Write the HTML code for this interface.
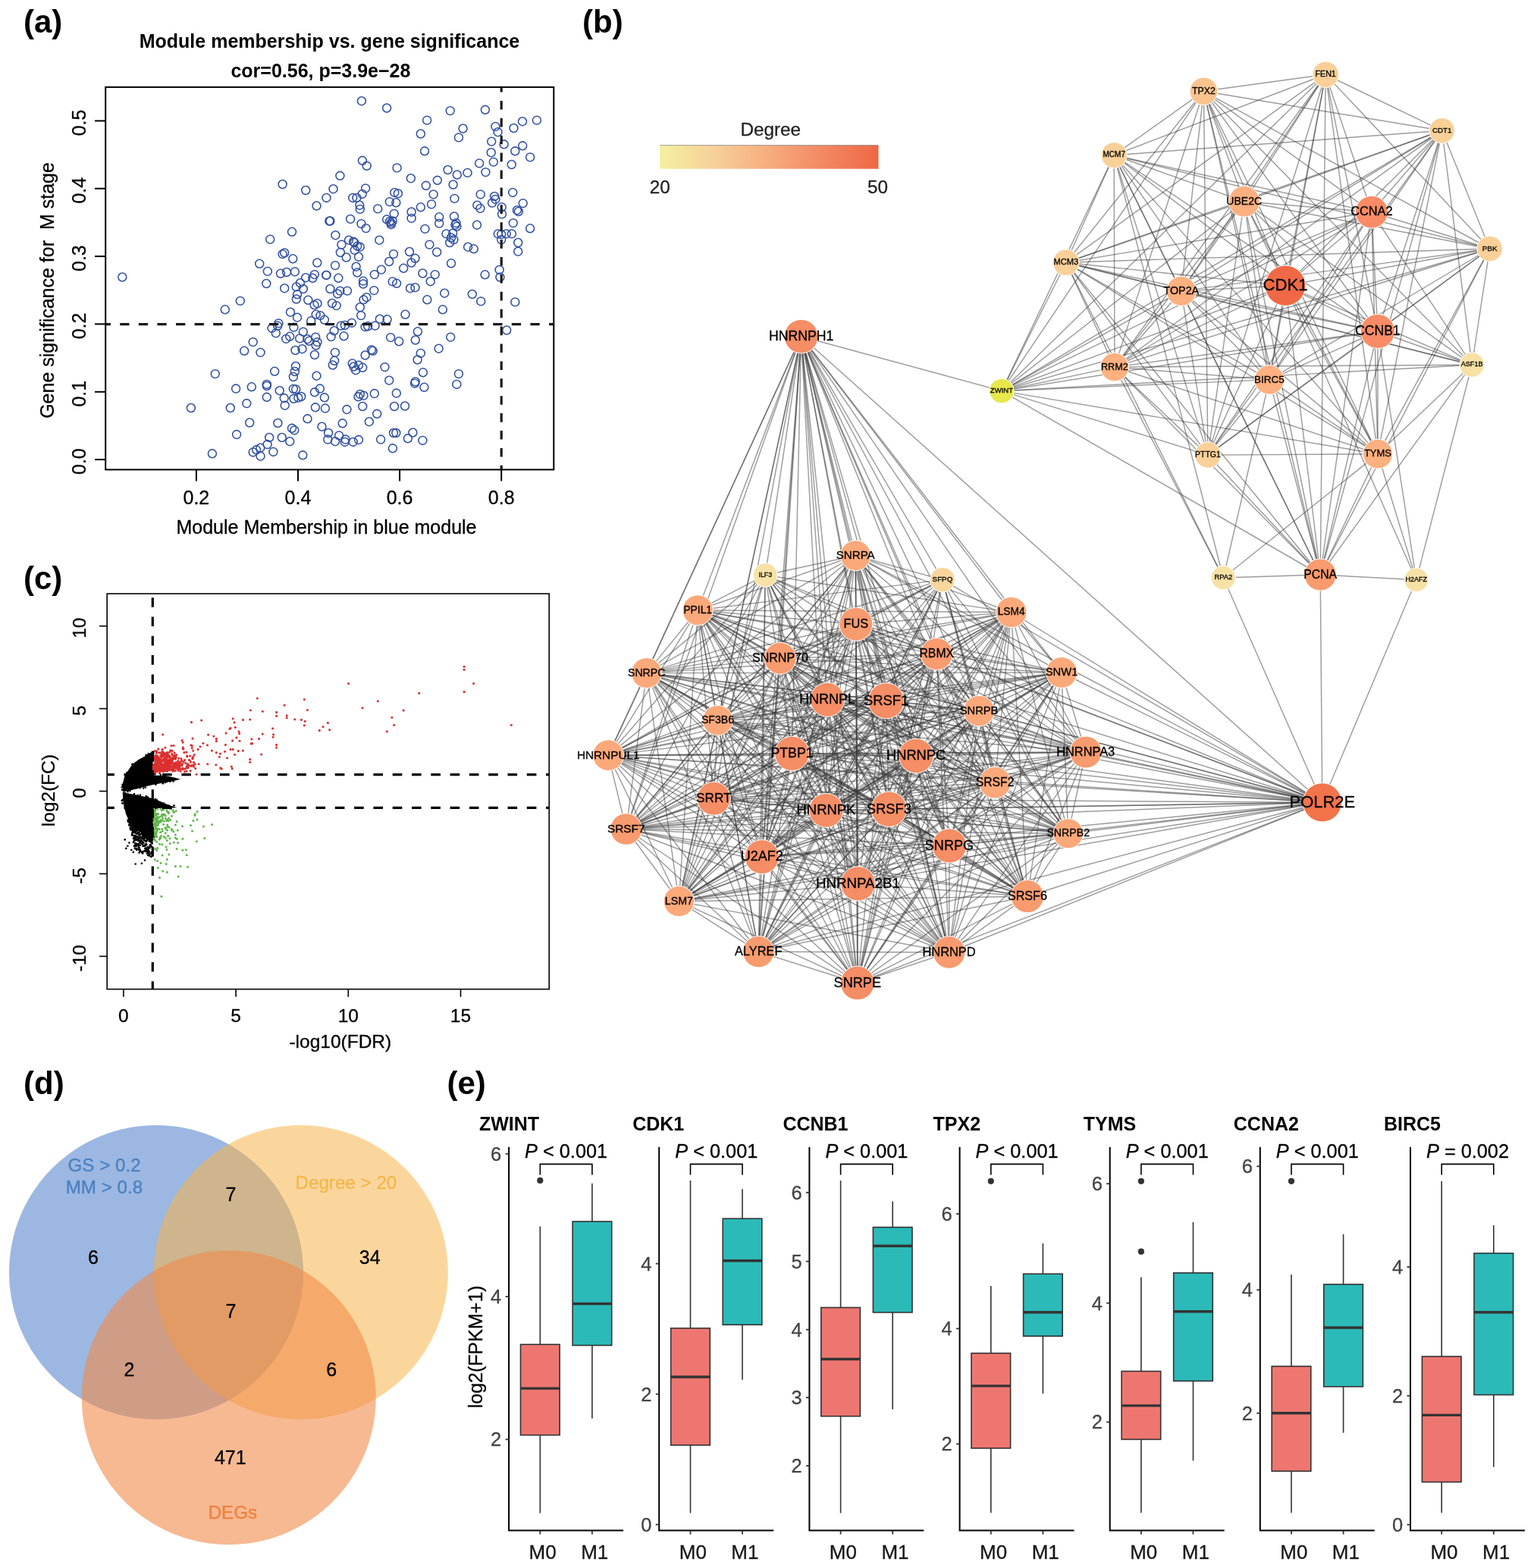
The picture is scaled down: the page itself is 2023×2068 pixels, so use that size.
<!DOCTYPE html>
<html><head><meta charset="utf-8"><title>Figure</title>
<style>html,body{margin:0;padding:0;background:#fff;} svg{display:block;} text{font-family:"Liberation Sans", Arial, Helvetica, sans-serif;}</style>
</head><body>
<svg xmlns="http://www.w3.org/2000/svg" width="2023" height="2068" viewBox="0 0 2023 2068">
<defs><clipPath id="clipa"><rect x="139.2" y="114.9" width="591.1" height="504.5"/></clipPath>
<clipPath id="clipc"><rect x="141.2" y="783" width="583" height="521.6"/></clipPath></defs>
<rect width="2023" height="2068" fill="#fff"/>
<text x="31.0" y="43.0" font-size="42" font-weight="bold">(a)</text>
<text x="768.0" y="43.0" font-size="42" font-weight="bold">(b)</text>
<text x="31.0" y="777.0" font-size="42" font-weight="bold">(c)</text>
<text x="31.0" y="1443.0" font-size="42" font-weight="bold">(d)</text>
<text x="589.5" y="1443.0" font-size="42" font-weight="bold">(e)</text>
<text x="434.5" y="62.6" font-size="25" font-weight="bold" text-anchor="middle">Module membership vs. gene significance</text>
<text x="422.9" y="101.9" font-size="25" font-weight="bold" text-anchor="middle">cor=0.56, p=3.9e−28</text>
<g fill="none" stroke="#3150a0" stroke-width="1.55">
<circle cx="372.6" cy="243.0" r="5.45"/>
<circle cx="403.2" cy="251.0" r="5.45"/>
<circle cx="430.5" cy="260.9" r="5.45"/>
<circle cx="417.5" cy="271.5" r="5.45"/>
<circle cx="434.4" cy="291.5" r="5.45"/>
<circle cx="385.0" cy="305.8" r="5.45"/>
<circle cx="356.2" cy="315.6" r="5.45"/>
<circle cx="372.6" cy="335.1" r="5.45"/>
<circle cx="375.2" cy="333.5" r="5.45"/>
<circle cx="386.3" cy="341.3" r="5.45"/>
<circle cx="342.2" cy="347.8" r="5.45"/>
<circle cx="418.3" cy="346.5" r="5.45"/>
<circle cx="352.9" cy="357.9" r="5.45"/>
<circle cx="370.0" cy="360.8" r="5.45"/>
<circle cx="378.0" cy="359.0" r="5.45"/>
<circle cx="388.9" cy="358.4" r="5.45"/>
<circle cx="414.9" cy="362.1" r="5.45"/>
<circle cx="430.5" cy="362.9" r="5.45"/>
<circle cx="412.3" cy="366.8" r="5.45"/>
<circle cx="403.2" cy="366.2" r="5.45"/>
<circle cx="161.3" cy="365.5" r="5.45"/>
<circle cx="351.3" cy="374.0" r="5.45"/>
<circle cx="395.9" cy="373.2" r="5.45"/>
<circle cx="375.2" cy="380.2" r="5.45"/>
<circle cx="390.8" cy="378.4" r="5.45"/>
<circle cx="399.8" cy="381.0" r="5.45"/>
<circle cx="392.0" cy="388.3" r="5.45"/>
<circle cx="390.8" cy="394.5" r="5.45"/>
<circle cx="406.3" cy="395.8" r="5.45"/>
<circle cx="414.6" cy="402.3" r="5.45"/>
<circle cx="418.5" cy="400.2" r="5.45"/>
<circle cx="316.8" cy="396.9" r="5.45"/>
<circle cx="296.8" cy="408.3" r="5.45"/>
<circle cx="383.0" cy="411.7" r="5.45"/>
<circle cx="392.0" cy="418.7" r="5.45"/>
<circle cx="416.7" cy="414.8" r="5.45"/>
<circle cx="422.4" cy="416.1" r="5.45"/>
<circle cx="427.9" cy="421.8" r="5.45"/>
<circle cx="410.2" cy="423.3" r="5.45"/>
<circle cx="367.4" cy="426.4" r="5.45"/>
<circle cx="366.1" cy="429.8" r="5.45"/>
<circle cx="358.6" cy="432.9" r="5.45"/>
<circle cx="387.4" cy="431.6" r="5.45"/>
<circle cx="363.8" cy="439.4" r="5.45"/>
<circle cx="399.8" cy="437.6" r="5.45"/>
<circle cx="382.2" cy="443.8" r="5.45"/>
<circle cx="377.3" cy="446.9" r="5.45"/>
<circle cx="395.2" cy="446.4" r="5.45"/>
<circle cx="405.5" cy="447.2" r="5.45"/>
<circle cx="407.6" cy="449.8" r="5.45"/>
<circle cx="416.2" cy="444.6" r="5.45"/>
<circle cx="418.5" cy="451.1" r="5.45"/>
<circle cx="416.7" cy="455.5" r="5.45"/>
<circle cx="333.7" cy="451.1" r="5.45"/>
<circle cx="322.2" cy="462.8" r="5.45"/>
<circle cx="343.5" cy="464.9" r="5.45"/>
<circle cx="389.5" cy="462.0" r="5.45"/>
<circle cx="398.5" cy="460.2" r="5.45"/>
<circle cx="414.9" cy="468.0" r="5.45"/>
<circle cx="283.8" cy="493.1" r="5.45"/>
<circle cx="362.2" cy="489.8" r="5.45"/>
<circle cx="390.0" cy="483.0" r="5.45"/>
<circle cx="388.9" cy="490.0" r="5.45"/>
<circle cx="386.9" cy="497.0" r="5.45"/>
<circle cx="417.5" cy="495.7" r="5.45"/>
<circle cx="351.8" cy="506.9" r="5.45"/>
<circle cx="351.8" cy="509.0" r="5.45"/>
<circle cx="311.1" cy="512.6" r="5.45"/>
<circle cx="331.8" cy="510.3" r="5.45"/>
<circle cx="368.7" cy="515.2" r="5.45"/>
<circle cx="386.9" cy="512.9" r="5.45"/>
<circle cx="390.2" cy="513.4" r="5.45"/>
<circle cx="414.9" cy="517.3" r="5.45"/>
<circle cx="421.9" cy="512.6" r="5.45"/>
<circle cx="351.8" cy="523.8" r="5.45"/>
<circle cx="374.7" cy="525.1" r="5.45"/>
<circle cx="387.4" cy="525.8" r="5.45"/>
<circle cx="393.3" cy="524.6" r="5.45"/>
<circle cx="397.2" cy="523.0" r="5.45"/>
<circle cx="427.9" cy="524.3" r="5.45"/>
<circle cx="251.9" cy="538.0" r="5.45"/>
<circle cx="303.8" cy="538.0" r="5.45"/>
<circle cx="325.3" cy="532.1" r="5.45"/>
<circle cx="375.7" cy="534.7" r="5.45"/>
<circle cx="415.9" cy="537.3" r="5.45"/>
<circle cx="428.9" cy="538.6" r="5.45"/>
<circle cx="405.5" cy="552.3" r="5.45"/>
<circle cx="329.2" cy="557.5" r="5.45"/>
<circle cx="366.4" cy="558.0" r="5.45"/>
<circle cx="385.0" cy="564.8" r="5.45"/>
<circle cx="388.2" cy="567.4" r="5.45"/>
<circle cx="424.5" cy="562.7" r="5.45"/>
<circle cx="312.1" cy="573.1" r="5.45"/>
<circle cx="355.2" cy="577.0" r="5.45"/>
<circle cx="371.8" cy="577.0" r="5.45"/>
<circle cx="382.2" cy="582.2" r="5.45"/>
<circle cx="433.1" cy="571.0" r="5.45"/>
<circle cx="432.3" cy="579.6" r="5.45"/>
<circle cx="352.6" cy="586.1" r="5.45"/>
<circle cx="343.3" cy="590.7" r="5.45"/>
<circle cx="338.1" cy="593.3" r="5.45"/>
<circle cx="333.7" cy="596.4" r="5.45"/>
<circle cx="360.4" cy="595.9" r="5.45"/>
<circle cx="343.5" cy="601.6" r="5.45"/>
<circle cx="279.9" cy="598.3" r="5.45"/>
<circle cx="399.3" cy="600.3" r="5.45"/>
<circle cx="476.9" cy="133.2" r="5.45"/>
<circle cx="510.1" cy="142.5" r="5.45"/>
<circle cx="593.7" cy="146.1" r="5.45"/>
<circle cx="639.9" cy="144.8" r="5.45"/>
<circle cx="563.1" cy="158.6" r="5.45"/>
<circle cx="689.0" cy="160.2" r="5.45"/>
<circle cx="707.9" cy="158.6" r="5.45"/>
<circle cx="610.6" cy="169.5" r="5.45"/>
<circle cx="653.4" cy="166.9" r="5.45"/>
<circle cx="656.5" cy="174.2" r="5.45"/>
<circle cx="677.5" cy="169.0" r="5.45"/>
<circle cx="554.8" cy="176.5" r="5.45"/>
<circle cx="604.9" cy="181.4" r="5.45"/>
<circle cx="648.2" cy="186.6" r="5.45"/>
<circle cx="664.6" cy="190.3" r="5.45"/>
<circle cx="689.2" cy="192.3" r="5.45"/>
<circle cx="679.3" cy="199.3" r="5.45"/>
<circle cx="560.0" cy="199.3" r="5.45"/>
<circle cx="647.7" cy="201.2" r="5.45"/>
<circle cx="699.1" cy="207.4" r="5.45"/>
<circle cx="650.8" cy="213.6" r="5.45"/>
<circle cx="674.7" cy="217.0" r="5.45"/>
<circle cx="632.1" cy="215.4" r="5.45"/>
<circle cx="477.9" cy="211.8" r="5.45"/>
<circle cx="483.7" cy="218.8" r="5.45"/>
<circle cx="523.6" cy="221.4" r="5.45"/>
<circle cx="590.6" cy="224.0" r="5.45"/>
<circle cx="602.8" cy="230.5" r="5.45"/>
<circle cx="616.5" cy="227.9" r="5.45"/>
<circle cx="640.4" cy="227.1" r="5.45"/>
<circle cx="448.4" cy="231.8" r="5.45"/>
<circle cx="541.8" cy="235.2" r="5.45"/>
<circle cx="576.8" cy="237.8" r="5.45"/>
<circle cx="561.8" cy="244.8" r="5.45"/>
<circle cx="597.6" cy="243.5" r="5.45"/>
<circle cx="439.5" cy="249.2" r="5.45"/>
<circle cx="482.1" cy="248.4" r="5.45"/>
<circle cx="477.7" cy="255.9" r="5.45"/>
<circle cx="571.6" cy="256.4" r="5.45"/>
<circle cx="520.3" cy="253.9" r="5.45"/>
<circle cx="524.9" cy="255.2" r="5.45"/>
<circle cx="633.7" cy="256.4" r="5.45"/>
<circle cx="676.2" cy="253.9" r="5.45"/>
<circle cx="652.1" cy="259.0" r="5.45"/>
<circle cx="653.4" cy="262.9" r="5.45"/>
<circle cx="649.0" cy="267.6" r="5.45"/>
<circle cx="465.2" cy="260.9" r="5.45"/>
<circle cx="470.4" cy="260.9" r="5.45"/>
<circle cx="513.8" cy="266.1" r="5.45"/>
<circle cx="522.3" cy="267.3" r="5.45"/>
<circle cx="569.0" cy="269.4" r="5.45"/>
<circle cx="599.4" cy="261.9" r="5.45"/>
<circle cx="474.3" cy="270.7" r="5.45"/>
<circle cx="474.8" cy="275.9" r="5.45"/>
<circle cx="498.2" cy="275.4" r="5.45"/>
<circle cx="554.8" cy="273.3" r="5.45"/>
<circle cx="629.3" cy="270.7" r="5.45"/>
<circle cx="633.4" cy="274.9" r="5.45"/>
<circle cx="661.7" cy="273.3" r="5.45"/>
<circle cx="689.7" cy="268.1" r="5.45"/>
<circle cx="681.9" cy="277.2" r="5.45"/>
<circle cx="683.8" cy="279.0" r="5.45"/>
<circle cx="662.0" cy="282.4" r="5.45"/>
<circle cx="519.7" cy="281.9" r="5.45"/>
<circle cx="542.6" cy="279.5" r="5.45"/>
<circle cx="542.6" cy="287.9" r="5.45"/>
<circle cx="579.2" cy="286.3" r="5.45"/>
<circle cx="579.2" cy="294.6" r="5.45"/>
<circle cx="598.9" cy="285.5" r="5.45"/>
<circle cx="601.5" cy="294.1" r="5.45"/>
<circle cx="600.4" cy="296.7" r="5.45"/>
<circle cx="602.3" cy="298.8" r="5.45"/>
<circle cx="510.1" cy="289.4" r="5.45"/>
<circle cx="514.0" cy="292.0" r="5.45"/>
<circle cx="515.8" cy="294.1" r="5.45"/>
<circle cx="517.7" cy="291.5" r="5.45"/>
<circle cx="515.8" cy="296.2" r="5.45"/>
<circle cx="435.4" cy="291.5" r="5.45"/>
<circle cx="462.1" cy="288.9" r="5.45"/>
<circle cx="476.4" cy="295.1" r="5.45"/>
<circle cx="482.6" cy="301.1" r="5.45"/>
<circle cx="560.5" cy="301.9" r="5.45"/>
<circle cx="629.0" cy="296.7" r="5.45"/>
<circle cx="676.8" cy="294.1" r="5.45"/>
<circle cx="699.1" cy="301.3" r="5.45"/>
<circle cx="588.5" cy="308.4" r="5.45"/>
<circle cx="597.1" cy="307.6" r="5.45"/>
<circle cx="595.0" cy="313.5" r="5.45"/>
<circle cx="598.4" cy="316.1" r="5.45"/>
<circle cx="593.2" cy="320.0" r="5.45"/>
<circle cx="656.8" cy="308.4" r="5.45"/>
<circle cx="661.2" cy="309.1" r="5.45"/>
<circle cx="667.7" cy="308.4" r="5.45"/>
<circle cx="674.9" cy="308.4" r="5.45"/>
<circle cx="661.2" cy="316.1" r="5.45"/>
<circle cx="442.4" cy="310.2" r="5.45"/>
<circle cx="460.0" cy="316.7" r="5.45"/>
<circle cx="466.0" cy="318.7" r="5.45"/>
<circle cx="467.3" cy="320.0" r="5.45"/>
<circle cx="500.3" cy="316.7" r="5.45"/>
<circle cx="450.4" cy="322.6" r="5.45"/>
<circle cx="471.2" cy="324.7" r="5.45"/>
<circle cx="474.8" cy="325.7" r="5.45"/>
<circle cx="467.8" cy="329.9" r="5.45"/>
<circle cx="448.9" cy="333.0" r="5.45"/>
<circle cx="566.4" cy="322.6" r="5.45"/>
<circle cx="576.1" cy="332.5" r="5.45"/>
<circle cx="617.1" cy="325.7" r="5.45"/>
<circle cx="624.8" cy="328.3" r="5.45"/>
<circle cx="683.2" cy="320.0" r="5.45"/>
<circle cx="683.2" cy="331.7" r="5.45"/>
<circle cx="456.7" cy="339.5" r="5.45"/>
<circle cx="473.0" cy="338.7" r="5.45"/>
<circle cx="519.0" cy="335.1" r="5.45"/>
<circle cx="540.0" cy="332.0" r="5.45"/>
<circle cx="547.5" cy="340.8" r="5.45"/>
<circle cx="542.6" cy="346.5" r="5.45"/>
<circle cx="513.2" cy="345.0" r="5.45"/>
<circle cx="595.0" cy="347.3" r="5.45"/>
<circle cx="442.1" cy="350.1" r="5.45"/>
<circle cx="469.6" cy="351.7" r="5.45"/>
<circle cx="471.2" cy="359.5" r="5.45"/>
<circle cx="502.9" cy="355.6" r="5.45"/>
<circle cx="532.2" cy="353.8" r="5.45"/>
<circle cx="430.2" cy="362.9" r="5.45"/>
<circle cx="493.8" cy="362.1" r="5.45"/>
<circle cx="557.4" cy="360.5" r="5.45"/>
<circle cx="573.7" cy="362.1" r="5.45"/>
<circle cx="639.6" cy="362.3" r="5.45"/>
<circle cx="658.6" cy="355.9" r="5.45"/>
<circle cx="659.4" cy="365.5" r="5.45"/>
<circle cx="446.3" cy="366.8" r="5.45"/>
<circle cx="479.0" cy="370.6" r="5.45"/>
<circle cx="479.0" cy="374.5" r="5.45"/>
<circle cx="517.7" cy="371.4" r="5.45"/>
<circle cx="523.1" cy="373.8" r="5.45"/>
<circle cx="567.7" cy="371.2" r="5.45"/>
<circle cx="435.4" cy="381.0" r="5.45"/>
<circle cx="448.4" cy="383.6" r="5.45"/>
<circle cx="445.2" cy="387.5" r="5.45"/>
<circle cx="458.0" cy="383.6" r="5.45"/>
<circle cx="493.3" cy="383.1" r="5.45"/>
<circle cx="541.0" cy="380.2" r="5.45"/>
<circle cx="547.5" cy="379.2" r="5.45"/>
<circle cx="586.2" cy="386.7" r="5.45"/>
<circle cx="622.8" cy="388.0" r="5.45"/>
<circle cx="634.2" cy="397.4" r="5.45"/>
<circle cx="563.3" cy="395.3" r="5.45"/>
<circle cx="679.3" cy="398.4" r="5.45"/>
<circle cx="438.0" cy="400.0" r="5.45"/>
<circle cx="443.7" cy="403.1" r="5.45"/>
<circle cx="483.4" cy="392.2" r="5.45"/>
<circle cx="479.5" cy="395.3" r="5.45"/>
<circle cx="474.8" cy="405.2" r="5.45"/>
<circle cx="476.1" cy="416.1" r="5.45"/>
<circle cx="583.8" cy="408.3" r="5.45"/>
<circle cx="534.5" cy="414.8" r="5.45"/>
<circle cx="500.8" cy="420.7" r="5.45"/>
<circle cx="510.6" cy="421.3" r="5.45"/>
<circle cx="463.9" cy="425.9" r="5.45"/>
<circle cx="449.7" cy="429.6" r="5.45"/>
<circle cx="454.8" cy="429.0" r="5.45"/>
<circle cx="481.6" cy="431.1" r="5.45"/>
<circle cx="485.2" cy="430.3" r="5.45"/>
<circle cx="494.6" cy="429.6" r="5.45"/>
<circle cx="668.2" cy="435.5" r="5.45"/>
<circle cx="440.6" cy="436.3" r="5.45"/>
<circle cx="436.7" cy="444.1" r="5.45"/>
<circle cx="453.5" cy="443.3" r="5.45"/>
<circle cx="550.9" cy="437.3" r="5.45"/>
<circle cx="547.8" cy="448.5" r="5.45"/>
<circle cx="515.1" cy="445.1" r="5.45"/>
<circle cx="526.2" cy="450.3" r="5.45"/>
<circle cx="594.2" cy="444.6" r="5.45"/>
<circle cx="578.6" cy="459.7" r="5.45"/>
<circle cx="441.9" cy="464.9" r="5.45"/>
<circle cx="489.9" cy="461.5" r="5.45"/>
<circle cx="491.7" cy="462.8" r="5.45"/>
<circle cx="481.6" cy="468.5" r="5.45"/>
<circle cx="554.8" cy="465.9" r="5.45"/>
<circle cx="550.6" cy="474.5" r="5.45"/>
<circle cx="441.1" cy="475.8" r="5.45"/>
<circle cx="438.8" cy="481.5" r="5.45"/>
<circle cx="464.7" cy="479.4" r="5.45"/>
<circle cx="473.0" cy="481.7" r="5.45"/>
<circle cx="466.5" cy="483.5" r="5.45"/>
<circle cx="469.1" cy="488.2" r="5.45"/>
<circle cx="478.2" cy="484.8" r="5.45"/>
<circle cx="507.5" cy="484.1" r="5.45"/>
<circle cx="557.9" cy="491.3" r="5.45"/>
<circle cx="604.9" cy="493.1" r="5.45"/>
<circle cx="513.2" cy="501.7" r="5.45"/>
<circle cx="547.8" cy="503.5" r="5.45"/>
<circle cx="547.0" cy="505.6" r="5.45"/>
<circle cx="559.4" cy="510.8" r="5.45"/>
<circle cx="602.3" cy="506.9" r="5.45"/>
<circle cx="493.8" cy="519.1" r="5.45"/>
<circle cx="474.8" cy="519.9" r="5.45"/>
<circle cx="472.5" cy="523.3" r="5.45"/>
<circle cx="479.5" cy="521.7" r="5.45"/>
<circle cx="522.8" cy="518.6" r="5.45"/>
<circle cx="478.2" cy="536.0" r="5.45"/>
<circle cx="520.0" cy="536.0" r="5.45"/>
<circle cx="534.0" cy="535.5" r="5.45"/>
<circle cx="457.4" cy="540.1" r="5.45"/>
<circle cx="497.2" cy="545.8" r="5.45"/>
<circle cx="451.7" cy="558.3" r="5.45"/>
<circle cx="486.8" cy="556.2" r="5.45"/>
<circle cx="519.0" cy="571.0" r="5.45"/>
<circle cx="522.3" cy="571.0" r="5.45"/>
<circle cx="544.4" cy="570.5" r="5.45"/>
<circle cx="537.9" cy="578.3" r="5.45"/>
<circle cx="557.4" cy="580.9" r="5.45"/>
<circle cx="447.1" cy="574.4" r="5.45"/>
<circle cx="442.1" cy="582.2" r="5.45"/>
<circle cx="455.6" cy="579.6" r="5.45"/>
<circle cx="454.8" cy="582.9" r="5.45"/>
<circle cx="465.7" cy="582.9" r="5.45"/>
<circle cx="473.0" cy="580.1" r="5.45"/>
<circle cx="502.1" cy="579.6" r="5.45"/>
<circle cx="517.9" cy="591.3" r="5.45"/>
</g>
<g clip-path="url(#clipa)">
<line x1="139.2" y1="427.6" x2="730.3" y2="427.6" stroke="#1a1a1a" stroke-width="3.2" stroke-dasharray="12.3 12.3" stroke-dashoffset="5.6"/>
<line x1="661.2" y1="114.9" x2="661.2" y2="619.4" stroke="#1a1a1a" stroke-width="3.2" stroke-dasharray="11.6 11.3" stroke-dashoffset="4.9"/>
</g>
<rect x="139.2" y="114.9" width="591.1" height="504.5" fill="none" stroke="#000" stroke-width="2"/>
<line x1="125.0" y1="606.1" x2="139.2" y2="606.1" stroke="#000" stroke-width="2"/>
<text x="113.2" y="608.6" font-size="25" text-anchor="middle" stroke="#000" stroke-width="0.3" transform="rotate(-90 113.2 608.6)">0.0</text>
<line x1="125.0" y1="516.8" x2="139.2" y2="516.8" stroke="#000" stroke-width="2"/>
<text x="113.2" y="519.2" font-size="25" text-anchor="middle" stroke="#000" stroke-width="0.3" transform="rotate(-90 113.2 519.2)">0.1</text>
<line x1="125.0" y1="427.4" x2="139.2" y2="427.4" stroke="#000" stroke-width="2"/>
<text x="113.2" y="429.9" font-size="25" text-anchor="middle" stroke="#000" stroke-width="0.3" transform="rotate(-90 113.2 429.9)">0.2</text>
<line x1="125.0" y1="338.1" x2="139.2" y2="338.1" stroke="#000" stroke-width="2"/>
<text x="113.2" y="340.6" font-size="25" text-anchor="middle" stroke="#000" stroke-width="0.3" transform="rotate(-90 113.2 340.6)">0.3</text>
<line x1="125.0" y1="248.7" x2="139.2" y2="248.7" stroke="#000" stroke-width="2"/>
<text x="113.2" y="251.2" font-size="25" text-anchor="middle" stroke="#000" stroke-width="0.3" transform="rotate(-90 113.2 251.2)">0.4</text>
<line x1="125.0" y1="159.4" x2="139.2" y2="159.4" stroke="#000" stroke-width="2"/>
<text x="113.2" y="161.9" font-size="25" text-anchor="middle" stroke="#000" stroke-width="0.3" transform="rotate(-90 113.2 161.9)">0.5</text>
<line x1="258.9" y1="619.4" x2="258.9" y2="634.5" stroke="#000" stroke-width="2"/>
<text x="258.9" y="664.6" font-size="25" text-anchor="middle" stroke="#000" stroke-width="0.3">0.2</text>
<line x1="393.0" y1="619.4" x2="393.0" y2="634.5" stroke="#000" stroke-width="2"/>
<text x="393.0" y="664.6" font-size="25" text-anchor="middle" stroke="#000" stroke-width="0.3">0.4</text>
<line x1="527.1" y1="619.4" x2="527.1" y2="634.5" stroke="#000" stroke-width="2"/>
<text x="527.1" y="664.6" font-size="25" text-anchor="middle" stroke="#000" stroke-width="0.3">0.6</text>
<line x1="661.2" y1="619.4" x2="661.2" y2="634.5" stroke="#000" stroke-width="2"/>
<text x="661.2" y="664.6" font-size="25" text-anchor="middle" stroke="#000" stroke-width="0.3">0.8</text>
<text x="430.5" y="703.5" font-size="25" text-anchor="middle" stroke="#000" stroke-width="0.3">Module Membership in blue module</text>
<text x="71.3" y="383.0" font-size="25" text-anchor="middle" stroke="#000" stroke-width="0.3" transform="rotate(-90 71.3 383.0)">Gene significance for  M stage</text>
<g stroke="#3a3a3a" stroke-opacity="0.5" stroke-width="1.45" stroke-linecap="butt">
<line x1="1000.3" y1="1255.2" x2="1128.8" y2="823.2"/>
<line x1="1000.3" y1="1255.2" x2="1131.5" y2="1165.4"/>
<line x1="1000.3" y1="1255.2" x2="1431.8" y2="992.0"/>
<line x1="1000.3" y1="1255.2" x2="1208.2" y2="996.9"/>
<line x1="1000.3" y1="1255.2" x2="1251.6" y2="1256.0"/>
<line x1="1000.3" y1="1255.2" x2="1056.6" y2="443.7"/>
<line x1="1000.3" y1="1255.2" x2="1089.5" y2="1068.8"/>
<line x1="1000.3" y1="1255.2" x2="1091.1" y2="922.8"/>
<line x1="1000.3" y1="1255.2" x2="802.2" y2="996.1"/>
<line x1="1000.3" y1="1255.2" x2="1009.2" y2="758.5"/>
<line x1="1000.3" y1="1255.2" x2="1333.7" y2="807.5"/>
<line x1="1000.3" y1="1255.2" x2="895.4" y2="1188.7"/>
<line x1="1000.3" y1="1255.2" x2="1743.8" y2="1058.3"/>
<line x1="1000.3" y1="1255.2" x2="920.2" y2="804.8"/>
<line x1="1000.3" y1="1255.2" x2="1044.5" y2="993.8"/>
<line x1="1000.3" y1="1255.2" x2="1235.3" y2="862.6"/>
<line x1="1000.3" y1="1255.2" x2="946.5" y2="950.1"/>
<line x1="1000.3" y1="1255.2" x2="1242.9" y2="764.6"/>
<line x1="1000.3" y1="1255.2" x2="1028.9" y2="868.2"/>
<line x1="1000.3" y1="1255.2" x2="1128.3" y2="732.7"/>
<line x1="1000.3" y1="1255.2" x2="1291.1" y2="937.6"/>
<line x1="1000.3" y1="1255.2" x2="1408.7" y2="1099.3"/>
<line x1="1000.3" y1="1255.2" x2="852.7" y2="887.6"/>
<line x1="1000.3" y1="1255.2" x2="1130.8" y2="1296.5"/>
<line x1="1000.3" y1="1255.2" x2="1252.0" y2="1115.5"/>
<line x1="1000.3" y1="1255.2" x2="1400.0" y2="887.0"/>
<line x1="1000.3" y1="1255.2" x2="941.4" y2="1053.2"/>
<line x1="1000.3" y1="1255.2" x2="1168.6" y2="924.3"/>
<line x1="1000.3" y1="1255.2" x2="1312.1" y2="1032.2"/>
<line x1="1000.3" y1="1255.2" x2="1172.4" y2="1067.2"/>
<line x1="1000.3" y1="1255.2" x2="1354.9" y2="1182.2"/>
<line x1="1000.3" y1="1255.2" x2="825.8" y2="1093.5"/>
<line x1="1000.3" y1="1255.2" x2="1004.8" y2="1130.1"/>
<line x1="1941.2" y1="481.2" x2="1808.9" y2="279.7"/>
<line x1="1941.2" y1="481.2" x2="1816.9" y2="437.0"/>
<line x1="1941.2" y1="481.2" x2="1695.1" y2="376.7"/>
<line x1="1941.2" y1="481.2" x2="1901.7" y2="172.3"/>
<line x1="1941.2" y1="481.2" x2="1867.8" y2="764.7"/>
<line x1="1941.2" y1="481.2" x2="1405.9" y2="346.2"/>
<line x1="1941.2" y1="481.2" x2="1964.6" y2="328.0"/>
<line x1="1941.2" y1="481.2" x2="1741.2" y2="758.0"/>
<line x1="1941.2" y1="481.2" x2="1469.9" y2="484.1"/>
<line x1="1941.2" y1="481.2" x2="1557.8" y2="383.9"/>
<line x1="1941.2" y1="481.2" x2="1587.4" y2="120.3"/>
<line x1="1941.2" y1="481.2" x2="1817.0" y2="598.7"/>
<line x1="1941.2" y1="481.2" x2="1640.8" y2="265.7"/>
<line x1="1941.2" y1="481.2" x2="1321.0" y2="515.6"/>
<line x1="1674.0" y1="500.9" x2="1808.9" y2="279.7"/>
<line x1="1674.0" y1="500.9" x2="1816.9" y2="437.0"/>
<line x1="1674.0" y1="500.9" x2="1695.1" y2="376.7"/>
<line x1="1674.0" y1="500.9" x2="1901.7" y2="172.3"/>
<line x1="1674.0" y1="500.9" x2="1748.2" y2="98.3"/>
<line x1="1674.0" y1="500.9" x2="1405.9" y2="346.2"/>
<line x1="1674.0" y1="500.9" x2="1469.2" y2="204.7"/>
<line x1="1674.0" y1="500.9" x2="1964.6" y2="328.0"/>
<line x1="1674.0" y1="500.9" x2="1741.2" y2="758.0"/>
<line x1="1674.0" y1="500.9" x2="1592.9" y2="600.1"/>
<line x1="1674.0" y1="500.9" x2="1613.3" y2="762.0"/>
<line x1="1674.0" y1="500.9" x2="1469.9" y2="484.1"/>
<line x1="1674.0" y1="500.9" x2="1557.8" y2="383.9"/>
<line x1="1674.0" y1="500.9" x2="1587.4" y2="120.3"/>
<line x1="1674.0" y1="500.9" x2="1817.0" y2="598.7"/>
<line x1="1674.0" y1="500.9" x2="1640.8" y2="265.7"/>
<line x1="1674.0" y1="500.9" x2="1321.0" y2="515.6"/>
<line x1="1808.9" y1="279.7" x2="1816.9" y2="437.0"/>
<line x1="1808.9" y1="279.7" x2="1695.1" y2="376.7"/>
<line x1="1808.9" y1="279.7" x2="1901.7" y2="172.3"/>
<line x1="1808.9" y1="279.7" x2="1748.2" y2="98.3"/>
<line x1="1808.9" y1="279.7" x2="1405.9" y2="346.2"/>
<line x1="1808.9" y1="279.7" x2="1469.2" y2="204.7"/>
<line x1="1808.9" y1="279.7" x2="1964.6" y2="328.0"/>
<line x1="1808.9" y1="279.7" x2="1741.2" y2="758.0"/>
<line x1="1808.9" y1="279.7" x2="1592.9" y2="600.1"/>
<line x1="1808.9" y1="279.7" x2="1469.9" y2="484.1"/>
<line x1="1808.9" y1="279.7" x2="1557.8" y2="383.9"/>
<line x1="1808.9" y1="279.7" x2="1587.4" y2="120.3"/>
<line x1="1808.9" y1="279.7" x2="1817.0" y2="598.7"/>
<line x1="1808.9" y1="279.7" x2="1640.8" y2="265.7"/>
<line x1="1808.9" y1="279.7" x2="1321.0" y2="515.6"/>
<line x1="1816.9" y1="437.0" x2="1695.1" y2="376.7"/>
<line x1="1816.9" y1="437.0" x2="1901.7" y2="172.3"/>
<line x1="1816.9" y1="437.0" x2="1748.2" y2="98.3"/>
<line x1="1816.9" y1="437.0" x2="1867.8" y2="764.7"/>
<line x1="1816.9" y1="437.0" x2="1405.9" y2="346.2"/>
<line x1="1816.9" y1="437.0" x2="1469.2" y2="204.7"/>
<line x1="1816.9" y1="437.0" x2="1964.6" y2="328.0"/>
<line x1="1816.9" y1="437.0" x2="1741.2" y2="758.0"/>
<line x1="1816.9" y1="437.0" x2="1592.9" y2="600.1"/>
<line x1="1816.9" y1="437.0" x2="1469.9" y2="484.1"/>
<line x1="1816.9" y1="437.0" x2="1557.8" y2="383.9"/>
<line x1="1816.9" y1="437.0" x2="1587.4" y2="120.3"/>
<line x1="1816.9" y1="437.0" x2="1817.0" y2="598.7"/>
<line x1="1816.9" y1="437.0" x2="1640.8" y2="265.7"/>
<line x1="1816.9" y1="437.0" x2="1321.0" y2="515.6"/>
<line x1="1695.1" y1="376.7" x2="1901.7" y2="172.3"/>
<line x1="1695.1" y1="376.7" x2="1748.2" y2="98.3"/>
<line x1="1695.1" y1="376.7" x2="1867.8" y2="764.7"/>
<line x1="1695.1" y1="376.7" x2="1405.9" y2="346.2"/>
<line x1="1695.1" y1="376.7" x2="1469.2" y2="204.7"/>
<line x1="1695.1" y1="376.7" x2="1964.6" y2="328.0"/>
<line x1="1695.1" y1="376.7" x2="1741.2" y2="758.0"/>
<line x1="1695.1" y1="376.7" x2="1592.9" y2="600.1"/>
<line x1="1695.1" y1="376.7" x2="1469.9" y2="484.1"/>
<line x1="1695.1" y1="376.7" x2="1557.8" y2="383.9"/>
<line x1="1695.1" y1="376.7" x2="1587.4" y2="120.3"/>
<line x1="1695.1" y1="376.7" x2="1817.0" y2="598.7"/>
<line x1="1695.1" y1="376.7" x2="1640.8" y2="265.7"/>
<line x1="1695.1" y1="376.7" x2="1321.0" y2="515.6"/>
<line x1="1901.7" y1="172.3" x2="1748.2" y2="98.3"/>
<line x1="1901.7" y1="172.3" x2="1405.9" y2="346.2"/>
<line x1="1901.7" y1="172.3" x2="1469.2" y2="204.7"/>
<line x1="1901.7" y1="172.3" x2="1964.6" y2="328.0"/>
<line x1="1901.7" y1="172.3" x2="1741.2" y2="758.0"/>
<line x1="1901.7" y1="172.3" x2="1592.9" y2="600.1"/>
<line x1="1901.7" y1="172.3" x2="1469.9" y2="484.1"/>
<line x1="1901.7" y1="172.3" x2="1557.8" y2="383.9"/>
<line x1="1901.7" y1="172.3" x2="1587.4" y2="120.3"/>
<line x1="1901.7" y1="172.3" x2="1817.0" y2="598.7"/>
<line x1="1901.7" y1="172.3" x2="1640.8" y2="265.7"/>
<line x1="1901.7" y1="172.3" x2="1321.0" y2="515.6"/>
<line x1="1748.2" y1="98.3" x2="1405.9" y2="346.2"/>
<line x1="1748.2" y1="98.3" x2="1469.2" y2="204.7"/>
<line x1="1748.2" y1="98.3" x2="1964.6" y2="328.0"/>
<line x1="1748.2" y1="98.3" x2="1741.2" y2="758.0"/>
<line x1="1748.2" y1="98.3" x2="1592.9" y2="600.1"/>
<line x1="1748.2" y1="98.3" x2="1469.9" y2="484.1"/>
<line x1="1748.2" y1="98.3" x2="1557.8" y2="383.9"/>
<line x1="1748.2" y1="98.3" x2="1587.4" y2="120.3"/>
<line x1="1748.2" y1="98.3" x2="1817.0" y2="598.7"/>
<line x1="1748.2" y1="98.3" x2="1640.8" y2="265.7"/>
<line x1="1748.2" y1="98.3" x2="1321.0" y2="515.6"/>
<line x1="1128.8" y1="823.2" x2="1131.5" y2="1165.4"/>
<line x1="1128.8" y1="823.2" x2="1431.8" y2="992.0"/>
<line x1="1128.8" y1="823.2" x2="1208.2" y2="996.9"/>
<line x1="1128.8" y1="823.2" x2="1251.6" y2="1256.0"/>
<line x1="1128.8" y1="823.2" x2="1056.6" y2="443.7"/>
<line x1="1128.8" y1="823.2" x2="1089.5" y2="1068.8"/>
<line x1="1128.8" y1="823.2" x2="1091.1" y2="922.8"/>
<line x1="1128.8" y1="823.2" x2="802.2" y2="996.1"/>
<line x1="1128.8" y1="823.2" x2="1333.7" y2="807.5"/>
<line x1="1128.8" y1="823.2" x2="895.4" y2="1188.7"/>
<line x1="1128.8" y1="823.2" x2="1743.8" y2="1058.3"/>
<line x1="1128.8" y1="823.2" x2="920.2" y2="804.8"/>
<line x1="1128.8" y1="823.2" x2="1044.5" y2="993.8"/>
<line x1="1128.8" y1="823.2" x2="1235.3" y2="862.6"/>
<line x1="1128.8" y1="823.2" x2="946.5" y2="950.1"/>
<line x1="1128.8" y1="823.2" x2="1242.9" y2="764.6"/>
<line x1="1128.8" y1="823.2" x2="1028.9" y2="868.2"/>
<line x1="1128.8" y1="823.2" x2="1128.3" y2="732.7"/>
<line x1="1128.8" y1="823.2" x2="1291.1" y2="937.6"/>
<line x1="1128.8" y1="823.2" x2="1408.7" y2="1099.3"/>
<line x1="1128.8" y1="823.2" x2="852.7" y2="887.6"/>
<line x1="1128.8" y1="823.2" x2="1130.8" y2="1296.5"/>
<line x1="1128.8" y1="823.2" x2="1252.0" y2="1115.5"/>
<line x1="1128.8" y1="823.2" x2="1400.0" y2="887.0"/>
<line x1="1128.8" y1="823.2" x2="941.4" y2="1053.2"/>
<line x1="1128.8" y1="823.2" x2="1168.6" y2="924.3"/>
<line x1="1128.8" y1="823.2" x2="1312.1" y2="1032.2"/>
<line x1="1128.8" y1="823.2" x2="1172.4" y2="1067.2"/>
<line x1="1128.8" y1="823.2" x2="1354.9" y2="1182.2"/>
<line x1="1128.8" y1="823.2" x2="825.8" y2="1093.5"/>
<line x1="1128.8" y1="823.2" x2="1004.8" y2="1130.1"/>
<line x1="1867.8" y1="764.7" x2="1741.2" y2="758.0"/>
<line x1="1867.8" y1="764.7" x2="1743.8" y2="1058.3"/>
<line x1="1867.8" y1="764.7" x2="1817.0" y2="598.7"/>
<line x1="1131.5" y1="1165.4" x2="1431.8" y2="992.0"/>
<line x1="1131.5" y1="1165.4" x2="1208.2" y2="996.9"/>
<line x1="1131.5" y1="1165.4" x2="1251.6" y2="1256.0"/>
<line x1="1131.5" y1="1165.4" x2="1056.6" y2="443.7"/>
<line x1="1131.5" y1="1165.4" x2="1089.5" y2="1068.8"/>
<line x1="1131.5" y1="1165.4" x2="1091.1" y2="922.8"/>
<line x1="1131.5" y1="1165.4" x2="802.2" y2="996.1"/>
<line x1="1131.5" y1="1165.4" x2="1009.2" y2="758.5"/>
<line x1="1131.5" y1="1165.4" x2="1333.7" y2="807.5"/>
<line x1="1131.5" y1="1165.4" x2="895.4" y2="1188.7"/>
<line x1="1131.5" y1="1165.4" x2="1743.8" y2="1058.3"/>
<line x1="1131.5" y1="1165.4" x2="920.2" y2="804.8"/>
<line x1="1131.5" y1="1165.4" x2="1044.5" y2="993.8"/>
<line x1="1131.5" y1="1165.4" x2="1235.3" y2="862.6"/>
<line x1="1131.5" y1="1165.4" x2="946.5" y2="950.1"/>
<line x1="1131.5" y1="1165.4" x2="1028.9" y2="868.2"/>
<line x1="1131.5" y1="1165.4" x2="1128.3" y2="732.7"/>
<line x1="1131.5" y1="1165.4" x2="1291.1" y2="937.6"/>
<line x1="1131.5" y1="1165.4" x2="1408.7" y2="1099.3"/>
<line x1="1131.5" y1="1165.4" x2="852.7" y2="887.6"/>
<line x1="1131.5" y1="1165.4" x2="1130.8" y2="1296.5"/>
<line x1="1131.5" y1="1165.4" x2="1252.0" y2="1115.5"/>
<line x1="1131.5" y1="1165.4" x2="1400.0" y2="887.0"/>
<line x1="1131.5" y1="1165.4" x2="941.4" y2="1053.2"/>
<line x1="1131.5" y1="1165.4" x2="1168.6" y2="924.3"/>
<line x1="1131.5" y1="1165.4" x2="1312.1" y2="1032.2"/>
<line x1="1131.5" y1="1165.4" x2="1172.4" y2="1067.2"/>
<line x1="1131.5" y1="1165.4" x2="1354.9" y2="1182.2"/>
<line x1="1131.5" y1="1165.4" x2="825.8" y2="1093.5"/>
<line x1="1131.5" y1="1165.4" x2="1004.8" y2="1130.1"/>
<line x1="1431.8" y1="992.0" x2="1208.2" y2="996.9"/>
<line x1="1431.8" y1="992.0" x2="1251.6" y2="1256.0"/>
<line x1="1431.8" y1="992.0" x2="1056.6" y2="443.7"/>
<line x1="1431.8" y1="992.0" x2="1089.5" y2="1068.8"/>
<line x1="1431.8" y1="992.0" x2="1091.1" y2="922.8"/>
<line x1="1431.8" y1="992.0" x2="802.2" y2="996.1"/>
<line x1="1431.8" y1="992.0" x2="1333.7" y2="807.5"/>
<line x1="1431.8" y1="992.0" x2="895.4" y2="1188.7"/>
<line x1="1431.8" y1="992.0" x2="1743.8" y2="1058.3"/>
<line x1="1431.8" y1="992.0" x2="920.2" y2="804.8"/>
<line x1="1431.8" y1="992.0" x2="1044.5" y2="993.8"/>
<line x1="1431.8" y1="992.0" x2="1235.3" y2="862.6"/>
<line x1="1431.8" y1="992.0" x2="946.5" y2="950.1"/>
<line x1="1431.8" y1="992.0" x2="1242.9" y2="764.6"/>
<line x1="1431.8" y1="992.0" x2="1028.9" y2="868.2"/>
<line x1="1431.8" y1="992.0" x2="1128.3" y2="732.7"/>
<line x1="1431.8" y1="992.0" x2="1291.1" y2="937.6"/>
<line x1="1431.8" y1="992.0" x2="1408.7" y2="1099.3"/>
<line x1="1431.8" y1="992.0" x2="852.7" y2="887.6"/>
<line x1="1431.8" y1="992.0" x2="1130.8" y2="1296.5"/>
<line x1="1431.8" y1="992.0" x2="1252.0" y2="1115.5"/>
<line x1="1431.8" y1="992.0" x2="1400.0" y2="887.0"/>
<line x1="1431.8" y1="992.0" x2="941.4" y2="1053.2"/>
<line x1="1431.8" y1="992.0" x2="1168.6" y2="924.3"/>
<line x1="1431.8" y1="992.0" x2="1312.1" y2="1032.2"/>
<line x1="1431.8" y1="992.0" x2="1172.4" y2="1067.2"/>
<line x1="1431.8" y1="992.0" x2="1354.9" y2="1182.2"/>
<line x1="1431.8" y1="992.0" x2="825.8" y2="1093.5"/>
<line x1="1431.8" y1="992.0" x2="1004.8" y2="1130.1"/>
<line x1="1208.2" y1="996.9" x2="1251.6" y2="1256.0"/>
<line x1="1208.2" y1="996.9" x2="1056.6" y2="443.7"/>
<line x1="1208.2" y1="996.9" x2="1089.5" y2="1068.8"/>
<line x1="1208.2" y1="996.9" x2="1091.1" y2="922.8"/>
<line x1="1208.2" y1="996.9" x2="802.2" y2="996.1"/>
<line x1="1208.2" y1="996.9" x2="1009.2" y2="758.5"/>
<line x1="1208.2" y1="996.9" x2="1333.7" y2="807.5"/>
<line x1="1208.2" y1="996.9" x2="895.4" y2="1188.7"/>
<line x1="1208.2" y1="996.9" x2="1743.8" y2="1058.3"/>
<line x1="1208.2" y1="996.9" x2="920.2" y2="804.8"/>
<line x1="1208.2" y1="996.9" x2="1044.5" y2="993.8"/>
<line x1="1208.2" y1="996.9" x2="1235.3" y2="862.6"/>
<line x1="1208.2" y1="996.9" x2="946.5" y2="950.1"/>
<line x1="1208.2" y1="996.9" x2="1242.9" y2="764.6"/>
<line x1="1208.2" y1="996.9" x2="1028.9" y2="868.2"/>
<line x1="1208.2" y1="996.9" x2="1128.3" y2="732.7"/>
<line x1="1208.2" y1="996.9" x2="1291.1" y2="937.6"/>
<line x1="1208.2" y1="996.9" x2="1408.7" y2="1099.3"/>
<line x1="1208.2" y1="996.9" x2="852.7" y2="887.6"/>
<line x1="1208.2" y1="996.9" x2="1130.8" y2="1296.5"/>
<line x1="1208.2" y1="996.9" x2="1252.0" y2="1115.5"/>
<line x1="1208.2" y1="996.9" x2="1400.0" y2="887.0"/>
<line x1="1208.2" y1="996.9" x2="941.4" y2="1053.2"/>
<line x1="1208.2" y1="996.9" x2="1168.6" y2="924.3"/>
<line x1="1208.2" y1="996.9" x2="1312.1" y2="1032.2"/>
<line x1="1208.2" y1="996.9" x2="1172.4" y2="1067.2"/>
<line x1="1208.2" y1="996.9" x2="1354.9" y2="1182.2"/>
<line x1="1208.2" y1="996.9" x2="825.8" y2="1093.5"/>
<line x1="1208.2" y1="996.9" x2="1004.8" y2="1130.1"/>
<line x1="1251.6" y1="1256.0" x2="1056.6" y2="443.7"/>
<line x1="1251.6" y1="1256.0" x2="1089.5" y2="1068.8"/>
<line x1="1251.6" y1="1256.0" x2="1091.1" y2="922.8"/>
<line x1="1251.6" y1="1256.0" x2="802.2" y2="996.1"/>
<line x1="1251.6" y1="1256.0" x2="1009.2" y2="758.5"/>
<line x1="1251.6" y1="1256.0" x2="1333.7" y2="807.5"/>
<line x1="1251.6" y1="1256.0" x2="895.4" y2="1188.7"/>
<line x1="1251.6" y1="1256.0" x2="1743.8" y2="1058.3"/>
<line x1="1251.6" y1="1256.0" x2="920.2" y2="804.8"/>
<line x1="1251.6" y1="1256.0" x2="1044.5" y2="993.8"/>
<line x1="1251.6" y1="1256.0" x2="1235.3" y2="862.6"/>
<line x1="1251.6" y1="1256.0" x2="946.5" y2="950.1"/>
<line x1="1251.6" y1="1256.0" x2="1028.9" y2="868.2"/>
<line x1="1251.6" y1="1256.0" x2="1128.3" y2="732.7"/>
<line x1="1251.6" y1="1256.0" x2="1291.1" y2="937.6"/>
<line x1="1251.6" y1="1256.0" x2="1408.7" y2="1099.3"/>
<line x1="1251.6" y1="1256.0" x2="852.7" y2="887.6"/>
<line x1="1251.6" y1="1256.0" x2="1130.8" y2="1296.5"/>
<line x1="1251.6" y1="1256.0" x2="1252.0" y2="1115.5"/>
<line x1="1251.6" y1="1256.0" x2="1400.0" y2="887.0"/>
<line x1="1251.6" y1="1256.0" x2="941.4" y2="1053.2"/>
<line x1="1251.6" y1="1256.0" x2="1168.6" y2="924.3"/>
<line x1="1251.6" y1="1256.0" x2="1312.1" y2="1032.2"/>
<line x1="1251.6" y1="1256.0" x2="1172.4" y2="1067.2"/>
<line x1="1251.6" y1="1256.0" x2="1354.9" y2="1182.2"/>
<line x1="1251.6" y1="1256.0" x2="825.8" y2="1093.5"/>
<line x1="1251.6" y1="1256.0" x2="1004.8" y2="1130.1"/>
<line x1="1056.6" y1="443.7" x2="1089.5" y2="1068.8"/>
<line x1="1056.6" y1="443.7" x2="1091.1" y2="922.8"/>
<line x1="1056.6" y1="443.7" x2="802.2" y2="996.1"/>
<line x1="1056.6" y1="443.7" x2="1009.2" y2="758.5"/>
<line x1="1056.6" y1="443.7" x2="1333.7" y2="807.5"/>
<line x1="1056.6" y1="443.7" x2="895.4" y2="1188.7"/>
<line x1="1056.6" y1="443.7" x2="1743.8" y2="1058.3"/>
<line x1="1056.6" y1="443.7" x2="920.2" y2="804.8"/>
<line x1="1056.6" y1="443.7" x2="1044.5" y2="993.8"/>
<line x1="1056.6" y1="443.7" x2="1235.3" y2="862.6"/>
<line x1="1056.6" y1="443.7" x2="946.5" y2="950.1"/>
<line x1="1056.6" y1="443.7" x2="1242.9" y2="764.6"/>
<line x1="1056.6" y1="443.7" x2="1028.9" y2="868.2"/>
<line x1="1056.6" y1="443.7" x2="1128.3" y2="732.7"/>
<line x1="1056.6" y1="443.7" x2="1291.1" y2="937.6"/>
<line x1="1056.6" y1="443.7" x2="1408.7" y2="1099.3"/>
<line x1="1056.6" y1="443.7" x2="852.7" y2="887.6"/>
<line x1="1056.6" y1="443.7" x2="1130.8" y2="1296.5"/>
<line x1="1056.6" y1="443.7" x2="1252.0" y2="1115.5"/>
<line x1="1056.6" y1="443.7" x2="1400.0" y2="887.0"/>
<line x1="1056.6" y1="443.7" x2="941.4" y2="1053.2"/>
<line x1="1056.6" y1="443.7" x2="1168.6" y2="924.3"/>
<line x1="1056.6" y1="443.7" x2="1312.1" y2="1032.2"/>
<line x1="1056.6" y1="443.7" x2="1172.4" y2="1067.2"/>
<line x1="1056.6" y1="443.7" x2="1354.9" y2="1182.2"/>
<line x1="1056.6" y1="443.7" x2="825.8" y2="1093.5"/>
<line x1="1056.6" y1="443.7" x2="1004.8" y2="1130.1"/>
<line x1="1056.6" y1="443.7" x2="1321.0" y2="515.6"/>
<line x1="1089.5" y1="1068.8" x2="1091.1" y2="922.8"/>
<line x1="1089.5" y1="1068.8" x2="802.2" y2="996.1"/>
<line x1="1089.5" y1="1068.8" x2="1009.2" y2="758.5"/>
<line x1="1089.5" y1="1068.8" x2="1333.7" y2="807.5"/>
<line x1="1089.5" y1="1068.8" x2="895.4" y2="1188.7"/>
<line x1="1089.5" y1="1068.8" x2="1743.8" y2="1058.3"/>
<line x1="1089.5" y1="1068.8" x2="920.2" y2="804.8"/>
<line x1="1089.5" y1="1068.8" x2="1044.5" y2="993.8"/>
<line x1="1089.5" y1="1068.8" x2="1235.3" y2="862.6"/>
<line x1="1089.5" y1="1068.8" x2="946.5" y2="950.1"/>
<line x1="1089.5" y1="1068.8" x2="1242.9" y2="764.6"/>
<line x1="1089.5" y1="1068.8" x2="1028.9" y2="868.2"/>
<line x1="1089.5" y1="1068.8" x2="1128.3" y2="732.7"/>
<line x1="1089.5" y1="1068.8" x2="1291.1" y2="937.6"/>
<line x1="1089.5" y1="1068.8" x2="1408.7" y2="1099.3"/>
<line x1="1089.5" y1="1068.8" x2="852.7" y2="887.6"/>
<line x1="1089.5" y1="1068.8" x2="1130.8" y2="1296.5"/>
<line x1="1089.5" y1="1068.8" x2="1252.0" y2="1115.5"/>
<line x1="1089.5" y1="1068.8" x2="1400.0" y2="887.0"/>
<line x1="1089.5" y1="1068.8" x2="941.4" y2="1053.2"/>
<line x1="1089.5" y1="1068.8" x2="1168.6" y2="924.3"/>
<line x1="1089.5" y1="1068.8" x2="1312.1" y2="1032.2"/>
<line x1="1089.5" y1="1068.8" x2="1172.4" y2="1067.2"/>
<line x1="1089.5" y1="1068.8" x2="1354.9" y2="1182.2"/>
<line x1="1089.5" y1="1068.8" x2="825.8" y2="1093.5"/>
<line x1="1089.5" y1="1068.8" x2="1004.8" y2="1130.1"/>
<line x1="1091.1" y1="922.8" x2="802.2" y2="996.1"/>
<line x1="1091.1" y1="922.8" x2="1009.2" y2="758.5"/>
<line x1="1091.1" y1="922.8" x2="1333.7" y2="807.5"/>
<line x1="1091.1" y1="922.8" x2="895.4" y2="1188.7"/>
<line x1="1091.1" y1="922.8" x2="1743.8" y2="1058.3"/>
<line x1="1091.1" y1="922.8" x2="920.2" y2="804.8"/>
<line x1="1091.1" y1="922.8" x2="1044.5" y2="993.8"/>
<line x1="1091.1" y1="922.8" x2="1235.3" y2="862.6"/>
<line x1="1091.1" y1="922.8" x2="946.5" y2="950.1"/>
<line x1="1091.1" y1="922.8" x2="1028.9" y2="868.2"/>
<line x1="1091.1" y1="922.8" x2="1128.3" y2="732.7"/>
<line x1="1091.1" y1="922.8" x2="1291.1" y2="937.6"/>
<line x1="1091.1" y1="922.8" x2="1408.7" y2="1099.3"/>
<line x1="1091.1" y1="922.8" x2="852.7" y2="887.6"/>
<line x1="1091.1" y1="922.8" x2="1130.8" y2="1296.5"/>
<line x1="1091.1" y1="922.8" x2="1252.0" y2="1115.5"/>
<line x1="1091.1" y1="922.8" x2="1400.0" y2="887.0"/>
<line x1="1091.1" y1="922.8" x2="941.4" y2="1053.2"/>
<line x1="1091.1" y1="922.8" x2="1168.6" y2="924.3"/>
<line x1="1091.1" y1="922.8" x2="1312.1" y2="1032.2"/>
<line x1="1091.1" y1="922.8" x2="1172.4" y2="1067.2"/>
<line x1="1091.1" y1="922.8" x2="1354.9" y2="1182.2"/>
<line x1="1091.1" y1="922.8" x2="825.8" y2="1093.5"/>
<line x1="1091.1" y1="922.8" x2="1004.8" y2="1130.1"/>
<line x1="802.2" y1="996.1" x2="1009.2" y2="758.5"/>
<line x1="802.2" y1="996.1" x2="1333.7" y2="807.5"/>
<line x1="802.2" y1="996.1" x2="895.4" y2="1188.7"/>
<line x1="802.2" y1="996.1" x2="1743.8" y2="1058.3"/>
<line x1="802.2" y1="996.1" x2="920.2" y2="804.8"/>
<line x1="802.2" y1="996.1" x2="1044.5" y2="993.8"/>
<line x1="802.2" y1="996.1" x2="1235.3" y2="862.6"/>
<line x1="802.2" y1="996.1" x2="946.5" y2="950.1"/>
<line x1="802.2" y1="996.1" x2="1242.9" y2="764.6"/>
<line x1="802.2" y1="996.1" x2="1028.9" y2="868.2"/>
<line x1="802.2" y1="996.1" x2="1128.3" y2="732.7"/>
<line x1="802.2" y1="996.1" x2="1291.1" y2="937.6"/>
<line x1="802.2" y1="996.1" x2="1408.7" y2="1099.3"/>
<line x1="802.2" y1="996.1" x2="852.7" y2="887.6"/>
<line x1="802.2" y1="996.1" x2="1130.8" y2="1296.5"/>
<line x1="802.2" y1="996.1" x2="1252.0" y2="1115.5"/>
<line x1="802.2" y1="996.1" x2="1400.0" y2="887.0"/>
<line x1="802.2" y1="996.1" x2="941.4" y2="1053.2"/>
<line x1="802.2" y1="996.1" x2="1168.6" y2="924.3"/>
<line x1="802.2" y1="996.1" x2="1312.1" y2="1032.2"/>
<line x1="802.2" y1="996.1" x2="1172.4" y2="1067.2"/>
<line x1="802.2" y1="996.1" x2="1354.9" y2="1182.2"/>
<line x1="802.2" y1="996.1" x2="825.8" y2="1093.5"/>
<line x1="802.2" y1="996.1" x2="1004.8" y2="1130.1"/>
<line x1="1009.2" y1="758.5" x2="1333.7" y2="807.5"/>
<line x1="1009.2" y1="758.5" x2="895.4" y2="1188.7"/>
<line x1="1009.2" y1="758.5" x2="1743.8" y2="1058.3"/>
<line x1="1009.2" y1="758.5" x2="920.2" y2="804.8"/>
<line x1="1009.2" y1="758.5" x2="1044.5" y2="993.8"/>
<line x1="1009.2" y1="758.5" x2="1235.3" y2="862.6"/>
<line x1="1009.2" y1="758.5" x2="946.5" y2="950.1"/>
<line x1="1009.2" y1="758.5" x2="1128.3" y2="732.7"/>
<line x1="1009.2" y1="758.5" x2="1291.1" y2="937.6"/>
<line x1="1009.2" y1="758.5" x2="852.7" y2="887.6"/>
<line x1="1009.2" y1="758.5" x2="1312.1" y2="1032.2"/>
<line x1="1009.2" y1="758.5" x2="1172.4" y2="1067.2"/>
<line x1="1009.2" y1="758.5" x2="1354.9" y2="1182.2"/>
<line x1="1009.2" y1="758.5" x2="825.8" y2="1093.5"/>
<line x1="1009.2" y1="758.5" x2="1004.8" y2="1130.1"/>
<line x1="1333.7" y1="807.5" x2="895.4" y2="1188.7"/>
<line x1="1333.7" y1="807.5" x2="1743.8" y2="1058.3"/>
<line x1="1333.7" y1="807.5" x2="920.2" y2="804.8"/>
<line x1="1333.7" y1="807.5" x2="1044.5" y2="993.8"/>
<line x1="1333.7" y1="807.5" x2="1235.3" y2="862.6"/>
<line x1="1333.7" y1="807.5" x2="946.5" y2="950.1"/>
<line x1="1333.7" y1="807.5" x2="1028.9" y2="868.2"/>
<line x1="1333.7" y1="807.5" x2="1128.3" y2="732.7"/>
<line x1="1333.7" y1="807.5" x2="1291.1" y2="937.6"/>
<line x1="1333.7" y1="807.5" x2="1408.7" y2="1099.3"/>
<line x1="1333.7" y1="807.5" x2="852.7" y2="887.6"/>
<line x1="1333.7" y1="807.5" x2="1130.8" y2="1296.5"/>
<line x1="1333.7" y1="807.5" x2="1252.0" y2="1115.5"/>
<line x1="1333.7" y1="807.5" x2="1400.0" y2="887.0"/>
<line x1="1333.7" y1="807.5" x2="941.4" y2="1053.2"/>
<line x1="1333.7" y1="807.5" x2="1168.6" y2="924.3"/>
<line x1="1333.7" y1="807.5" x2="1312.1" y2="1032.2"/>
<line x1="1333.7" y1="807.5" x2="1172.4" y2="1067.2"/>
<line x1="1333.7" y1="807.5" x2="1354.9" y2="1182.2"/>
<line x1="1333.7" y1="807.5" x2="825.8" y2="1093.5"/>
<line x1="1333.7" y1="807.5" x2="1004.8" y2="1130.1"/>
<line x1="895.4" y1="1188.7" x2="1743.8" y2="1058.3"/>
<line x1="895.4" y1="1188.7" x2="920.2" y2="804.8"/>
<line x1="895.4" y1="1188.7" x2="1044.5" y2="993.8"/>
<line x1="895.4" y1="1188.7" x2="1235.3" y2="862.6"/>
<line x1="895.4" y1="1188.7" x2="946.5" y2="950.1"/>
<line x1="895.4" y1="1188.7" x2="1242.9" y2="764.6"/>
<line x1="895.4" y1="1188.7" x2="1028.9" y2="868.2"/>
<line x1="895.4" y1="1188.7" x2="1128.3" y2="732.7"/>
<line x1="895.4" y1="1188.7" x2="1291.1" y2="937.6"/>
<line x1="895.4" y1="1188.7" x2="1408.7" y2="1099.3"/>
<line x1="895.4" y1="1188.7" x2="852.7" y2="887.6"/>
<line x1="895.4" y1="1188.7" x2="1130.8" y2="1296.5"/>
<line x1="895.4" y1="1188.7" x2="1252.0" y2="1115.5"/>
<line x1="895.4" y1="1188.7" x2="1400.0" y2="887.0"/>
<line x1="895.4" y1="1188.7" x2="941.4" y2="1053.2"/>
<line x1="895.4" y1="1188.7" x2="1168.6" y2="924.3"/>
<line x1="895.4" y1="1188.7" x2="1312.1" y2="1032.2"/>
<line x1="895.4" y1="1188.7" x2="1172.4" y2="1067.2"/>
<line x1="895.4" y1="1188.7" x2="1354.9" y2="1182.2"/>
<line x1="895.4" y1="1188.7" x2="825.8" y2="1093.5"/>
<line x1="895.4" y1="1188.7" x2="1004.8" y2="1130.1"/>
<line x1="1405.9" y1="346.2" x2="1469.2" y2="204.7"/>
<line x1="1405.9" y1="346.2" x2="1964.6" y2="328.0"/>
<line x1="1405.9" y1="346.2" x2="1741.2" y2="758.0"/>
<line x1="1405.9" y1="346.2" x2="1592.9" y2="600.1"/>
<line x1="1405.9" y1="346.2" x2="1613.3" y2="762.0"/>
<line x1="1405.9" y1="346.2" x2="1469.9" y2="484.1"/>
<line x1="1405.9" y1="346.2" x2="1557.8" y2="383.9"/>
<line x1="1405.9" y1="346.2" x2="1587.4" y2="120.3"/>
<line x1="1405.9" y1="346.2" x2="1817.0" y2="598.7"/>
<line x1="1405.9" y1="346.2" x2="1640.8" y2="265.7"/>
<line x1="1405.9" y1="346.2" x2="1321.0" y2="515.6"/>
<line x1="1469.2" y1="204.7" x2="1964.6" y2="328.0"/>
<line x1="1469.2" y1="204.7" x2="1741.2" y2="758.0"/>
<line x1="1469.2" y1="204.7" x2="1592.9" y2="600.1"/>
<line x1="1469.2" y1="204.7" x2="1613.3" y2="762.0"/>
<line x1="1469.2" y1="204.7" x2="1469.9" y2="484.1"/>
<line x1="1469.2" y1="204.7" x2="1557.8" y2="383.9"/>
<line x1="1469.2" y1="204.7" x2="1587.4" y2="120.3"/>
<line x1="1469.2" y1="204.7" x2="1817.0" y2="598.7"/>
<line x1="1469.2" y1="204.7" x2="1640.8" y2="265.7"/>
<line x1="1469.2" y1="204.7" x2="1321.0" y2="515.6"/>
<line x1="1964.6" y1="328.0" x2="1741.2" y2="758.0"/>
<line x1="1964.6" y1="328.0" x2="1592.9" y2="600.1"/>
<line x1="1964.6" y1="328.0" x2="1469.9" y2="484.1"/>
<line x1="1964.6" y1="328.0" x2="1557.8" y2="383.9"/>
<line x1="1964.6" y1="328.0" x2="1587.4" y2="120.3"/>
<line x1="1964.6" y1="328.0" x2="1817.0" y2="598.7"/>
<line x1="1964.6" y1="328.0" x2="1640.8" y2="265.7"/>
<line x1="1964.6" y1="328.0" x2="1321.0" y2="515.6"/>
<line x1="1741.2" y1="758.0" x2="1743.8" y2="1058.3"/>
<line x1="1741.2" y1="758.0" x2="1592.9" y2="600.1"/>
<line x1="1741.2" y1="758.0" x2="1613.3" y2="762.0"/>
<line x1="1741.2" y1="758.0" x2="1469.9" y2="484.1"/>
<line x1="1741.2" y1="758.0" x2="1557.8" y2="383.9"/>
<line x1="1741.2" y1="758.0" x2="1587.4" y2="120.3"/>
<line x1="1741.2" y1="758.0" x2="1817.0" y2="598.7"/>
<line x1="1741.2" y1="758.0" x2="1640.8" y2="265.7"/>
<line x1="1741.2" y1="758.0" x2="1321.0" y2="515.6"/>
<line x1="1743.8" y1="1058.3" x2="920.2" y2="804.8"/>
<line x1="1743.8" y1="1058.3" x2="1044.5" y2="993.8"/>
<line x1="1743.8" y1="1058.3" x2="1235.3" y2="862.6"/>
<line x1="1743.8" y1="1058.3" x2="1613.3" y2="762.0"/>
<line x1="1743.8" y1="1058.3" x2="946.5" y2="950.1"/>
<line x1="1743.8" y1="1058.3" x2="1242.9" y2="764.6"/>
<line x1="1743.8" y1="1058.3" x2="1028.9" y2="868.2"/>
<line x1="1743.8" y1="1058.3" x2="1128.3" y2="732.7"/>
<line x1="1743.8" y1="1058.3" x2="1291.1" y2="937.6"/>
<line x1="1743.8" y1="1058.3" x2="1408.7" y2="1099.3"/>
<line x1="1743.8" y1="1058.3" x2="852.7" y2="887.6"/>
<line x1="1743.8" y1="1058.3" x2="1130.8" y2="1296.5"/>
<line x1="1743.8" y1="1058.3" x2="1252.0" y2="1115.5"/>
<line x1="1743.8" y1="1058.3" x2="1400.0" y2="887.0"/>
<line x1="1743.8" y1="1058.3" x2="941.4" y2="1053.2"/>
<line x1="1743.8" y1="1058.3" x2="1168.6" y2="924.3"/>
<line x1="1743.8" y1="1058.3" x2="1312.1" y2="1032.2"/>
<line x1="1743.8" y1="1058.3" x2="1172.4" y2="1067.2"/>
<line x1="1743.8" y1="1058.3" x2="1354.9" y2="1182.2"/>
<line x1="1743.8" y1="1058.3" x2="825.8" y2="1093.5"/>
<line x1="1743.8" y1="1058.3" x2="1004.8" y2="1130.1"/>
<line x1="920.2" y1="804.8" x2="1044.5" y2="993.8"/>
<line x1="920.2" y1="804.8" x2="1235.3" y2="862.6"/>
<line x1="920.2" y1="804.8" x2="946.5" y2="950.1"/>
<line x1="920.2" y1="804.8" x2="1242.9" y2="764.6"/>
<line x1="920.2" y1="804.8" x2="1028.9" y2="868.2"/>
<line x1="920.2" y1="804.8" x2="1128.3" y2="732.7"/>
<line x1="920.2" y1="804.8" x2="1291.1" y2="937.6"/>
<line x1="920.2" y1="804.8" x2="1408.7" y2="1099.3"/>
<line x1="920.2" y1="804.8" x2="852.7" y2="887.6"/>
<line x1="920.2" y1="804.8" x2="1130.8" y2="1296.5"/>
<line x1="920.2" y1="804.8" x2="1252.0" y2="1115.5"/>
<line x1="920.2" y1="804.8" x2="1400.0" y2="887.0"/>
<line x1="920.2" y1="804.8" x2="941.4" y2="1053.2"/>
<line x1="920.2" y1="804.8" x2="1168.6" y2="924.3"/>
<line x1="920.2" y1="804.8" x2="1312.1" y2="1032.2"/>
<line x1="920.2" y1="804.8" x2="1172.4" y2="1067.2"/>
<line x1="920.2" y1="804.8" x2="1354.9" y2="1182.2"/>
<line x1="920.2" y1="804.8" x2="825.8" y2="1093.5"/>
<line x1="920.2" y1="804.8" x2="1004.8" y2="1130.1"/>
<line x1="1044.5" y1="993.8" x2="1235.3" y2="862.6"/>
<line x1="1044.5" y1="993.8" x2="946.5" y2="950.1"/>
<line x1="1044.5" y1="993.8" x2="1028.9" y2="868.2"/>
<line x1="1044.5" y1="993.8" x2="1128.3" y2="732.7"/>
<line x1="1044.5" y1="993.8" x2="1291.1" y2="937.6"/>
<line x1="1044.5" y1="993.8" x2="1408.7" y2="1099.3"/>
<line x1="1044.5" y1="993.8" x2="852.7" y2="887.6"/>
<line x1="1044.5" y1="993.8" x2="1130.8" y2="1296.5"/>
<line x1="1044.5" y1="993.8" x2="1252.0" y2="1115.5"/>
<line x1="1044.5" y1="993.8" x2="1400.0" y2="887.0"/>
<line x1="1044.5" y1="993.8" x2="941.4" y2="1053.2"/>
<line x1="1044.5" y1="993.8" x2="1168.6" y2="924.3"/>
<line x1="1044.5" y1="993.8" x2="1312.1" y2="1032.2"/>
<line x1="1044.5" y1="993.8" x2="1172.4" y2="1067.2"/>
<line x1="1044.5" y1="993.8" x2="1354.9" y2="1182.2"/>
<line x1="1044.5" y1="993.8" x2="825.8" y2="1093.5"/>
<line x1="1044.5" y1="993.8" x2="1004.8" y2="1130.1"/>
<line x1="1592.9" y1="600.1" x2="1469.9" y2="484.1"/>
<line x1="1592.9" y1="600.1" x2="1557.8" y2="383.9"/>
<line x1="1592.9" y1="600.1" x2="1587.4" y2="120.3"/>
<line x1="1592.9" y1="600.1" x2="1817.0" y2="598.7"/>
<line x1="1592.9" y1="600.1" x2="1640.8" y2="265.7"/>
<line x1="1592.9" y1="600.1" x2="1321.0" y2="515.6"/>
<line x1="1235.3" y1="862.6" x2="946.5" y2="950.1"/>
<line x1="1235.3" y1="862.6" x2="1028.9" y2="868.2"/>
<line x1="1235.3" y1="862.6" x2="1128.3" y2="732.7"/>
<line x1="1235.3" y1="862.6" x2="1291.1" y2="937.6"/>
<line x1="1235.3" y1="862.6" x2="1408.7" y2="1099.3"/>
<line x1="1235.3" y1="862.6" x2="852.7" y2="887.6"/>
<line x1="1235.3" y1="862.6" x2="1130.8" y2="1296.5"/>
<line x1="1235.3" y1="862.6" x2="1252.0" y2="1115.5"/>
<line x1="1235.3" y1="862.6" x2="1400.0" y2="887.0"/>
<line x1="1235.3" y1="862.6" x2="941.4" y2="1053.2"/>
<line x1="1235.3" y1="862.6" x2="1168.6" y2="924.3"/>
<line x1="1235.3" y1="862.6" x2="1312.1" y2="1032.2"/>
<line x1="1235.3" y1="862.6" x2="1172.4" y2="1067.2"/>
<line x1="1235.3" y1="862.6" x2="1354.9" y2="1182.2"/>
<line x1="1235.3" y1="862.6" x2="825.8" y2="1093.5"/>
<line x1="1235.3" y1="862.6" x2="1004.8" y2="1130.1"/>
<line x1="1613.3" y1="762.0" x2="1469.9" y2="484.1"/>
<line x1="1613.3" y1="762.0" x2="1817.0" y2="598.7"/>
<line x1="1469.9" y1="484.1" x2="1557.8" y2="383.9"/>
<line x1="1469.9" y1="484.1" x2="1587.4" y2="120.3"/>
<line x1="1469.9" y1="484.1" x2="1817.0" y2="598.7"/>
<line x1="1469.9" y1="484.1" x2="1640.8" y2="265.7"/>
<line x1="1469.9" y1="484.1" x2="1321.0" y2="515.6"/>
<line x1="946.5" y1="950.1" x2="1028.9" y2="868.2"/>
<line x1="946.5" y1="950.1" x2="1128.3" y2="732.7"/>
<line x1="946.5" y1="950.1" x2="1291.1" y2="937.6"/>
<line x1="946.5" y1="950.1" x2="1408.7" y2="1099.3"/>
<line x1="946.5" y1="950.1" x2="852.7" y2="887.6"/>
<line x1="946.5" y1="950.1" x2="1130.8" y2="1296.5"/>
<line x1="946.5" y1="950.1" x2="1252.0" y2="1115.5"/>
<line x1="946.5" y1="950.1" x2="1400.0" y2="887.0"/>
<line x1="946.5" y1="950.1" x2="941.4" y2="1053.2"/>
<line x1="946.5" y1="950.1" x2="1168.6" y2="924.3"/>
<line x1="946.5" y1="950.1" x2="1312.1" y2="1032.2"/>
<line x1="946.5" y1="950.1" x2="1172.4" y2="1067.2"/>
<line x1="946.5" y1="950.1" x2="1354.9" y2="1182.2"/>
<line x1="946.5" y1="950.1" x2="825.8" y2="1093.5"/>
<line x1="946.5" y1="950.1" x2="1004.8" y2="1130.1"/>
<line x1="1242.9" y1="764.6" x2="1028.9" y2="868.2"/>
<line x1="1242.9" y1="764.6" x2="1128.3" y2="732.7"/>
<line x1="1242.9" y1="764.6" x2="1291.1" y2="937.6"/>
<line x1="1242.9" y1="764.6" x2="1408.7" y2="1099.3"/>
<line x1="1242.9" y1="764.6" x2="852.7" y2="887.6"/>
<line x1="1242.9" y1="764.6" x2="1130.8" y2="1296.5"/>
<line x1="1242.9" y1="764.6" x2="1168.6" y2="924.3"/>
<line x1="1242.9" y1="764.6" x2="1312.1" y2="1032.2"/>
<line x1="1242.9" y1="764.6" x2="1354.9" y2="1182.2"/>
<line x1="1242.9" y1="764.6" x2="825.8" y2="1093.5"/>
<line x1="1242.9" y1="764.6" x2="1004.8" y2="1130.1"/>
<line x1="1028.9" y1="868.2" x2="1128.3" y2="732.7"/>
<line x1="1028.9" y1="868.2" x2="1291.1" y2="937.6"/>
<line x1="1028.9" y1="868.2" x2="1408.7" y2="1099.3"/>
<line x1="1028.9" y1="868.2" x2="852.7" y2="887.6"/>
<line x1="1028.9" y1="868.2" x2="1130.8" y2="1296.5"/>
<line x1="1028.9" y1="868.2" x2="1252.0" y2="1115.5"/>
<line x1="1028.9" y1="868.2" x2="1400.0" y2="887.0"/>
<line x1="1028.9" y1="868.2" x2="941.4" y2="1053.2"/>
<line x1="1028.9" y1="868.2" x2="1168.6" y2="924.3"/>
<line x1="1028.9" y1="868.2" x2="1312.1" y2="1032.2"/>
<line x1="1028.9" y1="868.2" x2="1172.4" y2="1067.2"/>
<line x1="1028.9" y1="868.2" x2="1354.9" y2="1182.2"/>
<line x1="1028.9" y1="868.2" x2="825.8" y2="1093.5"/>
<line x1="1028.9" y1="868.2" x2="1004.8" y2="1130.1"/>
<line x1="1128.3" y1="732.7" x2="1291.1" y2="937.6"/>
<line x1="1128.3" y1="732.7" x2="1408.7" y2="1099.3"/>
<line x1="1128.3" y1="732.7" x2="852.7" y2="887.6"/>
<line x1="1128.3" y1="732.7" x2="1130.8" y2="1296.5"/>
<line x1="1128.3" y1="732.7" x2="1252.0" y2="1115.5"/>
<line x1="1128.3" y1="732.7" x2="1400.0" y2="887.0"/>
<line x1="1128.3" y1="732.7" x2="941.4" y2="1053.2"/>
<line x1="1128.3" y1="732.7" x2="1168.6" y2="924.3"/>
<line x1="1128.3" y1="732.7" x2="1312.1" y2="1032.2"/>
<line x1="1128.3" y1="732.7" x2="1172.4" y2="1067.2"/>
<line x1="1128.3" y1="732.7" x2="1354.9" y2="1182.2"/>
<line x1="1128.3" y1="732.7" x2="825.8" y2="1093.5"/>
<line x1="1128.3" y1="732.7" x2="1004.8" y2="1130.1"/>
<line x1="1291.1" y1="937.6" x2="1408.7" y2="1099.3"/>
<line x1="1291.1" y1="937.6" x2="852.7" y2="887.6"/>
<line x1="1291.1" y1="937.6" x2="1130.8" y2="1296.5"/>
<line x1="1291.1" y1="937.6" x2="1252.0" y2="1115.5"/>
<line x1="1291.1" y1="937.6" x2="1400.0" y2="887.0"/>
<line x1="1291.1" y1="937.6" x2="941.4" y2="1053.2"/>
<line x1="1291.1" y1="937.6" x2="1168.6" y2="924.3"/>
<line x1="1291.1" y1="937.6" x2="1312.1" y2="1032.2"/>
<line x1="1291.1" y1="937.6" x2="1172.4" y2="1067.2"/>
<line x1="1291.1" y1="937.6" x2="1354.9" y2="1182.2"/>
<line x1="1291.1" y1="937.6" x2="825.8" y2="1093.5"/>
<line x1="1291.1" y1="937.6" x2="1004.8" y2="1130.1"/>
<line x1="1408.7" y1="1099.3" x2="852.7" y2="887.6"/>
<line x1="1408.7" y1="1099.3" x2="1130.8" y2="1296.5"/>
<line x1="1408.7" y1="1099.3" x2="1252.0" y2="1115.5"/>
<line x1="1408.7" y1="1099.3" x2="1400.0" y2="887.0"/>
<line x1="1408.7" y1="1099.3" x2="941.4" y2="1053.2"/>
<line x1="1408.7" y1="1099.3" x2="1168.6" y2="924.3"/>
<line x1="1408.7" y1="1099.3" x2="1312.1" y2="1032.2"/>
<line x1="1408.7" y1="1099.3" x2="1172.4" y2="1067.2"/>
<line x1="1408.7" y1="1099.3" x2="1354.9" y2="1182.2"/>
<line x1="1408.7" y1="1099.3" x2="825.8" y2="1093.5"/>
<line x1="1408.7" y1="1099.3" x2="1004.8" y2="1130.1"/>
<line x1="852.7" y1="887.6" x2="1130.8" y2="1296.5"/>
<line x1="852.7" y1="887.6" x2="1252.0" y2="1115.5"/>
<line x1="852.7" y1="887.6" x2="1400.0" y2="887.0"/>
<line x1="852.7" y1="887.6" x2="941.4" y2="1053.2"/>
<line x1="852.7" y1="887.6" x2="1168.6" y2="924.3"/>
<line x1="852.7" y1="887.6" x2="1312.1" y2="1032.2"/>
<line x1="852.7" y1="887.6" x2="1172.4" y2="1067.2"/>
<line x1="852.7" y1="887.6" x2="1354.9" y2="1182.2"/>
<line x1="852.7" y1="887.6" x2="825.8" y2="1093.5"/>
<line x1="852.7" y1="887.6" x2="1004.8" y2="1130.1"/>
<line x1="1130.8" y1="1296.5" x2="1252.0" y2="1115.5"/>
<line x1="1130.8" y1="1296.5" x2="1400.0" y2="887.0"/>
<line x1="1130.8" y1="1296.5" x2="941.4" y2="1053.2"/>
<line x1="1130.8" y1="1296.5" x2="1168.6" y2="924.3"/>
<line x1="1130.8" y1="1296.5" x2="1312.1" y2="1032.2"/>
<line x1="1130.8" y1="1296.5" x2="1172.4" y2="1067.2"/>
<line x1="1130.8" y1="1296.5" x2="1354.9" y2="1182.2"/>
<line x1="1130.8" y1="1296.5" x2="825.8" y2="1093.5"/>
<line x1="1130.8" y1="1296.5" x2="1004.8" y2="1130.1"/>
<line x1="1252.0" y1="1115.5" x2="1400.0" y2="887.0"/>
<line x1="1252.0" y1="1115.5" x2="941.4" y2="1053.2"/>
<line x1="1252.0" y1="1115.5" x2="1168.6" y2="924.3"/>
<line x1="1252.0" y1="1115.5" x2="1312.1" y2="1032.2"/>
<line x1="1252.0" y1="1115.5" x2="1172.4" y2="1067.2"/>
<line x1="1252.0" y1="1115.5" x2="1354.9" y2="1182.2"/>
<line x1="1252.0" y1="1115.5" x2="825.8" y2="1093.5"/>
<line x1="1252.0" y1="1115.5" x2="1004.8" y2="1130.1"/>
<line x1="1400.0" y1="887.0" x2="941.4" y2="1053.2"/>
<line x1="1400.0" y1="887.0" x2="1168.6" y2="924.3"/>
<line x1="1400.0" y1="887.0" x2="1312.1" y2="1032.2"/>
<line x1="1400.0" y1="887.0" x2="1172.4" y2="1067.2"/>
<line x1="1400.0" y1="887.0" x2="1354.9" y2="1182.2"/>
<line x1="1400.0" y1="887.0" x2="825.8" y2="1093.5"/>
<line x1="1400.0" y1="887.0" x2="1004.8" y2="1130.1"/>
<line x1="941.4" y1="1053.2" x2="1168.6" y2="924.3"/>
<line x1="941.4" y1="1053.2" x2="1312.1" y2="1032.2"/>
<line x1="941.4" y1="1053.2" x2="1172.4" y2="1067.2"/>
<line x1="941.4" y1="1053.2" x2="1354.9" y2="1182.2"/>
<line x1="941.4" y1="1053.2" x2="825.8" y2="1093.5"/>
<line x1="941.4" y1="1053.2" x2="1004.8" y2="1130.1"/>
<line x1="1168.6" y1="924.3" x2="1312.1" y2="1032.2"/>
<line x1="1168.6" y1="924.3" x2="1172.4" y2="1067.2"/>
<line x1="1168.6" y1="924.3" x2="1354.9" y2="1182.2"/>
<line x1="1168.6" y1="924.3" x2="825.8" y2="1093.5"/>
<line x1="1168.6" y1="924.3" x2="1004.8" y2="1130.1"/>
<line x1="1312.1" y1="1032.2" x2="1172.4" y2="1067.2"/>
<line x1="1312.1" y1="1032.2" x2="1354.9" y2="1182.2"/>
<line x1="1312.1" y1="1032.2" x2="825.8" y2="1093.5"/>
<line x1="1312.1" y1="1032.2" x2="1004.8" y2="1130.1"/>
<line x1="1172.4" y1="1067.2" x2="1354.9" y2="1182.2"/>
<line x1="1172.4" y1="1067.2" x2="825.8" y2="1093.5"/>
<line x1="1172.4" y1="1067.2" x2="1004.8" y2="1130.1"/>
<line x1="1354.9" y1="1182.2" x2="825.8" y2="1093.5"/>
<line x1="1354.9" y1="1182.2" x2="1004.8" y2="1130.1"/>
<line x1="825.8" y1="1093.5" x2="1004.8" y2="1130.1"/>
<line x1="1557.8" y1="383.9" x2="1587.4" y2="120.3"/>
<line x1="1557.8" y1="383.9" x2="1817.0" y2="598.7"/>
<line x1="1557.8" y1="383.9" x2="1640.8" y2="265.7"/>
<line x1="1557.8" y1="383.9" x2="1321.0" y2="515.6"/>
<line x1="1587.4" y1="120.3" x2="1817.0" y2="598.7"/>
<line x1="1587.4" y1="120.3" x2="1640.8" y2="265.7"/>
<line x1="1587.4" y1="120.3" x2="1321.0" y2="515.6"/>
<line x1="1817.0" y1="598.7" x2="1640.8" y2="265.7"/>
<line x1="1817.0" y1="598.7" x2="1321.0" y2="515.6"/>
<line x1="1640.8" y1="265.7" x2="1321.0" y2="515.6"/>
</g>
<circle cx="1748.2" cy="98.3" r="17.2" fill="#F9D098" stroke="#fff" stroke-width="1"/>
<circle cx="1587.4" cy="120.3" r="18.3" fill="#FBC38E" stroke="#fff" stroke-width="1"/>
<circle cx="1901.7" cy="172.3" r="16.7" fill="#F9D098" stroke="#fff" stroke-width="1"/>
<circle cx="1469.2" cy="204.7" r="17.0" fill="#F9D098" stroke="#fff" stroke-width="1"/>
<circle cx="1640.8" cy="265.7" r="20.4" fill="#FDB080" stroke="#fff" stroke-width="1"/>
<circle cx="1808.9" cy="279.7" r="21.4" fill="#F98C66" stroke="#fff" stroke-width="1"/>
<circle cx="1964.6" cy="328.0" r="16.8" fill="#F9D098" stroke="#fff" stroke-width="1"/>
<circle cx="1405.9" cy="346.2" r="17.3" fill="#F9D098" stroke="#fff" stroke-width="1"/>
<circle cx="1695.1" cy="376.7" r="26.7" fill="#F06946" stroke="#fff" stroke-width="1"/>
<circle cx="1557.8" cy="383.9" r="19.5" fill="#FDB080" stroke="#fff" stroke-width="1"/>
<circle cx="1816.9" cy="437.0" r="22.6" fill="#F98C66" stroke="#fff" stroke-width="1"/>
<circle cx="1941.2" cy="481.2" r="16.3" fill="#F7E1A5" stroke="#fff" stroke-width="1"/>
<circle cx="1469.9" cy="484.1" r="18.7" fill="#FDB080" stroke="#fff" stroke-width="1"/>
<circle cx="1674.0" cy="500.9" r="19.4" fill="#FDB080" stroke="#fff" stroke-width="1"/>
<circle cx="1321.0" cy="515.6" r="16.3" fill="#E7E84A" stroke="#fff" stroke-width="1"/>
<circle cx="1592.9" cy="600.1" r="17.1" fill="#F9D098" stroke="#fff" stroke-width="1"/>
<circle cx="1817.0" cy="598.7" r="19.4" fill="#FDB080" stroke="#fff" stroke-width="1"/>
<circle cx="1613.3" cy="762.0" r="16.0" fill="#F7E1A5" stroke="#fff" stroke-width="1"/>
<circle cx="1741.2" cy="758.0" r="21.0" fill="#F89B6F" stroke="#fff" stroke-width="1"/>
<circle cx="1867.8" cy="764.7" r="15.8" fill="#F7E1A5" stroke="#fff" stroke-width="1"/>
<circle cx="1743.8" cy="1058.3" r="25.6" fill="#F3734B" stroke="#fff" stroke-width="1"/>
<circle cx="1056.6" cy="443.7" r="22.3" fill="#F58D65" stroke="#fff" stroke-width="1"/>
<circle cx="1128.3" cy="732.7" r="20.0" fill="#FBA97B" stroke="#fff" stroke-width="1"/>
<circle cx="1009.2" cy="758.5" r="15.9" fill="#F7E1A5" stroke="#fff" stroke-width="1"/>
<circle cx="1242.9" cy="764.6" r="16.4" fill="#F8D69C" stroke="#fff" stroke-width="1"/>
<circle cx="920.2" cy="804.8" r="20.0" fill="#FBA97B" stroke="#fff" stroke-width="1"/>
<circle cx="1333.7" cy="807.5" r="20.2" fill="#FBA97B" stroke="#fff" stroke-width="1"/>
<circle cx="1128.8" cy="823.2" r="22.0" fill="#F89B6F" stroke="#fff" stroke-width="1"/>
<circle cx="1235.3" cy="862.6" r="21.1" fill="#F89B6F" stroke="#fff" stroke-width="1"/>
<circle cx="1028.9" cy="868.2" r="21.0" fill="#F89B6F" stroke="#fff" stroke-width="1"/>
<circle cx="852.7" cy="887.6" r="20.0" fill="#FBA97B" stroke="#fff" stroke-width="1"/>
<circle cx="1400.0" cy="887.0" r="20.4" fill="#FBA97B" stroke="#fff" stroke-width="1"/>
<circle cx="1091.1" cy="922.8" r="22.5" fill="#F58D65" stroke="#fff" stroke-width="1"/>
<circle cx="1168.6" cy="924.3" r="23.6" fill="#F58D65" stroke="#fff" stroke-width="1"/>
<circle cx="1291.1" cy="937.6" r="20.3" fill="#FBA97B" stroke="#fff" stroke-width="1"/>
<circle cx="946.5" cy="950.1" r="19.8" fill="#FBA97B" stroke="#fff" stroke-width="1"/>
<circle cx="802.2" cy="996.1" r="20.3" fill="#FBA97B" stroke="#fff" stroke-width="1"/>
<circle cx="1044.5" cy="993.8" r="22.7" fill="#F58D65" stroke="#fff" stroke-width="1"/>
<circle cx="1208.2" cy="996.9" r="22.8" fill="#F58D65" stroke="#fff" stroke-width="1"/>
<circle cx="1431.8" cy="992.0" r="21.0" fill="#F89B6F" stroke="#fff" stroke-width="1"/>
<circle cx="1312.1" cy="1032.2" r="20.9" fill="#FBA97B" stroke="#fff" stroke-width="1"/>
<circle cx="941.4" cy="1053.2" r="22.0" fill="#F58D65" stroke="#fff" stroke-width="1"/>
<circle cx="1089.5" cy="1068.8" r="22.5" fill="#F58D65" stroke="#fff" stroke-width="1"/>
<circle cx="1172.4" cy="1067.2" r="23.3" fill="#F58D65" stroke="#fff" stroke-width="1"/>
<circle cx="825.8" cy="1093.5" r="20.8" fill="#F89B6F" stroke="#fff" stroke-width="1"/>
<circle cx="1408.7" cy="1099.3" r="19.6" fill="#FBA97B" stroke="#fff" stroke-width="1"/>
<circle cx="1252.0" cy="1115.5" r="22.6" fill="#F58D65" stroke="#fff" stroke-width="1"/>
<circle cx="1004.8" cy="1130.1" r="22.5" fill="#F58D65" stroke="#fff" stroke-width="1"/>
<circle cx="1131.5" cy="1165.4" r="22.7" fill="#F58D65" stroke="#fff" stroke-width="1"/>
<circle cx="895.4" cy="1188.7" r="20.1" fill="#FBA97B" stroke="#fff" stroke-width="1"/>
<circle cx="1354.9" cy="1182.2" r="21.6" fill="#F89B6F" stroke="#fff" stroke-width="1"/>
<circle cx="1000.3" cy="1255.2" r="20.7" fill="#F89B6F" stroke="#fff" stroke-width="1"/>
<circle cx="1251.6" cy="1256.0" r="21.3" fill="#F89B6F" stroke="#fff" stroke-width="1"/>
<circle cx="1130.8" cy="1296.5" r="22.3" fill="#F58D65" stroke="#fff" stroke-width="1"/>
<text x="1734.5" y="101.1" font-size="10.68" stroke="#000" stroke-width="0.3">FEN1</text>
<text x="1572.0" y="123.7" font-size="12.36" stroke="#000" stroke-width="0.3">TPX2</text>
<text x="1889.0" y="174.7" font-size="9.73" stroke="#000" stroke-width="0.3">CDT1</text>
<text x="1454.5" y="207.2" font-size="10.02" stroke="#000" stroke-width="0.3">MCM7</text>
<text x="1617.3" y="269.6" font-size="14.06" stroke="#000" stroke-width="0.3">UBE2C</text>
<text x="1781.2" y="284.4" font-size="16.34" stroke="#000" stroke-width="0.3">CCNA2</text>
<text x="1954.8" y="330.5" font-size="9.85" stroke="#000" stroke-width="0.3">PBK</text>
<text x="1389.6" y="349.1" font-size="11.11" stroke="#000" stroke-width="0.3">MCM3</text>
<text x="1665.5" y="383.4" font-size="22.19" stroke="#000" stroke-width="0.3">CDK1</text>
<text x="1534.5" y="387.9" font-size="14.32" stroke="#000" stroke-width="0.3">TOP2A</text>
<text x="1787.2" y="442.1" font-size="17.52" stroke="#000" stroke-width="0.3">CCNB1</text>
<text x="1926.7" y="483.4" font-size="9.15" stroke="#000" stroke-width="0.3">ASF1B</text>
<text x="1452.0" y="487.5" font-size="12.63" stroke="#000" stroke-width="0.3">RRM2</text>
<text x="1654.0" y="504.7" font-size="13.55" stroke="#000" stroke-width="0.3">BIRC5</text>
<text x="1305.8" y="518.0" font-size="9.57" stroke="#000" stroke-width="0.3">ZWINT</text>
<text x="1576.1" y="602.8" font-size="10.46" stroke="#000" stroke-width="0.3">PTTG1</text>
<text x="1798.9" y="602.3" font-size="13.03" stroke="#000" stroke-width="0.3">TYMS</text>
<text x="1601.4" y="764.3" font-size="9.38" stroke="#000" stroke-width="0.3">RPA2</text>
<text x="1719.2" y="762.5" font-size="15.80" stroke="#000" stroke-width="0.3">PCNA</text>
<text x="1853.6" y="766.9" font-size="8.94" stroke="#000" stroke-width="0.3">H2AFZ</text>
<text x="1700.5" y="1064.9" font-size="21.95" stroke="#000" stroke-width="0.3">POLR2E</text>
<text x="1013.9" y="448.9" font-size="17.67" stroke="#000" stroke-width="0.3">HNRNPH1</text>
<text x="1102.8" y="737.0" font-size="15.10" stroke="#000" stroke-width="0.3">SNRPA</text>
<text x="1000.5" y="760.6" font-size="8.75" stroke="#000" stroke-width="0.3">ILF3</text>
<text x="1229.6" y="767.1" font-size="9.81" stroke="#000" stroke-width="0.3">SFPQ</text>
<text x="901.4" y="808.7" font-size="13.84" stroke="#000" stroke-width="0.3">PPIL1</text>
<text x="1315.7" y="811.3" font-size="13.78" stroke="#000" stroke-width="0.3">LSM4</text>
<text x="1112.5" y="827.9" font-size="16.30" stroke="#000" stroke-width="0.3">FUS</text>
<text x="1212.5" y="867.1" font-size="15.75" stroke="#000" stroke-width="0.3">RBMX</text>
<text x="992.0" y="872.8" font-size="16.02" stroke="#000" stroke-width="0.3">SNRNP70</text>
<text x="828.0" y="891.6" font-size="14.14" stroke="#000" stroke-width="0.3">SNRPC</text>
<text x="1378.7" y="891.2" font-size="14.78" stroke="#000" stroke-width="0.3">SNW1</text>
<text x="1053.9" y="928.1" font-size="18.07" stroke="#000" stroke-width="0.3">HNRNPL</text>
<text x="1138.9" y="929.7" font-size="18.40" stroke="#000" stroke-width="0.3">SRSF1</text>
<text x="1265.8" y="941.7" font-size="14.66" stroke="#000" stroke-width="0.3">SNRPB</text>
<text x="924.9" y="954.1" font-size="14.13" stroke="#000" stroke-width="0.3">SF3B6</text>
<text x="760.9" y="1000.5" font-size="15.34" stroke="#000" stroke-width="0.3">HNRNPUL1</text>
<text x="1016.5" y="999.0" font-size="17.71" stroke="#000" stroke-width="0.3">PTBP1</text>
<text x="1169.0" y="1002.3" font-size="18.30" stroke="#000" stroke-width="0.3">HNRNPC</text>
<text x="1393.2" y="996.7" font-size="16.39" stroke="#000" stroke-width="0.3">HNRNPA3</text>
<text x="1286.8" y="1036.7" font-size="15.70" stroke="#000" stroke-width="0.3">SRSF2</text>
<text x="918.1" y="1058.2" font-size="17.20" stroke="#000" stroke-width="0.3">SRRT</text>
<text x="1050.5" y="1074.2" font-size="18.45" stroke="#000" stroke-width="0.3">HNRNPK</text>
<text x="1142.8" y="1072.6" font-size="18.40" stroke="#000" stroke-width="0.3">SRSF3</text>
<text x="800.9" y="1097.9" font-size="15.42" stroke="#000" stroke-width="0.3">SRSF7</text>
<text x="1380.4" y="1103.3" font-size="14.17" stroke="#000" stroke-width="0.3">SNRPB2</text>
<text x="1219.8" y="1120.8" font-size="18.08" stroke="#000" stroke-width="0.3">SNRPG</text>
<text x="976.8" y="1135.4" font-size="18.03" stroke="#000" stroke-width="0.3">U2AF2</text>
<text x="1076.0" y="1170.9" font-size="18.72" stroke="#000" stroke-width="0.3">HNRNPA2B1</text>
<text x="876.8" y="1192.7" font-size="14.24" stroke="#000" stroke-width="0.3">LSM7</text>
<text x="1328.9" y="1186.9" font-size="16.17" stroke="#000" stroke-width="0.3">SRSF6</text>
<text x="969.0" y="1259.9" font-size="16.38" stroke="#000" stroke-width="0.3">ALYREF</text>
<text x="1216.4" y="1260.8" font-size="16.46" stroke="#000" stroke-width="0.3">HNRNPD</text>
<text x="1099.6" y="1301.8" font-size="18.11" stroke="#000" stroke-width="0.3">SNRPE</text>
<defs><linearGradient id="cbar" x1="0" x2="1" y1="0" y2="0"><stop offset="0" stop-color="#f5f0a0"/><stop offset="0.25" stop-color="#f6d098"/><stop offset="0.5" stop-color="#f7ac7e"/><stop offset="0.75" stop-color="#f28862"/><stop offset="1.0" stop-color="#ee6844"/></linearGradient></defs>
<rect x="870.1" y="191.4" width="288.4" height="31.3" fill="url(#cbar)"/>
<line x1="870.1" y1="191.6" x2="1158.5" y2="191.6" stroke="#8a8a8a" stroke-width="0.8"/>
<text x="1016.3" y="179.4" font-size="24.3" text-anchor="middle" fill="#222" stroke="#222" stroke-width="0.3">Degree</text>
<text x="870.2" y="254.7" font-size="24.3" text-anchor="middle" fill="#222" stroke="#222" stroke-width="0.3">20</text>
<text x="1157.5" y="254.7" font-size="24.3" text-anchor="middle" fill="#222" stroke="#222" stroke-width="0.3">50</text>
<g clip-path="url(#clipc)">
<polygon points="161.7,1044.1 162.0,1033.3 164.3,1023.8 168.6,1016.8 174.7,1007.7 183.3,1001.6 192.0,996.9 197.2,993.4 201.5,990.8 201.5,1022.6 218.0,1022.9 230.1,1025.5 237.9,1027.8 230.1,1029.8 218.0,1032.1 201.5,1035.0 183.3,1039.5 169.5,1043.0" fill="#000"/>
<polygon points="161.7,1045.1 169.5,1046.5 183.3,1049.3 201.5,1052.9 212.8,1057.6 223.2,1061.9 233.6,1065.2 201.5,1066.2 201.5,1114.8 197.2,1109.6 192.0,1102.6 185.1,1097.4 177.3,1092.2 171.2,1085.3 166.0,1073.2 162.5,1059.3" fill="#000"/>
<g fill="#000"><circle cx="196.2" cy="1069.0" r="1.3"/><circle cx="200.6" cy="1073.1" r="1.3"/><circle cx="174.8" cy="1061.8" r="1.3"/><circle cx="167.5" cy="1030.5" r="1.3"/><circle cx="202.3" cy="993.9" r="1.3"/><circle cx="175.2" cy="1021.3" r="1.3"/><circle cx="162.4" cy="1054.6" r="1.3"/><circle cx="201.5" cy="1081.0" r="1.3"/><circle cx="200.0" cy="1084.4" r="1.3"/><circle cx="196.6" cy="1026.7" r="1.3"/><circle cx="185.2" cy="1019.4" r="1.3"/><circle cx="222.3" cy="1025.5" r="1.3"/><circle cx="167.0" cy="1034.9" r="1.3"/><circle cx="169.4" cy="1022.0" r="1.3"/><circle cx="170.5" cy="1081.6" r="1.3"/><circle cx="169.3" cy="1048.1" r="1.3"/><circle cx="177.0" cy="1025.5" r="1.3"/><circle cx="177.1" cy="1023.7" r="1.3"/><circle cx="167.2" cy="1072.4" r="1.3"/><circle cx="179.4" cy="1075.2" r="1.3"/><circle cx="189.7" cy="1053.0" r="1.3"/><circle cx="174.6" cy="1008.1" r="1.3"/><circle cx="180.0" cy="1013.5" r="1.3"/><circle cx="193.7" cy="1000.6" r="1.3"/><circle cx="179.1" cy="1090.7" r="1.3"/><circle cx="207.7" cy="1029.0" r="1.3"/><circle cx="209.1" cy="1027.0" r="1.3"/><circle cx="195.7" cy="994.1" r="1.3"/><circle cx="174.1" cy="1040.3" r="1.3"/><circle cx="198.6" cy="1094.6" r="1.3"/><circle cx="166.0" cy="1066.9" r="1.3"/><circle cx="188.1" cy="1087.8" r="1.3"/><circle cx="193.4" cy="1103.6" r="1.3"/><circle cx="198.5" cy="1019.5" r="1.3"/><circle cx="215.9" cy="1059.6" r="1.3"/><circle cx="184.1" cy="1086.7" r="1.3"/><circle cx="176.2" cy="1010.4" r="1.3"/><circle cx="186.2" cy="1084.9" r="1.3"/><circle cx="175.9" cy="1049.6" r="1.3"/><circle cx="206.6" cy="1032.5" r="1.3"/><circle cx="170.9" cy="1059.5" r="1.3"/><circle cx="182.1" cy="1010.4" r="1.3"/><circle cx="196.1" cy="1026.3" r="1.3"/><circle cx="177.1" cy="1047.1" r="1.3"/><circle cx="210.1" cy="1059.1" r="1.3"/><circle cx="198.0" cy="1011.8" r="1.3"/><circle cx="160.9" cy="1055.8" r="1.3"/><circle cx="181.8" cy="1036.9" r="1.3"/><circle cx="215.8" cy="1063.1" r="1.3"/><circle cx="191.5" cy="1103.8" r="1.3"/><circle cx="170.4" cy="1053.0" r="1.3"/><circle cx="190.1" cy="1070.3" r="1.3"/><circle cx="203.0" cy="1103.6" r="1.3"/><circle cx="166.6" cy="1051.1" r="1.3"/><circle cx="201.3" cy="1093.5" r="1.3"/><circle cx="177.7" cy="1064.0" r="1.3"/><circle cx="183.2" cy="1094.3" r="1.3"/><circle cx="211.1" cy="1063.4" r="1.3"/><circle cx="202.9" cy="1060.5" r="1.3"/><circle cx="205.0" cy="1058.7" r="1.3"/><circle cx="181.5" cy="1056.0" r="1.3"/><circle cx="170.2" cy="1050.1" r="1.3"/><circle cx="198.1" cy="1032.6" r="1.3"/><circle cx="175.3" cy="1077.7" r="1.3"/><circle cx="175.5" cy="1019.1" r="1.3"/><circle cx="215.0" cy="1033.3" r="1.3"/><circle cx="188.4" cy="1078.0" r="1.3"/><circle cx="169.8" cy="1061.6" r="1.3"/><circle cx="180.0" cy="1014.7" r="1.3"/><circle cx="202.3" cy="1009.0" r="1.3"/><circle cx="176.3" cy="1079.7" r="1.3"/><circle cx="211.1" cy="1064.4" r="1.3"/><circle cx="179.1" cy="1094.0" r="1.3"/><circle cx="192.2" cy="1087.8" r="1.3"/><circle cx="200.5" cy="1098.7" r="1.3"/><circle cx="200.2" cy="1087.9" r="1.3"/><circle cx="204.1" cy="1062.2" r="1.3"/><circle cx="174.8" cy="1015.6" r="1.3"/><circle cx="197.0" cy="1099.7" r="1.3"/><circle cx="186.1" cy="1055.0" r="1.3"/><circle cx="174.5" cy="1053.1" r="1.3"/><circle cx="175.6" cy="1009.8" r="1.3"/><circle cx="208.0" cy="1060.6" r="1.3"/><circle cx="187.3" cy="1055.3" r="1.3"/><circle cx="160.8" cy="1038.3" r="1.3"/><circle cx="190.1" cy="999.8" r="1.3"/><circle cx="204.0" cy="1061.2" r="1.3"/><circle cx="172.8" cy="1055.8" r="1.3"/><circle cx="173.5" cy="1059.3" r="1.3"/><circle cx="202.1" cy="1074.7" r="1.3"/><circle cx="189.2" cy="1027.9" r="1.3"/><circle cx="182.7" cy="1092.5" r="1.3"/><circle cx="194.4" cy="1056.6" r="1.3"/><circle cx="202.2" cy="1003.6" r="1.3"/><circle cx="195.4" cy="1085.2" r="1.3"/><circle cx="196.4" cy="1024.3" r="1.3"/><circle cx="222.2" cy="1064.6" r="1.3"/><circle cx="188.7" cy="1025.7" r="1.3"/><circle cx="181.7" cy="1048.8" r="1.3"/><circle cx="189.9" cy="1056.8" r="1.3"/><circle cx="176.9" cy="1036.6" r="1.3"/><circle cx="193.9" cy="1023.7" r="1.3"/><circle cx="186.0" cy="1067.3" r="1.3"/><circle cx="205.1" cy="1057.7" r="1.3"/><circle cx="214.8" cy="1029.8" r="1.3"/><circle cx="177.1" cy="1084.3" r="1.3"/><circle cx="166.5" cy="1030.6" r="1.3"/><circle cx="182.6" cy="1006.4" r="1.3"/><circle cx="188.6" cy="1093.9" r="1.3"/><circle cx="189.3" cy="1002.6" r="1.3"/><circle cx="224.2" cy="1030.7" r="1.3"/><circle cx="179.9" cy="1039.3" r="1.3"/><circle cx="189.2" cy="1039.5" r="1.3"/><circle cx="175.6" cy="1069.6" r="1.3"/><circle cx="223.8" cy="1066.1" r="1.3"/><circle cx="230.5" cy="1027.2" r="1.3"/><circle cx="211.9" cy="1021.8" r="1.3"/><circle cx="201.7" cy="1099.7" r="1.3"/><circle cx="191.6" cy="1035.7" r="1.3"/><circle cx="199.5" cy="1065.6" r="1.3"/><circle cx="201.9" cy="1091.5" r="1.3"/><circle cx="193.6" cy="1006.9" r="1.3"/><circle cx="190.0" cy="1010.1" r="1.3"/><circle cx="176.3" cy="1048.7" r="1.3"/><circle cx="164.7" cy="1031.3" r="1.3"/><circle cx="169.2" cy="1082.2" r="1.3"/><circle cx="165.0" cy="1053.8" r="1.3"/><circle cx="174.8" cy="1017.6" r="1.3"/><circle cx="178.8" cy="1092.6" r="1.3"/><circle cx="174.8" cy="1027.2" r="1.3"/><circle cx="184.9" cy="1067.2" r="1.3"/><circle cx="198.6" cy="1018.2" r="1.3"/><circle cx="202.2" cy="1062.4" r="1.3"/><circle cx="160.9" cy="1055.9" r="1.3"/><circle cx="185.7" cy="1023.9" r="1.3"/><circle cx="229.5" cy="1062.4" r="1.3"/><circle cx="181.3" cy="1065.2" r="1.3"/><circle cx="166.6" cy="1025.5" r="1.3"/><circle cx="198.4" cy="1055.3" r="1.3"/><circle cx="228.6" cy="1030.5" r="1.3"/><circle cx="203.5" cy="1063.9" r="1.3"/><circle cx="184.9" cy="1031.6" r="1.3"/><circle cx="166.1" cy="1030.9" r="1.3"/><circle cx="197.4" cy="1092.3" r="1.3"/><circle cx="188.8" cy="1088.1" r="1.3"/><circle cx="168.5" cy="1044.1" r="1.3"/><circle cx="161.0" cy="1041.6" r="1.3"/><circle cx="205.1" cy="1053.7" r="1.3"/><circle cx="209.3" cy="1028.6" r="1.3"/><circle cx="190.1" cy="1066.0" r="1.3"/><circle cx="183.9" cy="1035.6" r="1.3"/><circle cx="191.4" cy="1085.0" r="1.3"/><circle cx="180.5" cy="1015.0" r="1.3"/><circle cx="167.2" cy="1019.0" r="1.3"/><circle cx="192.5" cy="995.9" r="1.3"/><circle cx="200.9" cy="1082.1" r="1.3"/><circle cx="190.9" cy="1034.7" r="1.3"/><circle cx="192.1" cy="1090.0" r="1.3"/><circle cx="161.5" cy="1034.7" r="1.3"/><circle cx="187.4" cy="1082.6" r="1.3"/><circle cx="168.5" cy="1041.6" r="1.3"/><circle cx="200.7" cy="1103.3" r="1.3"/><circle cx="188.2" cy="1060.1" r="1.3"/><circle cx="166.7" cy="1021.7" r="1.3"/><circle cx="188.9" cy="1054.5" r="1.3"/><circle cx="204.8" cy="1024.7" r="1.3"/><circle cx="179.3" cy="1071.0" r="1.3"/><circle cx="212.7" cy="1031.1" r="1.3"/><circle cx="190.5" cy="1073.8" r="1.3"/><circle cx="176.0" cy="1055.2" r="1.3"/><circle cx="171.4" cy="1043.0" r="1.3"/><circle cx="201.6" cy="1024.5" r="1.3"/><circle cx="205.4" cy="1034.8" r="1.3"/><circle cx="192.7" cy="1050.1" r="1.3"/><circle cx="202.1" cy="1063.8" r="1.3"/><circle cx="220.2" cy="1030.7" r="1.3"/><circle cx="170.0" cy="1052.0" r="1.3"/><circle cx="202.1" cy="1020.9" r="1.3"/><circle cx="193.7" cy="1105.8" r="1.3"/><circle cx="169.9" cy="1065.6" r="1.3"/><circle cx="179.5" cy="1029.9" r="1.3"/><circle cx="191.8" cy="1038.5" r="1.3"/><circle cx="184.6" cy="1059.8" r="1.3"/><circle cx="197.8" cy="1016.0" r="1.3"/><circle cx="197.8" cy="1010.8" r="1.3"/><circle cx="176.2" cy="1079.9" r="1.3"/><circle cx="218.1" cy="1031.9" r="1.3"/><circle cx="195.6" cy="996.8" r="1.3"/><circle cx="177.9" cy="1031.1" r="1.3"/><circle cx="174.5" cy="1020.3" r="1.3"/><circle cx="189.8" cy="1084.3" r="1.3"/><circle cx="178.3" cy="1030.1" r="1.3"/><circle cx="182.1" cy="1081.0" r="1.3"/><circle cx="195.2" cy="1064.2" r="1.3"/><circle cx="202.5" cy="991.8" r="1.3"/><circle cx="208.0" cy="1027.7" r="1.3"/><circle cx="167.0" cy="1027.8" r="1.3"/><circle cx="182.3" cy="1067.2" r="1.3"/><circle cx="196.9" cy="1097.6" r="1.3"/><circle cx="200.0" cy="1012.0" r="1.3"/><circle cx="188.8" cy="1083.7" r="1.3"/><circle cx="222.6" cy="1062.5" r="1.3"/><circle cx="200.5" cy="1111.8" r="1.3"/><circle cx="214.7" cy="1063.1" r="1.3"/><circle cx="195.2" cy="1101.0" r="1.3"/><circle cx="178.9" cy="1058.4" r="1.3"/><circle cx="177.7" cy="1072.0" r="1.3"/><circle cx="174.4" cy="1007.8" r="1.3"/><circle cx="161.4" cy="1059.4" r="1.3"/><circle cx="194.8" cy="1051.3" r="1.3"/><circle cx="205.5" cy="1066.5" r="1.3"/><circle cx="171.7" cy="1031.7" r="1.3"/><circle cx="163.4" cy="1032.2" r="1.3"/><circle cx="209.7" cy="1063.8" r="1.3"/><circle cx="181.2" cy="1073.3" r="1.3"/><circle cx="173.7" cy="1023.2" r="1.3"/><circle cx="172.8" cy="1088.6" r="1.3"/><circle cx="164.9" cy="1046.6" r="1.3"/><circle cx="189.2" cy="1017.5" r="1.3"/><circle cx="199.2" cy="1099.2" r="1.3"/><circle cx="196.4" cy="1096.7" r="1.3"/><circle cx="191.4" cy="1029.7" r="1.3"/><circle cx="194.0" cy="996.5" r="1.3"/><circle cx="178.4" cy="1023.0" r="1.3"/><circle cx="204.2" cy="1021.3" r="1.3"/><circle cx="189.1" cy="1035.6" r="1.3"/><circle cx="163.2" cy="1045.5" r="1.3"/><circle cx="187.5" cy="1089.2" r="1.3"/><circle cx="190.5" cy="1102.2" r="1.3"/><circle cx="177.2" cy="1037.1" r="1.3"/><circle cx="174.7" cy="1067.4" r="1.3"/><circle cx="173.1" cy="1015.5" r="1.3"/><circle cx="177.2" cy="1055.2" r="1.3"/><circle cx="184.7" cy="1052.1" r="1.3"/><circle cx="174.6" cy="1024.4" r="1.3"/><circle cx="217.2" cy="1025.3" r="1.3"/><circle cx="188.9" cy="1008.0" r="1.3"/><circle cx="201.5" cy="993.2" r="1.3"/><circle cx="191.5" cy="1020.7" r="1.3"/><circle cx="185.0" cy="1048.6" r="1.3"/><circle cx="216.5" cy="1024.1" r="1.3"/><circle cx="171.8" cy="1015.7" r="1.3"/><circle cx="182.4" cy="1091.9" r="1.3"/><circle cx="183.4" cy="1036.7" r="1.3"/><circle cx="177.3" cy="1088.4" r="1.3"/><circle cx="164.8" cy="1042.5" r="1.3"/><circle cx="186.3" cy="1059.6" r="1.3"/><circle cx="182.4" cy="1008.8" r="1.3"/><circle cx="192.2" cy="1056.3" r="1.3"/><circle cx="173.3" cy="1084.8" r="1.3"/><circle cx="172.1" cy="1072.4" r="1.3"/><circle cx="165.0" cy="1045.7" r="1.3"/><circle cx="164.4" cy="1059.3" r="1.3"/><circle cx="206.9" cy="1055.3" r="1.3"/><circle cx="186.0" cy="1023.0" r="1.3"/><circle cx="161.9" cy="1037.1" r="1.3"/><circle cx="181.0" cy="1085.2" r="1.3"/><circle cx="174.9" cy="1055.4" r="1.3"/><circle cx="189.0" cy="1071.4" r="1.3"/><circle cx="170.9" cy="1061.1" r="1.3"/><circle cx="184.7" cy="1039.1" r="1.3"/><circle cx="175.4" cy="1019.3" r="1.3"/><circle cx="179.4" cy="1092.2" r="1.3"/><circle cx="195.1" cy="1088.1" r="1.3"/><circle cx="182.9" cy="1108.8" r="1.3"/><circle cx="184.5" cy="1092.1" r="1.3"/><circle cx="176.9" cy="1089.1" r="1.3"/><circle cx="169.6" cy="1083.2" r="1.3"/><circle cx="193.2" cy="1104.5" r="1.3"/><circle cx="196.6" cy="1124.4" r="1.3"/><circle cx="195.3" cy="1120.9" r="1.3"/><circle cx="178.8" cy="1114.1" r="1.3"/><circle cx="171.7" cy="1080.7" r="1.3"/><circle cx="199.3" cy="1129.5" r="1.3"/><circle cx="190.1" cy="1101.4" r="1.3"/><circle cx="201.1" cy="1082.5" r="1.3"/><circle cx="169.3" cy="1082.2" r="1.3"/><circle cx="182.6" cy="1099.0" r="1.3"/><circle cx="194.2" cy="1122.8" r="1.3"/><circle cx="184.9" cy="1120.8" r="1.3"/><circle cx="175.0" cy="1091.6" r="1.3"/><circle cx="178.4" cy="1093.2" r="1.3"/><circle cx="176.3" cy="1084.0" r="1.3"/><circle cx="179.5" cy="1082.9" r="1.3"/><circle cx="189.0" cy="1111.8" r="1.3"/><circle cx="171.4" cy="1081.4" r="1.3"/><circle cx="169.3" cy="1083.8" r="1.3"/><circle cx="192.5" cy="1095.8" r="1.3"/><circle cx="200.0" cy="1080.6" r="1.3"/><circle cx="179.7" cy="1116.0" r="1.3"/><circle cx="198.2" cy="1081.2" r="1.3"/><circle cx="178.3" cy="1112.5" r="1.3"/><circle cx="176.7" cy="1084.8" r="1.3"/><circle cx="192.1" cy="1090.8" r="1.3"/><circle cx="184.9" cy="1114.7" r="1.3"/><circle cx="177.8" cy="1102.0" r="1.3"/><circle cx="183.3" cy="1100.6" r="1.3"/><circle cx="190.8" cy="1089.1" r="1.3"/><circle cx="176.8" cy="1089.4" r="1.3"/><circle cx="201.1" cy="1087.6" r="1.3"/><circle cx="178.8" cy="1112.8" r="1.3"/><circle cx="187.9" cy="1105.7" r="1.3"/><circle cx="180.3" cy="1099.6" r="1.3"/><circle cx="186.9" cy="1109.2" r="1.3"/><circle cx="199.0" cy="1087.7" r="1.3"/><circle cx="201.2" cy="1117.6" r="1.3"/><circle cx="201.3" cy="1083.3" r="1.3"/><circle cx="172.2" cy="1094.3" r="1.3"/><circle cx="193.7" cy="1105.0" r="1.3"/><circle cx="168.7" cy="1081.9" r="1.3"/><circle cx="196.6" cy="1122.5" r="1.3"/><circle cx="197.0" cy="1117.1" r="1.3"/><circle cx="189.4" cy="1102.0" r="1.3"/><circle cx="177.4" cy="1096.1" r="1.3"/><circle cx="190.4" cy="1089.2" r="1.3"/><circle cx="190.3" cy="1103.8" r="1.3"/><circle cx="187.3" cy="1098.2" r="1.3"/><circle cx="178.2" cy="1095.8" r="1.3"/><circle cx="177.6" cy="1115.9" r="1.3"/><circle cx="181.4" cy="1083.3" r="1.3"/><circle cx="189.5" cy="1092.5" r="1.3"/><circle cx="174.2" cy="1101.5" r="1.3"/><circle cx="199.7" cy="1081.2" r="1.3"/><circle cx="182.1" cy="1098.4" r="1.3"/><circle cx="179.6" cy="1113.5" r="1.3"/><circle cx="201.1" cy="1090.7" r="1.3"/><circle cx="192.1" cy="1084.3" r="1.3"/><circle cx="191.7" cy="1119.6" r="1.3"/><circle cx="182.1" cy="1080.8" r="1.3"/><circle cx="199.5" cy="1125.7" r="1.3"/><circle cx="177.8" cy="1107.3" r="1.3"/><circle cx="176.0" cy="1105.9" r="1.3"/><circle cx="185.7" cy="1086.6" r="1.3"/><circle cx="174.0" cy="1101.1" r="1.3"/><circle cx="184.2" cy="1100.7" r="1.3"/><circle cx="188.5" cy="1123.2" r="1.3"/><circle cx="180.2" cy="1084.0" r="1.3"/><circle cx="179.4" cy="1095.3" r="1.3"/><circle cx="174.4" cy="1098.8" r="1.3"/><circle cx="182.4" cy="1098.3" r="1.3"/><circle cx="181.5" cy="1082.5" r="1.3"/><circle cx="185.0" cy="1100.4" r="1.3"/><circle cx="176.5" cy="1104.7" r="1.3"/><circle cx="192.4" cy="1104.9" r="1.3"/><circle cx="200.1" cy="1098.6" r="1.3"/><circle cx="178.5" cy="1095.4" r="1.3"/><circle cx="186.5" cy="1096.1" r="1.3"/><circle cx="183.8" cy="1118.4" r="1.3"/><circle cx="179.7" cy="1094.6" r="1.3"/><circle cx="195.4" cy="1096.7" r="1.3"/><circle cx="188.3" cy="1081.1" r="1.3"/><circle cx="192.5" cy="1109.6" r="1.3"/><circle cx="200.9" cy="1126.8" r="1.3"/><circle cx="178.8" cy="1102.8" r="1.3"/><circle cx="191.8" cy="1083.6" r="1.3"/><circle cx="184.6" cy="1122.8" r="1.3"/><circle cx="196.9" cy="1104.1" r="1.3"/><circle cx="180.8" cy="1099.3" r="1.3"/><circle cx="179.2" cy="1119.7" r="1.3"/><circle cx="192.1" cy="1088.5" r="1.3"/><circle cx="186.6" cy="1106.5" r="1.3"/><circle cx="186.0" cy="1123.0" r="1.3"/><circle cx="177.0" cy="1115.6" r="1.3"/><circle cx="186.0" cy="1093.1" r="1.3"/><circle cx="182.8" cy="1091.8" r="1.3"/><circle cx="195.9" cy="1081.8" r="1.3"/><circle cx="185.7" cy="1108.1" r="1.3"/><circle cx="192.9" cy="1121.1" r="1.3"/><circle cx="193.6" cy="1091.1" r="1.3"/><circle cx="184.5" cy="1111.1" r="1.3"/><circle cx="198.7" cy="1115.2" r="1.3"/><circle cx="199.7" cy="1116.6" r="1.3"/><circle cx="196.3" cy="1117.1" r="1.3"/><circle cx="174.1" cy="1081.0" r="1.3"/><circle cx="174.3" cy="1094.9" r="1.3"/><circle cx="175.0" cy="1094.5" r="1.3"/><circle cx="183.6" cy="1124.6" r="1.3"/><circle cx="183.5" cy="1108.9" r="1.3"/><circle cx="184.0" cy="1083.9" r="1.3"/><circle cx="177.9" cy="1105.4" r="1.3"/><circle cx="190.7" cy="1101.3" r="1.3"/><circle cx="185.5" cy="1086.9" r="1.3"/><circle cx="196.3" cy="1127.7" r="1.3"/><circle cx="200.0" cy="1081.6" r="1.3"/><circle cx="196.7" cy="1128.8" r="1.3"/><circle cx="190.1" cy="1106.5" r="1.3"/><circle cx="192.6" cy="1121.2" r="1.3"/><circle cx="177.2" cy="1097.7" r="1.3"/><circle cx="193.1" cy="1093.4" r="1.3"/><circle cx="184.2" cy="1097.1" r="1.3"/><circle cx="171.4" cy="1087.6" r="1.3"/><circle cx="182.5" cy="1120.0" r="1.3"/><circle cx="171.7" cy="1091.8" r="1.3"/><circle cx="193.8" cy="1107.5" r="1.3"/><circle cx="192.9" cy="1092.5" r="1.3"/><circle cx="201.2" cy="1099.7" r="1.3"/><circle cx="193.8" cy="1119.9" r="1.3"/><circle cx="193.9" cy="1099.4" r="1.3"/><circle cx="194.9" cy="1080.7" r="1.3"/><circle cx="199.5" cy="1089.8" r="1.3"/><circle cx="199.6" cy="1103.1" r="1.3"/><circle cx="199.3" cy="1083.7" r="1.3"/><circle cx="177.7" cy="1082.5" r="1.3"/><circle cx="171.7" cy="1086.3" r="1.3"/><circle cx="200.5" cy="1103.4" r="1.3"/><circle cx="195.9" cy="1103.7" r="1.3"/><circle cx="199.5" cy="1129.9" r="1.3"/><circle cx="192.8" cy="1100.4" r="1.3"/><circle cx="170.9" cy="1088.8" r="1.3"/><circle cx="172.7" cy="1081.0" r="1.3"/><circle cx="182.0" cy="1089.3" r="1.3"/><circle cx="176.1" cy="1082.1" r="1.3"/><circle cx="187.6" cy="1098.8" r="1.3"/><circle cx="187.8" cy="1096.2" r="1.3"/><circle cx="197.3" cy="1109.6" r="1.3"/><circle cx="184.7" cy="1103.5" r="1.3"/><circle cx="196.1" cy="1125.0" r="1.3"/><circle cx="175.5" cy="1088.7" r="1.3"/><circle cx="175.4" cy="1084.9" r="1.3"/><circle cx="177.7" cy="1108.5" r="1.3"/><circle cx="198.7" cy="1106.2" r="1.3"/><circle cx="188.1" cy="1103.6" r="1.3"/><circle cx="200.4" cy="1094.3" r="1.3"/><circle cx="183.4" cy="1101.7" r="1.3"/><circle cx="199.5" cy="1105.0" r="1.3"/><circle cx="183.4" cy="1097.5" r="1.3"/><circle cx="188.5" cy="1083.3" r="1.3"/><circle cx="196.8" cy="1095.8" r="1.3"/><circle cx="187.7" cy="1086.4" r="1.3"/><circle cx="188.3" cy="1105.1" r="1.3"/><circle cx="177.9" cy="1081.2" r="1.3"/><circle cx="194.0" cy="1091.7" r="1.3"/><circle cx="176.5" cy="1093.9" r="1.3"/><circle cx="193.3" cy="1097.0" r="1.3"/><circle cx="184.1" cy="1104.9" r="1.3"/><circle cx="196.5" cy="1107.3" r="1.3"/><circle cx="192.2" cy="1092.7" r="1.3"/><circle cx="186.2" cy="1092.3" r="1.3"/><circle cx="188.3" cy="1101.1" r="1.3"/><circle cx="200.0" cy="1086.2" r="1.3"/><circle cx="197.9" cy="1092.8" r="1.3"/><circle cx="201.4" cy="1106.9" r="1.3"/><circle cx="193.0" cy="1082.9" r="1.3"/><circle cx="185.1" cy="1093.9" r="1.3"/><circle cx="188.6" cy="1116.0" r="1.3"/><circle cx="180.8" cy="1085.4" r="1.3"/><circle cx="199.8" cy="1125.3" r="1.3"/><circle cx="190.3" cy="1102.3" r="1.3"/><circle cx="187.5" cy="1082.4" r="1.3"/><circle cx="169.7" cy="1082.8" r="1.3"/><circle cx="179.3" cy="1103.9" r="1.3"/><circle cx="183.6" cy="1100.9" r="1.3"/><circle cx="190.8" cy="1102.9" r="1.3"/><circle cx="180.9" cy="1103.1" r="1.3"/><circle cx="187.8" cy="1101.0" r="1.3"/><circle cx="193.2" cy="1103.2" r="1.3"/><circle cx="197.1" cy="1103.2" r="1.3"/><circle cx="180.9" cy="1113.3" r="1.3"/><circle cx="177.5" cy="1116.3" r="1.3"/><circle cx="180.2" cy="1119.1" r="1.3"/><circle cx="187.4" cy="1091.3" r="1.3"/><circle cx="192.3" cy="1109.5" r="1.3"/><circle cx="190.7" cy="1108.6" r="1.3"/><circle cx="201.0" cy="1087.0" r="1.3"/><circle cx="184.3" cy="1105.3" r="1.3"/><circle cx="180.3" cy="1087.4" r="1.3"/><circle cx="177.9" cy="1118.7" r="1.3"/><circle cx="190.2" cy="1122.2" r="1.3"/><circle cx="175.0" cy="1098.3" r="1.3"/><circle cx="189.0" cy="1087.6" r="1.3"/><circle cx="196.9" cy="1127.6" r="1.3"/><circle cx="171.5" cy="1086.0" r="1.3"/><circle cx="194.0" cy="1117.7" r="1.3"/><circle cx="182.9" cy="1115.5" r="1.3"/><circle cx="194.9" cy="1123.8" r="1.3"/><circle cx="190.7" cy="1115.7" r="1.3"/><circle cx="197.1" cy="1091.1" r="1.3"/><circle cx="173.2" cy="1091.4" r="1.3"/><circle cx="177.5" cy="1102.4" r="1.3"/><circle cx="196.8" cy="1091.6" r="1.3"/><circle cx="184.8" cy="1109.7" r="1.3"/><circle cx="189.3" cy="1115.5" r="1.3"/><circle cx="182.1" cy="1094.7" r="1.3"/><circle cx="178.0" cy="1098.4" r="1.3"/><circle cx="175.7" cy="1093.3" r="1.3"/><circle cx="176.3" cy="1110.2" r="1.3"/><circle cx="182.1" cy="1106.1" r="1.3"/><circle cx="180.1" cy="1099.9" r="1.3"/><circle cx="182.1" cy="1107.0" r="1.3"/><circle cx="193.8" cy="1125.5" r="1.3"/><circle cx="187.6" cy="1094.6" r="1.3"/><circle cx="200.4" cy="1107.7" r="1.3"/><circle cx="179.2" cy="1112.6" r="1.3"/><circle cx="186.3" cy="1088.8" r="1.3"/><circle cx="197.9" cy="1114.4" r="1.3"/><circle cx="181.3" cy="1107.7" r="1.3"/><circle cx="186.1" cy="1112.2" r="1.3"/><circle cx="172.8" cy="1083.7" r="1.3"/><circle cx="185.4" cy="1085.2" r="1.3"/><circle cx="191.4" cy="1118.7" r="1.3"/><circle cx="200.3" cy="1092.2" r="1.3"/><circle cx="198.5" cy="1114.4" r="1.3"/><circle cx="171.8" cy="1092.1" r="1.3"/><circle cx="189.4" cy="1112.0" r="1.3"/><circle cx="191.2" cy="1105.2" r="1.3"/><circle cx="183.0" cy="1099.6" r="1.3"/><circle cx="200.9" cy="1098.9" r="1.3"/><circle cx="198.4" cy="1089.2" r="1.3"/><circle cx="173.7" cy="1089.7" r="1.3"/><circle cx="170.4" cy="1088.3" r="1.3"/><circle cx="178.9" cy="1084.4" r="1.3"/><circle cx="175.5" cy="1089.7" r="1.3"/><circle cx="171.1" cy="1088.6" r="1.3"/><circle cx="178.7" cy="1087.6" r="1.3"/><circle cx="183.5" cy="1099.8" r="1.3"/><circle cx="186.4" cy="1100.0" r="1.3"/><circle cx="199.3" cy="1086.7" r="1.3"/><circle cx="198.2" cy="1082.1" r="1.3"/><circle cx="196.1" cy="1119.0" r="1.3"/><circle cx="200.1" cy="1087.3" r="1.3"/><circle cx="185.6" cy="1086.7" r="1.3"/><circle cx="175.2" cy="1096.5" r="1.3"/><circle cx="174.6" cy="1098.6" r="1.3"/><circle cx="188.3" cy="1083.3" r="1.3"/><circle cx="180.4" cy="1096.2" r="1.3"/><circle cx="181.9" cy="1115.0" r="1.3"/><circle cx="170.9" cy="1081.8" r="1.3"/><circle cx="196.3" cy="1099.0" r="1.3"/><circle cx="188.4" cy="1081.3" r="1.3"/><circle cx="195.1" cy="1097.6" r="1.3"/><circle cx="188.1" cy="1103.9" r="1.3"/><circle cx="182.4" cy="1093.4" r="1.3"/><circle cx="183.6" cy="1106.0" r="1.3"/><circle cx="193.9" cy="1094.8" r="1.3"/><circle cx="183.5" cy="1121.0" r="1.3"/><circle cx="198.6" cy="1104.7" r="1.3"/><circle cx="170.5" cy="1087.6" r="1.3"/><circle cx="172.8" cy="1080.6" r="1.3"/><circle cx="182.6" cy="1086.7" r="1.3"/><circle cx="197.5" cy="1118.2" r="1.3"/><circle cx="189.6" cy="1090.9" r="1.3"/><circle cx="177.2" cy="1087.3" r="1.3"/><circle cx="169.0" cy="1081.9" r="1.3"/><circle cx="193.9" cy="1090.5" r="1.3"/><circle cx="187.0" cy="1104.0" r="1.3"/><circle cx="198.5" cy="1090.6" r="1.3"/><circle cx="199.6" cy="1111.5" r="1.3"/><circle cx="199.7" cy="1124.1" r="1.3"/><circle cx="185.1" cy="1096.2" r="1.3"/><circle cx="192.1" cy="1118.7" r="1.3"/><circle cx="181.9" cy="1086.0" r="1.3"/><circle cx="183.1" cy="1112.9" r="1.3"/><circle cx="187.1" cy="1086.6" r="1.3"/><circle cx="179.8" cy="1113.1" r="1.3"/><circle cx="180.0" cy="1098.7" r="1.3"/><circle cx="179.1" cy="1112.8" r="1.3"/><circle cx="176.5" cy="1085.1" r="1.3"/><circle cx="198.6" cy="1095.4" r="1.3"/><circle cx="188.3" cy="1125.5" r="1.3"/><circle cx="177.9" cy="1104.1" r="1.3"/><circle cx="175.6" cy="1101.7" r="1.3"/><circle cx="191.6" cy="1081.5" r="1.3"/><circle cx="194.3" cy="1096.6" r="1.3"/><circle cx="169.4" cy="1083.9" r="1.3"/><circle cx="187.0" cy="1080.8" r="1.3"/><circle cx="186.9" cy="1096.3" r="1.3"/><circle cx="196.7" cy="1109.3" r="1.3"/><circle cx="194.5" cy="1084.6" r="1.3"/><circle cx="192.7" cy="1112.9" r="1.3"/><circle cx="193.4" cy="1114.1" r="1.3"/><circle cx="184.3" cy="1101.1" r="1.3"/><circle cx="193.8" cy="1122.1" r="1.3"/><circle cx="170.3" cy="1082.4" r="1.3"/><circle cx="200.0" cy="1095.8" r="1.3"/><circle cx="182.0" cy="1108.8" r="1.3"/><circle cx="185.0" cy="1084.7" r="1.3"/><circle cx="180.1" cy="1106.5" r="1.3"/><circle cx="181.9" cy="1093.1" r="1.3"/><circle cx="195.5" cy="1099.4" r="1.3"/><circle cx="194.9" cy="1127.8" r="1.3"/><circle cx="198.2" cy="1104.2" r="1.3"/><circle cx="177.9" cy="1092.3" r="1.3"/><circle cx="181.7" cy="1103.9" r="1.3"/><circle cx="176.9" cy="1108.9" r="1.3"/><circle cx="178.1" cy="1081.7" r="1.3"/><circle cx="195.6" cy="1081.5" r="1.3"/><circle cx="178.5" cy="1095.9" r="1.3"/><circle cx="171.4" cy="1085.4" r="1.3"/><circle cx="192.9" cy="1091.8" r="1.3"/><circle cx="193.9" cy="1084.3" r="1.3"/><circle cx="191.9" cy="1095.4" r="1.3"/><circle cx="196.6" cy="1106.0" r="1.3"/><circle cx="175.4" cy="1094.9" r="1.3"/><circle cx="191.7" cy="1097.4" r="1.3"/><circle cx="180.1" cy="1107.9" r="1.3"/><circle cx="185.6" cy="1094.8" r="1.3"/><circle cx="189.6" cy="1097.1" r="1.3"/><circle cx="178.8" cy="1093.8" r="1.3"/><circle cx="175.8" cy="1095.2" r="1.3"/><circle cx="178.2" cy="1102.6" r="1.3"/><circle cx="193.7" cy="1108.4" r="1.3"/><circle cx="191.5" cy="1114.4" r="1.3"/><circle cx="184.5" cy="1109.5" r="1.3"/><circle cx="194.9" cy="1123.8" r="1.3"/><circle cx="198.2" cy="1082.5" r="1.3"/><circle cx="182.9" cy="1117.5" r="1.3"/><circle cx="197.2" cy="1080.4" r="1.3"/><circle cx="175.0" cy="1084.1" r="1.3"/><circle cx="184.3" cy="1081.7" r="1.3"/><circle cx="199.1" cy="1086.3" r="1.3"/><circle cx="180.0" cy="1104.1" r="1.3"/><circle cx="173.3" cy="1092.5" r="1.3"/><circle cx="188.5" cy="1110.9" r="1.3"/><circle cx="201.2" cy="1095.9" r="1.3"/><circle cx="191.7" cy="1122.9" r="1.3"/><circle cx="197.8" cy="1093.4" r="1.3"/><circle cx="183.6" cy="1093.8" r="1.3"/><circle cx="189.2" cy="1096.5" r="1.3"/><circle cx="195.5" cy="1122.7" r="1.3"/><circle cx="189.3" cy="1115.4" r="1.3"/><circle cx="188.3" cy="1083.5" r="1.3"/><circle cx="189.8" cy="1108.0" r="1.3"/><circle cx="173.9" cy="1091.6" r="1.3"/><circle cx="189.7" cy="1081.1" r="1.3"/><circle cx="177.9" cy="1097.3" r="1.3"/><circle cx="189.2" cy="1082.8" r="1.3"/><circle cx="201.1" cy="1103.4" r="1.3"/><circle cx="187.3" cy="1098.5" r="1.3"/><circle cx="179.5" cy="1080.6" r="1.3"/><circle cx="179.4" cy="1094.0" r="1.3"/><circle cx="179.4" cy="1086.3" r="1.3"/><circle cx="180.4" cy="1120.9" r="1.3"/><circle cx="200.7" cy="1090.0" r="1.3"/><circle cx="173.3" cy="1080.7" r="1.3"/><circle cx="197.7" cy="1094.9" r="1.3"/><circle cx="184.1" cy="1093.6" r="1.3"/><circle cx="196.6" cy="1117.8" r="1.3"/><circle cx="193.3" cy="1088.0" r="1.3"/><circle cx="187.8" cy="1110.8" r="1.3"/><circle cx="200.3" cy="1106.0" r="1.3"/><circle cx="200.8" cy="1099.6" r="1.3"/><circle cx="189.4" cy="1093.2" r="1.3"/><circle cx="176.0" cy="1111.0" r="1.3"/><circle cx="197.4" cy="1127.0" r="1.3"/><circle cx="195.1" cy="1084.6" r="1.3"/><circle cx="199.6" cy="1086.5" r="1.3"/><circle cx="194.0" cy="1083.1" r="1.3"/><circle cx="194.9" cy="1105.3" r="1.3"/><circle cx="198.8" cy="1114.6" r="1.3"/><circle cx="191.3" cy="1115.8" r="1.3"/><circle cx="193.2" cy="1109.5" r="1.3"/><circle cx="184.2" cy="1094.1" r="1.3"/><circle cx="178.4" cy="1089.7" r="1.3"/><circle cx="186.5" cy="1083.2" r="1.3"/><circle cx="175.8" cy="1091.9" r="1.3"/><circle cx="170.4" cy="1081.5" r="1.3"/><circle cx="184.4" cy="1085.2" r="1.3"/><circle cx="187.2" cy="1124.6" r="1.3"/><circle cx="190.6" cy="1091.9" r="1.3"/><circle cx="195.4" cy="1117.1" r="1.3"/><circle cx="198.2" cy="1083.4" r="1.3"/><circle cx="177.9" cy="1084.2" r="1.3"/><circle cx="187.5" cy="1113.6" r="1.3"/><circle cx="184.5" cy="1082.9" r="1.3"/><circle cx="190.3" cy="1091.4" r="1.3"/><circle cx="182.6" cy="1094.4" r="1.3"/><circle cx="180.2" cy="1082.5" r="1.3"/><circle cx="199.4" cy="1090.6" r="1.3"/><circle cx="169.6" cy="1084.3" r="1.3"/><circle cx="187.1" cy="1104.3" r="1.3"/><circle cx="188.5" cy="1087.0" r="1.3"/><circle cx="195.2" cy="1087.0" r="1.3"/><circle cx="194.4" cy="1091.0" r="1.3"/><circle cx="198.7" cy="1093.9" r="1.3"/><circle cx="199.8" cy="1105.8" r="1.3"/><circle cx="185.8" cy="1083.3" r="1.3"/><circle cx="166.3" cy="1118.9" r="1.3"/><circle cx="168.4" cy="1115.7" r="1.3"/><circle cx="173.3" cy="1121.0" r="1.3"/><circle cx="175.8" cy="1123.9" r="1.3"/><circle cx="178.7" cy="1139.5" r="1.3"/><circle cx="186.9" cy="1138.7" r="1.3"/><circle cx="191.0" cy="1134.6" r="1.3"/><circle cx="189.3" cy="1107.4" r="1.3"/><circle cx="183.6" cy="1109.1" r="1.3"/><circle cx="177.8" cy="1105.0" r="1.3"/><circle cx="170.4" cy="1111.5" r="1.3"/><circle cx="164.7" cy="1107.4" r="1.3"/></g>
<g fill="#dc3030"><circle cx="459.6" cy="901.5" r="1.55"/><circle cx="339.3" cy="921.0" r="1.55"/><circle cx="401.3" cy="922.5" r="1.55"/><circle cx="375.0" cy="930.1" r="1.55"/><circle cx="330.4" cy="936.8" r="1.55"/><circle cx="346.3" cy="938.2" r="1.55"/><circle cx="405.4" cy="936.5" r="1.55"/><circle cx="364.6" cy="939.4" r="1.55"/><circle cx="364.6" cy="944.3" r="1.55"/><circle cx="378.2" cy="943.8" r="1.55"/><circle cx="378.2" cy="946.8" r="1.55"/><circle cx="388.8" cy="948.8" r="1.55"/><circle cx="397.4" cy="949.4" r="1.55"/><circle cx="402.2" cy="951.2" r="1.55"/><circle cx="401.3" cy="956.8" r="1.55"/><circle cx="432.4" cy="953.4" r="1.55"/><circle cx="426.0" cy="958.5" r="1.55"/><circle cx="421.3" cy="963.4" r="1.55"/><circle cx="434.6" cy="962.5" r="1.55"/><circle cx="307.2" cy="947.8" r="1.55"/><circle cx="320.4" cy="949.4" r="1.55"/><circle cx="329.7" cy="949.0" r="1.55"/><circle cx="309.1" cy="952.9" r="1.55"/><circle cx="310.3" cy="959.3" r="1.55"/><circle cx="304.0" cy="960.3" r="1.55"/><circle cx="302.9" cy="961.2" r="1.55"/><circle cx="315.0" cy="964.7" r="1.55"/><circle cx="315.7" cy="967.4" r="1.55"/><circle cx="298.1" cy="966.9" r="1.55"/><circle cx="359.6" cy="960.7" r="1.55"/><circle cx="360.6" cy="968.8" r="1.55"/><circle cx="360.1" cy="972.1" r="1.55"/><circle cx="346.3" cy="968.1" r="1.55"/><circle cx="341.5" cy="974.4" r="1.55"/><circle cx="331.9" cy="974.7" r="1.55"/><circle cx="331.2" cy="980.9" r="1.55"/><circle cx="332.6" cy="980.6" r="1.55"/><circle cx="311.9" cy="972.9" r="1.55"/><circle cx="316.0" cy="977.2" r="1.55"/><circle cx="306.6" cy="976.9" r="1.55"/><circle cx="274.6" cy="969.1" r="1.55"/><circle cx="281.9" cy="971.0" r="1.55"/><circle cx="285.3" cy="974.4" r="1.55"/><circle cx="285.3" cy="977.6" r="1.55"/><circle cx="265.7" cy="950.0" r="1.55"/><circle cx="252.5" cy="952.6" r="1.55"/><circle cx="214.7" cy="968.8" r="1.55"/><circle cx="254.0" cy="974.0" r="1.55"/><circle cx="240.0" cy="976.6" r="1.55"/><circle cx="241.2" cy="979.1" r="1.55"/><circle cx="267.9" cy="980.3" r="1.55"/><circle cx="273.5" cy="982.8" r="1.55"/><circle cx="264.0" cy="984.7" r="1.55"/><circle cx="251.8" cy="982.8" r="1.55"/><circle cx="253.2" cy="983.5" r="1.55"/><circle cx="253.2" cy="986.5" r="1.55"/><circle cx="254.7" cy="990.1" r="1.55"/><circle cx="241.2" cy="985.7" r="1.55"/><circle cx="241.8" cy="987.2" r="1.55"/><circle cx="217.9" cy="986.0" r="1.55"/><circle cx="226.0" cy="983.5" r="1.55"/><circle cx="229.0" cy="983.2" r="1.55"/><circle cx="208.8" cy="987.9" r="1.55"/><circle cx="297.4" cy="982.4" r="1.55"/><circle cx="279.4" cy="990.1" r="1.55"/><circle cx="285.3" cy="992.6" r="1.55"/><circle cx="290.4" cy="994.1" r="1.55"/><circle cx="289.3" cy="998.2" r="1.55"/><circle cx="296.6" cy="991.2" r="1.55"/><circle cx="304.0" cy="988.4" r="1.55"/><circle cx="307.2" cy="988.4" r="1.55"/><circle cx="314.3" cy="990.4" r="1.55"/><circle cx="320.4" cy="990.1" r="1.55"/><circle cx="309.6" cy="995.3" r="1.55"/><circle cx="299.6" cy="999.7" r="1.55"/><circle cx="364.6" cy="982.4" r="1.55"/><circle cx="364.6" cy="986.0" r="1.55"/><circle cx="344.7" cy="995.0" r="1.55"/><circle cx="329.7" cy="1001.5" r="1.55"/><circle cx="329.7" cy="1005.3" r="1.55"/><circle cx="273.8" cy="1007.8" r="1.55"/><circle cx="284.9" cy="1008.8" r="1.55"/><circle cx="290.7" cy="1012.9" r="1.55"/><circle cx="292.2" cy="1014.0" r="1.55"/><circle cx="305.4" cy="1011.0" r="1.55"/><circle cx="306.2" cy="1013.7" r="1.55"/><circle cx="254.7" cy="998.2" r="1.55"/><circle cx="242.9" cy="992.4" r="1.55"/><circle cx="245.9" cy="992.1" r="1.55"/><circle cx="215.7" cy="992.4" r="1.55"/><circle cx="216.2" cy="997.5" r="1.55"/><circle cx="226.8" cy="994.1" r="1.55"/><circle cx="232.6" cy="995.6" r="1.55"/><circle cx="262.1" cy="1007.8" r="1.55"/><circle cx="259.1" cy="1021.3" r="1.55"/><circle cx="612.1" cy="879.3" r="1.55"/><circle cx="612.1" cy="883.2" r="1.55"/><circle cx="624.6" cy="901.5" r="1.55"/><circle cx="612.1" cy="912.4" r="1.55"/><circle cx="478.0" cy="933.8" r="1.55"/><circle cx="498.3" cy="924.8" r="1.55"/><circle cx="552.7" cy="914.3" r="1.55"/><circle cx="532.1" cy="936.9" r="1.55"/><circle cx="516.9" cy="946.2" r="1.55"/><circle cx="519.6" cy="956.3" r="1.55"/><circle cx="510.3" cy="964.8" r="1.55"/><circle cx="674.3" cy="956.3" r="1.55"/><circle cx="218.3" cy="995.3" r="1.55"/><circle cx="227.0" cy="1016.1" r="1.55"/><circle cx="209.6" cy="1001.6" r="1.55"/><circle cx="218.3" cy="1009.0" r="1.55"/><circle cx="209.1" cy="1013.3" r="1.55"/><circle cx="231.3" cy="998.0" r="1.55"/><circle cx="222.4" cy="1007.4" r="1.55"/><circle cx="209.6" cy="992.7" r="1.55"/><circle cx="222.6" cy="1006.1" r="1.55"/><circle cx="209.9" cy="1001.1" r="1.55"/><circle cx="232.1" cy="1012.3" r="1.55"/><circle cx="231.4" cy="1012.3" r="1.55"/><circle cx="216.8" cy="1014.9" r="1.55"/><circle cx="207.8" cy="1013.3" r="1.55"/><circle cx="211.6" cy="1014.9" r="1.55"/><circle cx="218.0" cy="1010.9" r="1.55"/><circle cx="235.8" cy="1007.3" r="1.55"/><circle cx="217.6" cy="1007.8" r="1.55"/><circle cx="204.5" cy="990.4" r="1.55"/><circle cx="219.2" cy="1005.4" r="1.55"/><circle cx="218.1" cy="1010.3" r="1.55"/><circle cx="206.4" cy="1014.2" r="1.55"/><circle cx="215.7" cy="1013.5" r="1.55"/><circle cx="204.2" cy="1007.4" r="1.55"/><circle cx="205.3" cy="1001.3" r="1.55"/><circle cx="223.6" cy="992.1" r="1.55"/><circle cx="246.7" cy="998.0" r="1.55"/><circle cx="220.5" cy="1011.7" r="1.55"/><circle cx="218.4" cy="1011.0" r="1.55"/><circle cx="227.2" cy="1003.8" r="1.55"/><circle cx="224.6" cy="1014.5" r="1.55"/><circle cx="219.2" cy="1003.4" r="1.55"/><circle cx="226.0" cy="1005.2" r="1.55"/><circle cx="230.5" cy="1012.7" r="1.55"/><circle cx="220.4" cy="1003.9" r="1.55"/><circle cx="220.9" cy="1012.1" r="1.55"/><circle cx="228.2" cy="1017.1" r="1.55"/><circle cx="204.5" cy="1013.3" r="1.55"/><circle cx="204.9" cy="1010.5" r="1.55"/><circle cx="227.6" cy="1011.6" r="1.55"/><circle cx="222.3" cy="1002.3" r="1.55"/><circle cx="234.8" cy="1015.6" r="1.55"/><circle cx="237.7" cy="1014.2" r="1.55"/><circle cx="205.3" cy="996.4" r="1.55"/><circle cx="224.6" cy="1003.8" r="1.55"/><circle cx="207.5" cy="1005.3" r="1.55"/><circle cx="205.7" cy="999.5" r="1.55"/><circle cx="204.2" cy="1016.0" r="1.55"/><circle cx="208.8" cy="999.0" r="1.55"/><circle cx="222.7" cy="1011.4" r="1.55"/><circle cx="227.1" cy="1002.1" r="1.55"/><circle cx="222.7" cy="1011.6" r="1.55"/><circle cx="228.7" cy="1008.1" r="1.55"/><circle cx="235.4" cy="1005.2" r="1.55"/><circle cx="207.2" cy="1007.4" r="1.55"/><circle cx="203.6" cy="1008.6" r="1.55"/><circle cx="211.7" cy="1005.1" r="1.55"/><circle cx="227.4" cy="999.8" r="1.55"/><circle cx="227.1" cy="990.4" r="1.55"/><circle cx="209.4" cy="1010.1" r="1.55"/><circle cx="222.3" cy="1005.1" r="1.55"/><circle cx="222.4" cy="1005.0" r="1.55"/><circle cx="221.6" cy="995.1" r="1.55"/><circle cx="215.9" cy="1001.9" r="1.55"/><circle cx="255.5" cy="1011.1" r="1.55"/><circle cx="232.0" cy="999.5" r="1.55"/><circle cx="212.0" cy="1016.5" r="1.55"/><circle cx="215.7" cy="1003.6" r="1.55"/><circle cx="211.6" cy="1014.1" r="1.55"/><circle cx="235.1" cy="1012.0" r="1.55"/><circle cx="243.6" cy="1002.4" r="1.55"/><circle cx="206.4" cy="1016.0" r="1.55"/><circle cx="239.9" cy="1009.4" r="1.55"/><circle cx="218.9" cy="1014.3" r="1.55"/><circle cx="250.3" cy="1003.0" r="1.55"/><circle cx="220.4" cy="997.7" r="1.55"/><circle cx="211.1" cy="1011.9" r="1.55"/><circle cx="212.6" cy="1009.5" r="1.55"/><circle cx="202.8" cy="1018.1" r="1.55"/><circle cx="207.8" cy="996.7" r="1.55"/><circle cx="203.4" cy="1018.6" r="1.55"/><circle cx="205.3" cy="1006.7" r="1.55"/><circle cx="227.6" cy="1001.2" r="1.55"/><circle cx="239.8" cy="1002.9" r="1.55"/><circle cx="221.2" cy="1009.6" r="1.55"/><circle cx="221.7" cy="1006.2" r="1.55"/><circle cx="214.6" cy="996.1" r="1.55"/><circle cx="204.3" cy="1013.6" r="1.55"/><circle cx="207.5" cy="1009.0" r="1.55"/><circle cx="228.3" cy="1012.7" r="1.55"/><circle cx="238.3" cy="1017.1" r="1.55"/><circle cx="228.4" cy="1015.6" r="1.55"/><circle cx="206.4" cy="1010.3" r="1.55"/><circle cx="207.1" cy="1017.4" r="1.55"/><circle cx="217.3" cy="1015.8" r="1.55"/><circle cx="204.8" cy="1005.8" r="1.55"/><circle cx="230.1" cy="1009.3" r="1.55"/><circle cx="224.2" cy="1000.1" r="1.55"/><circle cx="204.1" cy="1013.5" r="1.55"/><circle cx="217.3" cy="1015.1" r="1.55"/><circle cx="214.2" cy="988.4" r="1.55"/><circle cx="225.1" cy="989.9" r="1.55"/><circle cx="205.3" cy="1002.9" r="1.55"/><circle cx="227.0" cy="1000.2" r="1.55"/><circle cx="210.0" cy="1006.1" r="1.55"/><circle cx="216.8" cy="1004.4" r="1.55"/><circle cx="229.5" cy="1015.3" r="1.55"/><circle cx="225.5" cy="1002.4" r="1.55"/><circle cx="216.9" cy="1010.1" r="1.55"/><circle cx="235.0" cy="1008.9" r="1.55"/><circle cx="208.4" cy="1004.3" r="1.55"/><circle cx="220.3" cy="1017.2" r="1.55"/><circle cx="228.0" cy="1009.7" r="1.55"/><circle cx="220.8" cy="1005.0" r="1.55"/><circle cx="204.2" cy="1013.6" r="1.55"/><circle cx="253.8" cy="1000.0" r="1.55"/><circle cx="240.9" cy="1013.1" r="1.55"/><circle cx="241.3" cy="1013.7" r="1.55"/><circle cx="206.4" cy="993.1" r="1.55"/><circle cx="204.9" cy="999.4" r="1.55"/><circle cx="225.3" cy="1009.6" r="1.55"/><circle cx="216.1" cy="1012.6" r="1.55"/><circle cx="224.0" cy="1007.4" r="1.55"/><circle cx="233.8" cy="1010.0" r="1.55"/><circle cx="218.2" cy="1000.6" r="1.55"/><circle cx="246.8" cy="1011.8" r="1.55"/><circle cx="213.2" cy="1003.9" r="1.55"/><circle cx="230.2" cy="1007.4" r="1.55"/><circle cx="225.1" cy="1005.3" r="1.55"/><circle cx="218.0" cy="1013.8" r="1.55"/><circle cx="218.4" cy="993.8" r="1.55"/><circle cx="212.2" cy="1004.5" r="1.55"/><circle cx="229.2" cy="999.0" r="1.55"/><circle cx="216.0" cy="994.2" r="1.55"/><circle cx="226.8" cy="1010.6" r="1.55"/><circle cx="219.6" cy="995.9" r="1.55"/><circle cx="229.2" cy="1012.0" r="1.55"/><circle cx="221.3" cy="1015.5" r="1.55"/><circle cx="214.4" cy="1010.8" r="1.55"/><circle cx="243.9" cy="1014.1" r="1.55"/><circle cx="251.1" cy="1016.5" r="1.55"/><circle cx="222.3" cy="998.2" r="1.55"/><circle cx="212.7" cy="1016.8" r="1.55"/><circle cx="246.2" cy="1017.1" r="1.55"/><circle cx="208.6" cy="1012.2" r="1.55"/><circle cx="231.5" cy="1009.6" r="1.55"/><circle cx="207.8" cy="1000.3" r="1.55"/><circle cx="207.4" cy="997.7" r="1.55"/><circle cx="210.5" cy="1006.6" r="1.55"/><circle cx="250.6" cy="997.1" r="1.55"/><circle cx="257.2" cy="1007.9" r="1.55"/><circle cx="213.2" cy="995.4" r="1.55"/><circle cx="220.6" cy="1005.9" r="1.55"/><circle cx="228.4" cy="1014.7" r="1.55"/><circle cx="213.9" cy="1014.7" r="1.55"/><circle cx="206.1" cy="1013.9" r="1.55"/><circle cx="203.9" cy="1000.6" r="1.55"/><circle cx="229.3" cy="1006.6" r="1.55"/><circle cx="219.9" cy="1006.7" r="1.55"/><circle cx="218.9" cy="1001.2" r="1.55"/><circle cx="219.6" cy="1009.6" r="1.55"/><circle cx="211.2" cy="1011.4" r="1.55"/><circle cx="237.6" cy="1005.3" r="1.55"/><circle cx="208.0" cy="999.9" r="1.55"/><circle cx="229.3" cy="1000.4" r="1.55"/><circle cx="249.4" cy="1002.4" r="1.55"/><circle cx="209.6" cy="1014.6" r="1.55"/><circle cx="217.8" cy="1005.2" r="1.55"/><circle cx="202.2" cy="1011.9" r="1.55"/><circle cx="247.9" cy="1012.8" r="1.55"/><circle cx="223.3" cy="1003.9" r="1.55"/><circle cx="220.4" cy="1004.0" r="1.55"/><circle cx="220.1" cy="1014.5" r="1.55"/><circle cx="223.4" cy="1015.1" r="1.55"/><circle cx="236.9" cy="1008.6" r="1.55"/><circle cx="220.8" cy="1009.1" r="1.55"/><circle cx="238.8" cy="1014.1" r="1.55"/><circle cx="208.4" cy="1016.5" r="1.55"/><circle cx="207.1" cy="1010.5" r="1.55"/><circle cx="206.2" cy="1014.0" r="1.55"/><circle cx="202.7" cy="1012.2" r="1.55"/><circle cx="203.3" cy="1014.0" r="1.55"/><circle cx="222.1" cy="1013.1" r="1.55"/><circle cx="231.2" cy="1016.4" r="1.55"/><circle cx="245.8" cy="1013.0" r="1.55"/><circle cx="207.3" cy="1011.5" r="1.55"/><circle cx="215.5" cy="1017.7" r="1.55"/><circle cx="254.1" cy="1000.8" r="1.55"/><circle cx="239.5" cy="1009.8" r="1.55"/><circle cx="216.6" cy="1013.8" r="1.55"/><circle cx="235.9" cy="1013.3" r="1.55"/><circle cx="205.2" cy="1008.2" r="1.55"/><circle cx="221.5" cy="1012.5" r="1.55"/><circle cx="221.7" cy="1015.6" r="1.55"/><circle cx="210.5" cy="1019.7" r="1.55"/><circle cx="249.9" cy="1009.8" r="1.55"/><circle cx="229.9" cy="1009.1" r="1.55"/><circle cx="222.3" cy="1007.3" r="1.55"/><circle cx="231.4" cy="1007.8" r="1.55"/><circle cx="211.2" cy="1009.3" r="1.55"/><circle cx="228.4" cy="1013.1" r="1.55"/><circle cx="203.8" cy="999.7" r="1.55"/><circle cx="213.4" cy="998.8" r="1.55"/><circle cx="226.8" cy="1005.2" r="1.55"/><circle cx="206.7" cy="1016.2" r="1.55"/><circle cx="207.5" cy="1012.1" r="1.55"/><circle cx="232.3" cy="1005.3" r="1.55"/><circle cx="223.9" cy="997.1" r="1.55"/><circle cx="218.8" cy="1005.5" r="1.55"/><circle cx="220.5" cy="1012.0" r="1.55"/><circle cx="209.9" cy="1015.7" r="1.55"/><circle cx="229.8" cy="997.8" r="1.55"/><circle cx="231.9" cy="1006.0" r="1.55"/><circle cx="255.5" cy="1005.4" r="1.55"/><circle cx="203.4" cy="1017.8" r="1.55"/><circle cx="217.3" cy="998.0" r="1.55"/><circle cx="210.8" cy="1016.3" r="1.55"/><circle cx="261.1" cy="988.4" r="1.55"/><circle cx="216.9" cy="994.6" r="1.55"/><circle cx="210.5" cy="1012.5" r="1.55"/><circle cx="210.5" cy="1018.9" r="1.55"/><circle cx="234.5" cy="1013.4" r="1.55"/><circle cx="216.9" cy="1007.1" r="1.55"/><circle cx="225.7" cy="1006.2" r="1.55"/><circle cx="231.3" cy="1001.1" r="1.55"/><circle cx="208.0" cy="1013.4" r="1.55"/><circle cx="214.6" cy="1002.4" r="1.55"/><circle cx="241.4" cy="1014.6" r="1.55"/><circle cx="240.5" cy="1007.4" r="1.55"/><circle cx="220.6" cy="1007.2" r="1.55"/><circle cx="205.1" cy="1018.7" r="1.55"/><circle cx="220.9" cy="993.4" r="1.55"/><circle cx="252.6" cy="1009.5" r="1.55"/><circle cx="206.1" cy="1000.5" r="1.55"/><circle cx="203.1" cy="997.6" r="1.55"/><circle cx="213.4" cy="993.5" r="1.55"/><circle cx="231.9" cy="997.6" r="1.55"/><circle cx="231.8" cy="999.0" r="1.55"/><circle cx="207.8" cy="999.4" r="1.55"/><circle cx="209.7" cy="1014.2" r="1.55"/><circle cx="216.6" cy="1010.0" r="1.55"/><circle cx="208.3" cy="1002.9" r="1.55"/><circle cx="231.7" cy="1012.0" r="1.55"/><circle cx="209.3" cy="1013.2" r="1.55"/><circle cx="247.6" cy="1007.3" r="1.55"/><circle cx="209.5" cy="1011.9" r="1.55"/><circle cx="244.8" cy="1006.5" r="1.55"/><circle cx="204.4" cy="999.0" r="1.55"/><circle cx="207.9" cy="1011.1" r="1.55"/><circle cx="204.4" cy="1008.1" r="1.55"/><circle cx="204.9" cy="1009.4" r="1.55"/><circle cx="224.9" cy="1002.4" r="1.55"/><circle cx="220.4" cy="1006.8" r="1.55"/><circle cx="213.6" cy="1009.5" r="1.55"/><circle cx="232.9" cy="1008.2" r="1.55"/><circle cx="230.1" cy="995.9" r="1.55"/><circle cx="205.7" cy="1017.2" r="1.55"/><circle cx="235.5" cy="1012.4" r="1.55"/><circle cx="211.6" cy="993.0" r="1.55"/><circle cx="237.2" cy="1006.7" r="1.55"/><circle cx="206.3" cy="1007.5" r="1.55"/><circle cx="205.8" cy="1011.7" r="1.55"/><circle cx="205.0" cy="1001.3" r="1.55"/><circle cx="230.3" cy="1011.4" r="1.55"/><circle cx="203.9" cy="1011.1" r="1.55"/><circle cx="206.3" cy="1009.8" r="1.55"/><circle cx="232.7" cy="1009.2" r="1.55"/><circle cx="206.8" cy="990.8" r="1.55"/><circle cx="221.0" cy="998.5" r="1.55"/><circle cx="224.6" cy="1012.0" r="1.55"/><circle cx="235.3" cy="1016.2" r="1.55"/><circle cx="213.7" cy="1003.3" r="1.55"/><circle cx="210.2" cy="999.7" r="1.55"/><circle cx="214.2" cy="996.6" r="1.55"/><circle cx="234.8" cy="1003.6" r="1.55"/><circle cx="219.9" cy="1010.6" r="1.55"/><circle cx="212.7" cy="1002.2" r="1.55"/><circle cx="225.4" cy="1006.0" r="1.55"/><circle cx="213.6" cy="1003.2" r="1.55"/><circle cx="215.8" cy="1013.9" r="1.55"/><circle cx="203.1" cy="1010.0" r="1.55"/><circle cx="207.6" cy="1007.3" r="1.55"/><circle cx="205.9" cy="1012.5" r="1.55"/><circle cx="236.6" cy="1011.5" r="1.55"/><circle cx="224.0" cy="1014.9" r="1.55"/><circle cx="234.6" cy="1009.5" r="1.55"/><circle cx="210.9" cy="1000.4" r="1.55"/><circle cx="213.7" cy="1012.7" r="1.55"/><circle cx="215.9" cy="1014.0" r="1.55"/><circle cx="212.3" cy="1012.7" r="1.55"/><circle cx="212.8" cy="1005.3" r="1.55"/><circle cx="247.4" cy="1012.4" r="1.55"/><circle cx="215.1" cy="1001.6" r="1.55"/><circle cx="221.5" cy="1009.8" r="1.55"/><circle cx="207.7" cy="1011.8" r="1.55"/><circle cx="206.2" cy="991.3" r="1.55"/><circle cx="227.3" cy="996.1" r="1.55"/><circle cx="251.6" cy="1005.3" r="1.55"/><circle cx="202.8" cy="1016.4" r="1.55"/><circle cx="210.3" cy="1003.1" r="1.55"/><circle cx="204.8" cy="1009.8" r="1.55"/><circle cx="256.2" cy="995.6" r="1.55"/><circle cx="202.1" cy="1016.8" r="1.55"/><circle cx="243.6" cy="1017.9" r="1.55"/><circle cx="224.3" cy="1009.1" r="1.55"/><circle cx="207.7" cy="1013.4" r="1.55"/><circle cx="230.2" cy="992.8" r="1.55"/><circle cx="232.4" cy="1007.5" r="1.55"/><circle cx="238.9" cy="1000.6" r="1.55"/><circle cx="217.8" cy="998.4" r="1.55"/><circle cx="211.2" cy="1013.6" r="1.55"/><circle cx="216.8" cy="1007.7" r="1.55"/><circle cx="237.2" cy="1006.8" r="1.55"/><circle cx="202.2" cy="1001.8" r="1.55"/><circle cx="224.0" cy="998.2" r="1.55"/><circle cx="225.6" cy="1001.2" r="1.55"/><circle cx="220.1" cy="1005.1" r="1.55"/><circle cx="220.5" cy="992.2" r="1.55"/><circle cx="205.3" cy="1006.7" r="1.55"/><circle cx="234.8" cy="1013.7" r="1.55"/><circle cx="202.1" cy="1010.1" r="1.55"/><circle cx="246.1" cy="1010.8" r="1.55"/><circle cx="229.4" cy="1010.1" r="1.55"/><circle cx="233.4" cy="1007.6" r="1.55"/><circle cx="206.8" cy="1009.7" r="1.55"/><circle cx="234.0" cy="1010.0" r="1.55"/><circle cx="221.8" cy="1010.8" r="1.55"/><circle cx="229.6" cy="998.3" r="1.55"/><circle cx="205.0" cy="1009.6" r="1.55"/><circle cx="210.6" cy="1007.2" r="1.55"/><circle cx="208.0" cy="1013.2" r="1.55"/><circle cx="219.4" cy="998.8" r="1.55"/><circle cx="207.8" cy="1004.0" r="1.55"/><circle cx="224.8" cy="989.7" r="1.55"/><circle cx="209.2" cy="1015.1" r="1.55"/><circle cx="223.9" cy="1015.4" r="1.55"/><circle cx="205.1" cy="999.9" r="1.55"/><circle cx="247.7" cy="1008.7" r="1.55"/><circle cx="226.7" cy="1003.4" r="1.55"/><circle cx="215.8" cy="1009.2" r="1.55"/><circle cx="232.3" cy="1013.1" r="1.55"/><circle cx="207.7" cy="1009.4" r="1.55"/><circle cx="213.1" cy="996.9" r="1.55"/><circle cx="217.5" cy="1001.1" r="1.55"/><circle cx="242.2" cy="1004.7" r="1.55"/><circle cx="217.2" cy="999.2" r="1.55"/><circle cx="221.2" cy="1010.2" r="1.55"/><circle cx="205.6" cy="1005.0" r="1.55"/><circle cx="217.7" cy="1016.4" r="1.55"/><circle cx="223.3" cy="1013.1" r="1.55"/><circle cx="210.1" cy="1009.7" r="1.55"/><circle cx="203.0" cy="1013.8" r="1.55"/><circle cx="213.7" cy="1009.1" r="1.55"/><circle cx="223.3" cy="1013.0" r="1.55"/><circle cx="227.7" cy="1001.7" r="1.55"/><circle cx="247.2" cy="1009.3" r="1.55"/><circle cx="215.3" cy="1012.9" r="1.55"/><circle cx="214.3" cy="996.4" r="1.55"/><circle cx="223.8" cy="1010.1" r="1.55"/><circle cx="227.0" cy="1013.8" r="1.55"/><circle cx="226.6" cy="1006.6" r="1.55"/><circle cx="215.3" cy="1015.7" r="1.55"/><circle cx="223.1" cy="1015.0" r="1.55"/><circle cx="205.2" cy="1012.7" r="1.55"/><circle cx="217.1" cy="1009.2" r="1.55"/><circle cx="248.2" cy="1012.0" r="1.55"/><circle cx="221.2" cy="1001.7" r="1.55"/><circle cx="241.3" cy="1014.5" r="1.55"/><circle cx="202.6" cy="1016.0" r="1.55"/><circle cx="203.2" cy="1001.4" r="1.55"/><circle cx="237.1" cy="1010.1" r="1.55"/><circle cx="215.5" cy="1008.4" r="1.55"/><circle cx="218.8" cy="1013.4" r="1.55"/><circle cx="203.9" cy="1001.0" r="1.55"/><circle cx="235.3" cy="1014.5" r="1.55"/><circle cx="230.7" cy="1011.6" r="1.55"/><circle cx="217.9" cy="1010.4" r="1.55"/><circle cx="213.2" cy="995.8" r="1.55"/><circle cx="257.8" cy="1013.5" r="1.55"/><circle cx="206.0" cy="1001.3" r="1.55"/><circle cx="255.0" cy="1008.9" r="1.55"/><circle cx="239.0" cy="1004.1" r="1.55"/><circle cx="214.3" cy="1011.1" r="1.55"/><circle cx="203.3" cy="1011.8" r="1.55"/><circle cx="213.3" cy="1007.0" r="1.55"/><circle cx="205.4" cy="997.1" r="1.55"/><circle cx="223.0" cy="1008.3" r="1.55"/><circle cx="218.4" cy="1007.2" r="1.55"/><circle cx="202.8" cy="999.8" r="1.55"/><circle cx="203.4" cy="999.4" r="1.55"/><circle cx="227.9" cy="1011.0" r="1.55"/><circle cx="221.7" cy="996.1" r="1.55"/><circle cx="246.8" cy="996.7" r="1.55"/><circle cx="211.6" cy="996.9" r="1.55"/><circle cx="217.8" cy="1006.7" r="1.55"/><circle cx="213.8" cy="991.1" r="1.55"/><circle cx="236.0" cy="1010.3" r="1.55"/><circle cx="252.4" cy="1010.4" r="1.55"/><circle cx="207.0" cy="1006.0" r="1.55"/><circle cx="206.1" cy="1009.3" r="1.55"/><circle cx="209.1" cy="999.5" r="1.55"/><circle cx="235.7" cy="1000.1" r="1.55"/><circle cx="218.7" cy="1010.6" r="1.55"/><circle cx="241.4" cy="988.0" r="1.55"/><circle cx="202.8" cy="1011.5" r="1.55"/><circle cx="213.3" cy="1012.4" r="1.55"/></g>
<g fill="#62b54a"><circle cx="260.2" cy="1070.4" r="1.5"/><circle cx="257.3" cy="1073.7" r="1.5"/><circle cx="256.9" cy="1075.4" r="1.5"/><circle cx="254.9" cy="1082.4" r="1.5"/><circle cx="240.5" cy="1089.8" r="1.5"/><circle cx="233.1" cy="1083.6" r="1.5"/><circle cx="231.4" cy="1088.1" r="1.5"/><circle cx="234.3" cy="1095.1" r="1.5"/><circle cx="240.9" cy="1106.2" r="1.5"/><circle cx="269.7" cy="1105.4" r="1.5"/><circle cx="259.4" cy="1109.7" r="1.5"/><circle cx="234.7" cy="1111.5" r="1.5"/><circle cx="229.4" cy="1110.9" r="1.5"/><circle cx="224.4" cy="1112.4" r="1.5"/><circle cx="233.1" cy="1119.6" r="1.5"/><circle cx="240.9" cy="1121.2" r="1.5"/><circle cx="245.4" cy="1120.8" r="1.5"/><circle cx="246.2" cy="1127.8" r="1.5"/><circle cx="219.9" cy="1120.6" r="1.5"/><circle cx="222.8" cy="1126.9" r="1.5"/><circle cx="214.1" cy="1128.0" r="1.5"/><circle cx="220.3" cy="1133.6" r="1.5"/><circle cx="212.1" cy="1138.3" r="1.5"/><circle cx="219.1" cy="1139.5" r="1.5"/><circle cx="231.4" cy="1142.6" r="1.5"/><circle cx="238.0" cy="1142.6" r="1.5"/><circle cx="247.5" cy="1143.5" r="1.5"/><circle cx="208.4" cy="1144.4" r="1.5"/><circle cx="214.6" cy="1149.0" r="1.5"/><circle cx="220.3" cy="1150.2" r="1.5"/><circle cx="210.4" cy="1157.6" r="1.5"/><circle cx="235.1" cy="1156.0" r="1.5"/><circle cx="212.9" cy="1182.3" r="1.5"/><circle cx="210.4" cy="1113.2" r="1.5"/><circle cx="207.6" cy="1118.5" r="1.5"/><circle cx="206.7" cy="1121.4" r="1.5"/><circle cx="204.3" cy="1133.8" r="1.5"/><circle cx="207.6" cy="1135.4" r="1.5"/><circle cx="204.3" cy="1108.3" r="1.5"/><circle cx="206.7" cy="1110.3" r="1.5"/><circle cx="210.9" cy="1104.6" r="1.5"/><circle cx="212.5" cy="1102.5" r="1.5"/><circle cx="211.7" cy="1105.8" r="1.5"/><circle cx="221.5" cy="1102.5" r="1.5"/><circle cx="224.0" cy="1105.8" r="1.5"/><circle cx="231.4" cy="1100.9" r="1.5"/><circle cx="231.4" cy="1105.0" r="1.5"/><circle cx="233.1" cy="1106.6" r="1.5"/><circle cx="228.9" cy="1096.7" r="1.5"/><circle cx="226.5" cy="1095.1" r="1.5"/><circle cx="220.7" cy="1095.1" r="1.5"/><circle cx="218.3" cy="1091.8" r="1.5"/><circle cx="214.1" cy="1096.3" r="1.5"/><circle cx="218.3" cy="1098.8" r="1.5"/><circle cx="215.8" cy="1087.3" r="1.5"/><circle cx="220.7" cy="1088.1" r="1.5"/><circle cx="223.2" cy="1091.0" r="1.5"/><circle cx="226.5" cy="1093.5" r="1.5"/><circle cx="224.8" cy="1081.5" r="1.5"/><circle cx="226.5" cy="1076.2" r="1.5"/><circle cx="232.2" cy="1069.6" r="1.5"/><circle cx="228.9" cy="1071.2" r="1.5"/><circle cx="220.7" cy="1081.1" r="1.5"/><circle cx="222.4" cy="1082.8" r="1.5"/><circle cx="218.3" cy="1079.5" r="1.5"/><circle cx="214.1" cy="1076.2" r="1.5"/><circle cx="215.8" cy="1073.7" r="1.5"/><circle cx="207.6" cy="1072.9" r="1.5"/><circle cx="207.6" cy="1077.0" r="1.5"/><circle cx="205.9" cy="1082.8" r="1.5"/><circle cx="209.2" cy="1086.1" r="1.5"/><circle cx="210.9" cy="1082.8" r="1.5"/><circle cx="203.5" cy="1089.3" r="1.5"/><circle cx="204.3" cy="1094.3" r="1.5"/><circle cx="205.9" cy="1100.0" r="1.5"/><circle cx="205.1" cy="1103.3" r="1.5"/><circle cx="203.5" cy="1079.5" r="1.5"/><circle cx="204.3" cy="1068.8" r="1.5"/><circle cx="207.6" cy="1067.1" r="1.5"/><circle cx="212.5" cy="1067.1" r="1.5"/><circle cx="215.8" cy="1068.0" r="1.5"/><circle cx="219.9" cy="1068.8" r="1.5"/><circle cx="222.4" cy="1071.2" r="1.5"/><circle cx="228.1" cy="1068.8" r="1.5"/><circle cx="225.7" cy="1067.1" r="1.5"/><circle cx="251.5" cy="1088.5" r="1.5"/><circle cx="253.5" cy="1096.0" r="1.5"/><circle cx="260.0" cy="1081.0" r="1.5"/><circle cx="268.5" cy="1090.0" r="1.5"/><circle cx="279.5" cy="1087.5" r="1.5"/><circle cx="207.2" cy="1079.8" r="1.5"/><circle cx="212.2" cy="1081.4" r="1.5"/><circle cx="213.8" cy="1113.8" r="1.5"/><circle cx="208.8" cy="1085.4" r="1.5"/><circle cx="204.1" cy="1073.8" r="1.5"/><circle cx="207.2" cy="1096.0" r="1.5"/><circle cx="213.2" cy="1068.8" r="1.5"/><circle cx="219.1" cy="1093.5" r="1.5"/><circle cx="208.6" cy="1073.5" r="1.5"/><circle cx="204.6" cy="1086.4" r="1.5"/><circle cx="207.2" cy="1088.4" r="1.5"/><circle cx="206.8" cy="1103.6" r="1.5"/><circle cx="212.0" cy="1083.9" r="1.5"/><circle cx="204.3" cy="1087.7" r="1.5"/><circle cx="203.6" cy="1088.4" r="1.5"/><circle cx="205.5" cy="1075.1" r="1.5"/><circle cx="207.3" cy="1093.7" r="1.5"/><circle cx="210.2" cy="1083.8" r="1.5"/><circle cx="213.4" cy="1074.3" r="1.5"/><circle cx="207.2" cy="1081.1" r="1.5"/><circle cx="205.7" cy="1097.6" r="1.5"/><circle cx="203.0" cy="1078.1" r="1.5"/><circle cx="213.8" cy="1081.9" r="1.5"/><circle cx="213.9" cy="1093.5" r="1.5"/><circle cx="218.0" cy="1092.0" r="1.5"/><circle cx="206.6" cy="1082.2" r="1.5"/><circle cx="220.3" cy="1108.4" r="1.5"/><circle cx="214.5" cy="1079.1" r="1.5"/><circle cx="208.1" cy="1082.7" r="1.5"/><circle cx="209.3" cy="1078.6" r="1.5"/><circle cx="204.0" cy="1098.9" r="1.5"/><circle cx="209.6" cy="1093.7" r="1.5"/><circle cx="202.8" cy="1068.4" r="1.5"/><circle cx="203.6" cy="1077.7" r="1.5"/><circle cx="216.1" cy="1103.5" r="1.5"/><circle cx="218.3" cy="1075.9" r="1.5"/><circle cx="205.9" cy="1086.8" r="1.5"/><circle cx="204.8" cy="1085.5" r="1.5"/><circle cx="204.0" cy="1097.5" r="1.5"/><circle cx="203.7" cy="1072.4" r="1.5"/><circle cx="219.1" cy="1116.9" r="1.5"/><circle cx="207.7" cy="1080.5" r="1.5"/><circle cx="214.5" cy="1068.1" r="1.5"/><circle cx="205.9" cy="1091.9" r="1.5"/><circle cx="208.9" cy="1083.3" r="1.5"/><circle cx="203.7" cy="1086.0" r="1.5"/><circle cx="204.5" cy="1101.5" r="1.5"/><circle cx="206.3" cy="1073.7" r="1.5"/><circle cx="229.7" cy="1070.9" r="1.5"/><circle cx="205.1" cy="1100.1" r="1.5"/><circle cx="202.8" cy="1082.9" r="1.5"/><circle cx="204.2" cy="1068.3" r="1.5"/><circle cx="204.8" cy="1068.7" r="1.5"/><circle cx="205.9" cy="1075.4" r="1.5"/><circle cx="208.3" cy="1088.6" r="1.5"/><circle cx="203.2" cy="1076.7" r="1.5"/><circle cx="218.4" cy="1105.2" r="1.5"/><circle cx="222.3" cy="1072.6" r="1.5"/><circle cx="206.5" cy="1079.2" r="1.5"/><circle cx="203.7" cy="1070.7" r="1.5"/><circle cx="210.2" cy="1093.6" r="1.5"/><circle cx="222.5" cy="1079.2" r="1.5"/><circle cx="206.9" cy="1083.9" r="1.5"/><circle cx="204.7" cy="1119.4" r="1.5"/><circle cx="221.8" cy="1102.4" r="1.5"/><circle cx="203.7" cy="1106.6" r="1.5"/><circle cx="205.3" cy="1090.0" r="1.5"/><circle cx="221.1" cy="1090.5" r="1.5"/><circle cx="204.3" cy="1070.2" r="1.5"/><circle cx="219.7" cy="1082.4" r="1.5"/><circle cx="205.1" cy="1092.4" r="1.5"/><circle cx="216.3" cy="1082.9" r="1.5"/><circle cx="204.8" cy="1101.8" r="1.5"/><circle cx="203.2" cy="1069.9" r="1.5"/><circle cx="211.3" cy="1077.0" r="1.5"/><circle cx="203.3" cy="1070.8" r="1.5"/><circle cx="205.8" cy="1084.9" r="1.5"/><circle cx="205.2" cy="1099.5" r="1.5"/><circle cx="206.2" cy="1098.6" r="1.5"/><circle cx="206.2" cy="1073.8" r="1.5"/><circle cx="204.6" cy="1089.7" r="1.5"/><circle cx="206.4" cy="1102.7" r="1.5"/><circle cx="220.7" cy="1070.6" r="1.5"/><circle cx="217.0" cy="1074.8" r="1.5"/><circle cx="207.0" cy="1092.2" r="1.5"/><circle cx="210.1" cy="1106.9" r="1.5"/><circle cx="205.1" cy="1079.2" r="1.5"/><circle cx="216.4" cy="1074.4" r="1.5"/><circle cx="204.8" cy="1081.1" r="1.5"/><circle cx="211.5" cy="1097.8" r="1.5"/></g>
<line x1="141.2" y1="1021.7" x2="724.2" y2="1021.7" stroke="#000" stroke-width="3.2" stroke-dasharray="12.6 12.7" stroke-dashoffset="3"/>
<line x1="141.2" y1="1065.3" x2="724.2" y2="1065.3" stroke="#000" stroke-width="3.2" stroke-dasharray="12.6 12.7" stroke-dashoffset="3"/>
<line x1="201.3" y1="783.0" x2="201.3" y2="1304.6" stroke="#000" stroke-width="3.2" stroke-dasharray="12.6 12.7" stroke-dashoffset="-5.2"/>
</g>
<rect x="141.2" y="783.0" width="583.0" height="521.6" fill="none" stroke="#000" stroke-width="1.6"/>
<line x1="131.0" y1="825.7" x2="141.2" y2="825.7" stroke="#000" stroke-width="1.6"/>
<text x="113.2" y="828.2" font-size="24.5" text-anchor="middle" stroke="#000" stroke-width="0.3" transform="rotate(-90 113.2 828.2)">10</text>
<line x1="131.0" y1="934.6" x2="141.2" y2="934.6" stroke="#000" stroke-width="1.6"/>
<text x="113.2" y="937.1" font-size="24.5" text-anchor="middle" stroke="#000" stroke-width="0.3" transform="rotate(-90 113.2 937.1)">5</text>
<line x1="131.0" y1="1043.5" x2="141.2" y2="1043.5" stroke="#000" stroke-width="1.6"/>
<text x="113.2" y="1046.0" font-size="24.5" text-anchor="middle" stroke="#000" stroke-width="0.3" transform="rotate(-90 113.2 1046.0)">0</text>
<line x1="131.0" y1="1152.4" x2="141.2" y2="1152.4" stroke="#000" stroke-width="1.6"/>
<text x="113.2" y="1154.9" font-size="24.5" text-anchor="middle" stroke="#000" stroke-width="0.3" transform="rotate(-90 113.2 1154.9)">-5</text>
<line x1="131.0" y1="1261.3" x2="141.2" y2="1261.3" stroke="#000" stroke-width="1.6"/>
<text x="113.2" y="1263.8" font-size="24.5" text-anchor="middle" stroke="#000" stroke-width="0.3" transform="rotate(-90 113.2 1263.8)">-10</text>
<line x1="162.9" y1="1304.6" x2="162.9" y2="1314.8" stroke="#000" stroke-width="1.6"/>
<text x="162.9" y="1347.6" font-size="24.5" text-anchor="middle" stroke="#000" stroke-width="0.3">0</text>
<line x1="311.1" y1="1304.6" x2="311.1" y2="1314.8" stroke="#000" stroke-width="1.6"/>
<text x="311.1" y="1347.6" font-size="24.5" text-anchor="middle" stroke="#000" stroke-width="0.3">5</text>
<line x1="459.3" y1="1304.6" x2="459.3" y2="1314.8" stroke="#000" stroke-width="1.6"/>
<text x="459.3" y="1347.6" font-size="24.5" text-anchor="middle" stroke="#000" stroke-width="0.3">10</text>
<line x1="607.5" y1="1304.6" x2="607.5" y2="1314.8" stroke="#000" stroke-width="1.6"/>
<text x="607.5" y="1347.6" font-size="24.5" text-anchor="middle" stroke="#000" stroke-width="0.3">15</text>
<text x="448.8" y="1381.8" font-size="24.5" text-anchor="middle" stroke="#000" stroke-width="0.3">-log10(FDR)</text>
<text x="71.5" y="1042.5" font-size="24.5" text-anchor="middle" stroke="#000" stroke-width="0.3" transform="rotate(-90 71.5 1042.5)">log2(FC)</text>
<text x="631.9" y="1490.8" font-size="25" font-weight="bold">ZWINT</text>
<text x="746.6" y="1526.7" font-size="25.3" text-anchor="middle" stroke="#000" stroke-width="0.3"><tspan font-style="italic">P</tspan> &lt; 0.001</text>
<path d="M712.3 1549.4V1535.4H780.9V1549.4" fill="none" stroke="#000" stroke-width="1.6"/>
<line x1="712.3" y1="1617.4" x2="712.3" y2="1773.2" stroke="#333333" stroke-width="1.6"/>
<line x1="712.3" y1="1892.7" x2="712.3" y2="1995.6" stroke="#333333" stroke-width="1.6"/>
<rect x="686.5" y="1773.2" width="51.6" height="119.5" fill="#EE7670" stroke="#333333" stroke-width="1.6"/>
<line x1="686.5" y1="1831.1" x2="738.1" y2="1831.1" stroke="#333333" stroke-width="3.4"/>
<circle cx="712.3" cy="1556.9" r="4.1" fill="#333333"/>
<line x1="780.9" y1="1560.7" x2="780.9" y2="1611.0" stroke="#333333" stroke-width="1.6"/>
<line x1="780.9" y1="1774.4" x2="780.9" y2="1870.8" stroke="#333333" stroke-width="1.6"/>
<rect x="755.1" y="1611.0" width="51.6" height="163.4" fill="#2BBAB8" stroke="#333333" stroke-width="1.6"/>
<line x1="755.1" y1="1719.5" x2="806.7" y2="1719.5" stroke="#333333" stroke-width="3.4"/>
<path d="M671.1 1512.8V2018.6H822.1" fill="none" stroke="#000" stroke-width="2"/>
<line x1="666.6" y1="1521.8" x2="671.1" y2="1521.8" stroke="#333" stroke-width="1.8"/>
<text x="661.3" y="1530.7" font-size="25.5" text-anchor="end" fill="#444444" stroke="#444444" stroke-width="0.3">6</text>
<line x1="666.6" y1="1710.1" x2="671.1" y2="1710.1" stroke="#333" stroke-width="1.8"/>
<text x="661.3" y="1719.0" font-size="25.5" text-anchor="end" fill="#444444" stroke="#444444" stroke-width="0.3">4</text>
<line x1="666.6" y1="1898.4" x2="671.1" y2="1898.4" stroke="#333" stroke-width="1.8"/>
<text x="661.3" y="1907.3" font-size="25.5" text-anchor="end" fill="#444444" stroke="#444444" stroke-width="0.3">2</text>
<line x1="712.3" y1="2018.6" x2="712.3" y2="2023.6" stroke="#333" stroke-width="1.8"/>
<text x="715.6" y="2055.6" font-size="26" text-anchor="middle" fill="#161616" stroke="#161616" stroke-width="0.3">M0</text>
<line x1="780.9" y1="2018.6" x2="780.9" y2="2023.6" stroke="#333" stroke-width="1.8"/>
<text x="784.2" y="2055.6" font-size="26" text-anchor="middle" fill="#161616" stroke="#161616" stroke-width="0.3">M1</text>
<text x="834.2" y="1490.8" font-size="25" font-weight="bold">CDK1</text>
<text x="944.8" y="1526.7" font-size="25.3" text-anchor="middle" stroke="#000" stroke-width="0.3"><tspan font-style="italic">P</tspan> &lt; 0.001</text>
<path d="M910.5 1549.4V1535.4H979.0V1549.4" fill="none" stroke="#000" stroke-width="1.6"/>
<line x1="910.5" y1="1556.9" x2="910.5" y2="1751.7" stroke="#333333" stroke-width="1.6"/>
<line x1="910.5" y1="1906.0" x2="910.5" y2="1995.6" stroke="#333333" stroke-width="1.6"/>
<rect x="884.7" y="1751.7" width="51.6" height="154.3" fill="#EE7670" stroke="#333333" stroke-width="1.6"/>
<line x1="884.7" y1="1816.0" x2="936.2" y2="1816.0" stroke="#333333" stroke-width="3.4"/>
<line x1="979.0" y1="1568.3" x2="979.0" y2="1607.2" stroke="#333333" stroke-width="1.6"/>
<line x1="979.0" y1="1747.2" x2="979.0" y2="1819.8" stroke="#333333" stroke-width="1.6"/>
<rect x="953.2" y="1607.2" width="51.6" height="140.0" fill="#2BBAB8" stroke="#333333" stroke-width="1.6"/>
<line x1="953.2" y1="1662.8" x2="1004.8" y2="1662.8" stroke="#333333" stroke-width="3.4"/>
<path d="M869.2 1512.8V2018.6H1020.2" fill="none" stroke="#000" stroke-width="2"/>
<line x1="864.8" y1="1666.6" x2="869.2" y2="1666.6" stroke="#333" stroke-width="1.8"/>
<text x="859.5" y="1675.5" font-size="25.5" text-anchor="end" fill="#444444" stroke="#444444" stroke-width="0.3">4</text>
<line x1="864.8" y1="1838.7" x2="869.2" y2="1838.7" stroke="#333" stroke-width="1.8"/>
<text x="859.5" y="1847.6" font-size="25.5" text-anchor="end" fill="#444444" stroke="#444444" stroke-width="0.3">2</text>
<line x1="864.8" y1="2010.7" x2="869.2" y2="2010.7" stroke="#333" stroke-width="1.8"/>
<text x="859.5" y="2019.6" font-size="25.5" text-anchor="end" fill="#444444" stroke="#444444" stroke-width="0.3">0</text>
<line x1="910.5" y1="2018.6" x2="910.5" y2="2023.6" stroke="#333" stroke-width="1.8"/>
<text x="913.8" y="2055.6" font-size="26" text-anchor="middle" fill="#161616" stroke="#161616" stroke-width="0.3">M0</text>
<line x1="979.0" y1="2018.6" x2="979.0" y2="2023.6" stroke="#333" stroke-width="1.8"/>
<text x="982.3" y="2055.6" font-size="26" text-anchor="middle" fill="#161616" stroke="#161616" stroke-width="0.3">M1</text>
<text x="1032.4" y="1490.8" font-size="25" font-weight="bold">CCNB1</text>
<text x="1142.9" y="1526.7" font-size="25.3" text-anchor="middle" stroke="#000" stroke-width="0.3"><tspan font-style="italic">P</tspan> &lt; 0.001</text>
<path d="M1108.6 1549.4V1535.4H1177.2V1549.4" fill="none" stroke="#000" stroke-width="1.6"/>
<line x1="1108.6" y1="1557.0" x2="1108.6" y2="1724.5" stroke="#333333" stroke-width="1.6"/>
<line x1="1108.6" y1="1867.8" x2="1108.6" y2="1995.6" stroke="#333333" stroke-width="1.6"/>
<rect x="1082.8" y="1724.5" width="51.6" height="143.3" fill="#EE7670" stroke="#333333" stroke-width="1.6"/>
<line x1="1082.8" y1="1792.5" x2="1134.4" y2="1792.5" stroke="#333333" stroke-width="3.4"/>
<line x1="1177.2" y1="1584.5" x2="1177.2" y2="1618.6" stroke="#333333" stroke-width="1.6"/>
<line x1="1177.2" y1="1730.9" x2="1177.2" y2="1858.7" stroke="#333333" stroke-width="1.6"/>
<rect x="1151.4" y="1618.6" width="51.6" height="112.3" fill="#2BBAB8" stroke="#333333" stroke-width="1.6"/>
<line x1="1151.4" y1="1643.2" x2="1203.0" y2="1643.2" stroke="#333333" stroke-width="3.4"/>
<path d="M1067.4 1512.8V2018.6H1218.4" fill="none" stroke="#000" stroke-width="2"/>
<line x1="1062.9" y1="1572.8" x2="1067.4" y2="1572.8" stroke="#333" stroke-width="1.8"/>
<text x="1057.6" y="1581.7" font-size="25.5" text-anchor="end" fill="#444444" stroke="#444444" stroke-width="0.3">6</text>
<line x1="1062.9" y1="1663.6" x2="1067.4" y2="1663.6" stroke="#333" stroke-width="1.8"/>
<text x="1057.6" y="1672.5" font-size="25.5" text-anchor="end" fill="#444444" stroke="#444444" stroke-width="0.3">5</text>
<line x1="1062.9" y1="1753.6" x2="1067.4" y2="1753.6" stroke="#333" stroke-width="1.8"/>
<text x="1057.6" y="1762.5" font-size="25.5" text-anchor="end" fill="#444444" stroke="#444444" stroke-width="0.3">4</text>
<line x1="1062.9" y1="1843.2" x2="1067.4" y2="1843.2" stroke="#333" stroke-width="1.8"/>
<text x="1057.6" y="1852.1" font-size="25.5" text-anchor="end" fill="#444444" stroke="#444444" stroke-width="0.3">3</text>
<line x1="1062.9" y1="1933.2" x2="1067.4" y2="1933.2" stroke="#333" stroke-width="1.8"/>
<text x="1057.6" y="1942.1" font-size="25.5" text-anchor="end" fill="#444444" stroke="#444444" stroke-width="0.3">2</text>
<line x1="1108.6" y1="2018.6" x2="1108.6" y2="2023.6" stroke="#333" stroke-width="1.8"/>
<text x="1111.9" y="2055.6" font-size="26" text-anchor="middle" fill="#161616" stroke="#161616" stroke-width="0.3">M0</text>
<line x1="1177.2" y1="2018.6" x2="1177.2" y2="2023.6" stroke="#333" stroke-width="1.8"/>
<text x="1180.5" y="2055.6" font-size="26" text-anchor="middle" fill="#161616" stroke="#161616" stroke-width="0.3">M1</text>
<text x="1230.6" y="1490.8" font-size="25" font-weight="bold">TPX2</text>
<text x="1341.1" y="1526.7" font-size="25.3" text-anchor="middle" stroke="#000" stroke-width="0.3"><tspan font-style="italic">P</tspan> &lt; 0.001</text>
<path d="M1306.8 1549.4V1535.4H1375.4V1549.4" fill="none" stroke="#000" stroke-width="1.6"/>
<line x1="1306.8" y1="1696.1" x2="1306.8" y2="1784.7" stroke="#333333" stroke-width="1.6"/>
<line x1="1306.8" y1="1910.0" x2="1306.8" y2="1995.2" stroke="#333333" stroke-width="1.6"/>
<rect x="1281.0" y="1784.7" width="51.6" height="125.3" fill="#EE7670" stroke="#333333" stroke-width="1.6"/>
<line x1="1281.0" y1="1827.9" x2="1332.6" y2="1827.9" stroke="#333333" stroke-width="3.4"/>
<circle cx="1306.8" cy="1557.8" r="4.1" fill="#333333"/>
<line x1="1375.4" y1="1639.9" x2="1375.4" y2="1680.1" stroke="#333333" stroke-width="1.6"/>
<line x1="1375.4" y1="1762.2" x2="1375.4" y2="1837.9" stroke="#333333" stroke-width="1.6"/>
<rect x="1349.6" y="1680.1" width="51.6" height="82.1" fill="#2BBAB8" stroke="#333333" stroke-width="1.6"/>
<line x1="1349.6" y1="1730.7" x2="1401.2" y2="1730.7" stroke="#333333" stroke-width="3.4"/>
<path d="M1265.6 1512.8V2018.6H1416.6" fill="none" stroke="#000" stroke-width="2"/>
<line x1="1261.1" y1="1601.0" x2="1265.6" y2="1601.0" stroke="#333" stroke-width="1.8"/>
<text x="1255.8" y="1609.9" font-size="25.5" text-anchor="end" fill="#444444" stroke="#444444" stroke-width="0.3">6</text>
<line x1="1261.1" y1="1752.3" x2="1265.6" y2="1752.3" stroke="#333" stroke-width="1.8"/>
<text x="1255.8" y="1761.2" font-size="25.5" text-anchor="end" fill="#444444" stroke="#444444" stroke-width="0.3">4</text>
<line x1="1261.1" y1="1904.4" x2="1265.6" y2="1904.4" stroke="#333" stroke-width="1.8"/>
<text x="1255.8" y="1913.3" font-size="25.5" text-anchor="end" fill="#444444" stroke="#444444" stroke-width="0.3">2</text>
<line x1="1306.8" y1="2018.6" x2="1306.8" y2="2023.6" stroke="#333" stroke-width="1.8"/>
<text x="1310.1" y="2055.6" font-size="26" text-anchor="middle" fill="#161616" stroke="#161616" stroke-width="0.3">M0</text>
<line x1="1375.4" y1="2018.6" x2="1375.4" y2="2023.6" stroke="#333" stroke-width="1.8"/>
<text x="1378.7" y="2055.6" font-size="26" text-anchor="middle" fill="#161616" stroke="#161616" stroke-width="0.3">M1</text>
<text x="1428.7" y="1490.8" font-size="25" font-weight="bold">TYMS</text>
<text x="1539.2" y="1526.7" font-size="25.3" text-anchor="middle" stroke="#000" stroke-width="0.3"><tspan font-style="italic">P</tspan> &lt; 0.001</text>
<path d="M1504.9 1549.4V1535.4H1573.5V1549.4" fill="none" stroke="#000" stroke-width="1.6"/>
<line x1="1504.9" y1="1684.4" x2="1504.9" y2="1808.5" stroke="#333333" stroke-width="1.6"/>
<line x1="1504.9" y1="1898.4" x2="1504.9" y2="1995.2" stroke="#333333" stroke-width="1.6"/>
<rect x="1479.1" y="1808.5" width="51.6" height="89.9" fill="#EE7670" stroke="#333333" stroke-width="1.6"/>
<line x1="1479.1" y1="1853.9" x2="1530.7" y2="1853.9" stroke="#333333" stroke-width="3.4"/>
<circle cx="1504.9" cy="1557.8" r="4.1" fill="#333333"/>
<circle cx="1504.9" cy="1650.7" r="4.1" fill="#333333"/>
<line x1="1573.5" y1="1611.8" x2="1573.5" y2="1678.8" stroke="#333333" stroke-width="1.6"/>
<line x1="1573.5" y1="1821.4" x2="1573.5" y2="1926.5" stroke="#333333" stroke-width="1.6"/>
<rect x="1547.7" y="1678.8" width="51.6" height="142.6" fill="#2BBAB8" stroke="#333333" stroke-width="1.6"/>
<line x1="1547.7" y1="1729.8" x2="1599.3" y2="1729.8" stroke="#333333" stroke-width="3.4"/>
<path d="M1463.7 1512.8V2018.6H1614.7" fill="none" stroke="#000" stroke-width="2"/>
<line x1="1459.2" y1="1561.2" x2="1463.7" y2="1561.2" stroke="#333" stroke-width="1.8"/>
<text x="1453.9" y="1570.1" font-size="25.5" text-anchor="end" fill="#444444" stroke="#444444" stroke-width="0.3">6</text>
<line x1="1459.2" y1="1718.6" x2="1463.7" y2="1718.6" stroke="#333" stroke-width="1.8"/>
<text x="1453.9" y="1727.5" font-size="25.5" text-anchor="end" fill="#444444" stroke="#444444" stroke-width="0.3">4</text>
<line x1="1459.2" y1="1875.5" x2="1463.7" y2="1875.5" stroke="#333" stroke-width="1.8"/>
<text x="1453.9" y="1884.4" font-size="25.5" text-anchor="end" fill="#444444" stroke="#444444" stroke-width="0.3">2</text>
<line x1="1504.9" y1="2018.6" x2="1504.9" y2="2023.6" stroke="#333" stroke-width="1.8"/>
<text x="1508.2" y="2055.6" font-size="26" text-anchor="middle" fill="#161616" stroke="#161616" stroke-width="0.3">M0</text>
<line x1="1573.5" y1="2018.6" x2="1573.5" y2="2023.6" stroke="#333" stroke-width="1.8"/>
<text x="1576.8" y="2055.6" font-size="26" text-anchor="middle" fill="#161616" stroke="#161616" stroke-width="0.3">M1</text>
<text x="1626.8" y="1490.8" font-size="25" font-weight="bold">CCNA2</text>
<text x="1737.3" y="1526.7" font-size="25.3" text-anchor="middle" stroke="#000" stroke-width="0.3"><tspan font-style="italic">P</tspan> &lt; 0.001</text>
<path d="M1703.0 1549.4V1535.4H1771.6V1549.4" fill="none" stroke="#000" stroke-width="1.6"/>
<line x1="1703.0" y1="1681.0" x2="1703.0" y2="1802.0" stroke="#333333" stroke-width="1.6"/>
<line x1="1703.0" y1="1940.3" x2="1703.0" y2="1995.2" stroke="#333333" stroke-width="1.6"/>
<rect x="1677.2" y="1802.0" width="51.6" height="138.3" fill="#EE7670" stroke="#333333" stroke-width="1.6"/>
<line x1="1677.2" y1="1863.8" x2="1728.8" y2="1863.8" stroke="#333333" stroke-width="3.4"/>
<circle cx="1703.0" cy="1557.8" r="4.1" fill="#333333"/>
<line x1="1771.6" y1="1627.8" x2="1771.6" y2="1693.9" stroke="#333333" stroke-width="1.6"/>
<line x1="1771.6" y1="1828.8" x2="1771.6" y2="1889.7" stroke="#333333" stroke-width="1.6"/>
<rect x="1745.8" y="1693.9" width="51.6" height="134.9" fill="#2BBAB8" stroke="#333333" stroke-width="1.6"/>
<line x1="1745.8" y1="1751.0" x2="1797.4" y2="1751.0" stroke="#333333" stroke-width="3.4"/>
<path d="M1661.8 1512.8V2018.6H1812.8" fill="none" stroke="#000" stroke-width="2"/>
<line x1="1657.3" y1="1538.3" x2="1661.8" y2="1538.3" stroke="#333" stroke-width="1.8"/>
<text x="1652.0" y="1547.2" font-size="25.5" text-anchor="end" fill="#444444" stroke="#444444" stroke-width="0.3">6</text>
<line x1="1657.3" y1="1701.3" x2="1661.8" y2="1701.3" stroke="#333" stroke-width="1.8"/>
<text x="1652.0" y="1710.2" font-size="25.5" text-anchor="end" fill="#444444" stroke="#444444" stroke-width="0.3">4</text>
<line x1="1657.3" y1="1863.8" x2="1661.8" y2="1863.8" stroke="#333" stroke-width="1.8"/>
<text x="1652.0" y="1872.7" font-size="25.5" text-anchor="end" fill="#444444" stroke="#444444" stroke-width="0.3">2</text>
<line x1="1703.0" y1="2018.6" x2="1703.0" y2="2023.6" stroke="#333" stroke-width="1.8"/>
<text x="1706.3" y="2055.6" font-size="26" text-anchor="middle" fill="#161616" stroke="#161616" stroke-width="0.3">M0</text>
<line x1="1771.6" y1="2018.6" x2="1771.6" y2="2023.6" stroke="#333" stroke-width="1.8"/>
<text x="1774.9" y="2055.6" font-size="26" text-anchor="middle" fill="#161616" stroke="#161616" stroke-width="0.3">M1</text>
<text x="1825.0" y="1490.8" font-size="25" font-weight="bold">BIRC5</text>
<text x="1935.5" y="1526.7" font-size="25.3" text-anchor="middle" stroke="#000" stroke-width="0.3"><tspan font-style="italic">P</tspan> = 0.002</text>
<path d="M1901.2 1549.4V1535.4H1969.8V1549.4" fill="none" stroke="#000" stroke-width="1.6"/>
<line x1="1901.2" y1="1557.8" x2="1901.2" y2="1789.0" stroke="#333333" stroke-width="1.6"/>
<line x1="1901.2" y1="1954.6" x2="1901.2" y2="1995.2" stroke="#333333" stroke-width="1.6"/>
<rect x="1875.4" y="1789.0" width="51.6" height="165.6" fill="#EE7670" stroke="#333333" stroke-width="1.6"/>
<line x1="1875.4" y1="1866.4" x2="1927.0" y2="1866.4" stroke="#333333" stroke-width="3.4"/>
<line x1="1969.8" y1="1616.1" x2="1969.8" y2="1652.9" stroke="#333333" stroke-width="1.6"/>
<line x1="1969.8" y1="1839.6" x2="1969.8" y2="1934.7" stroke="#333333" stroke-width="1.6"/>
<rect x="1944.0" y="1652.9" width="51.6" height="186.7" fill="#2BBAB8" stroke="#333333" stroke-width="1.6"/>
<line x1="1944.0" y1="1730.7" x2="1995.6" y2="1730.7" stroke="#333333" stroke-width="3.4"/>
<path d="M1860.0 1512.8V2018.6H2011.0" fill="none" stroke="#000" stroke-width="2"/>
<line x1="1855.5" y1="1671.0" x2="1860.0" y2="1671.0" stroke="#333" stroke-width="1.8"/>
<text x="1850.2" y="1679.9" font-size="25.5" text-anchor="end" fill="#444444" stroke="#444444" stroke-width="0.3">4</text>
<line x1="1855.5" y1="1840.9" x2="1860.0" y2="1840.9" stroke="#333" stroke-width="1.8"/>
<text x="1850.2" y="1849.8" font-size="25.5" text-anchor="end" fill="#444444" stroke="#444444" stroke-width="0.3">2</text>
<line x1="1855.5" y1="2010.8" x2="1860.0" y2="2010.8" stroke="#333" stroke-width="1.8"/>
<text x="1850.2" y="2019.7" font-size="25.5" text-anchor="end" fill="#444444" stroke="#444444" stroke-width="0.3">0</text>
<line x1="1901.2" y1="2018.6" x2="1901.2" y2="2023.6" stroke="#333" stroke-width="1.8"/>
<text x="1904.5" y="2055.6" font-size="26" text-anchor="middle" fill="#161616" stroke="#161616" stroke-width="0.3">M0</text>
<line x1="1969.8" y1="2018.6" x2="1969.8" y2="2023.6" stroke="#333" stroke-width="1.8"/>
<text x="1973.1" y="2055.6" font-size="26" text-anchor="middle" fill="#161616" stroke="#161616" stroke-width="0.3">M1</text>
<text x="636.3" y="1776.3" font-size="25" text-anchor="middle" stroke="#000" stroke-width="0.3" transform="rotate(-90 636.3 1776.3)">log2(FPKM+1)</text>
<g>
<circle cx="206" cy="1678" r="194" fill="#4A7BC8" fill-opacity="0.55"/>
<circle cx="396.8" cy="1678" r="194" fill="#F7B44A" fill-opacity="0.55"/>
<circle cx="301.7" cy="1843.3" r="194" fill="#F28A4A" fill-opacity="0.6"/>
</g>
<text x="137.6" y="1545.0" font-size="24.2" text-anchor="middle" fill="#4A80C2" stroke="#4A80C2" stroke-width="0.3">GS &gt; 0.2</text>
<text x="137.4" y="1574.0" font-size="24.2" text-anchor="middle" fill="#4A80C2" stroke="#4A80C2" stroke-width="0.3">MM &gt; 0.8</text>
<text x="456.4" y="1568.2" font-size="24.2" text-anchor="middle" fill="#F2B64A" stroke="#F2B64A" stroke-width="0.3">Degree &gt; 20</text>
<text x="306.9" y="2002.5" font-size="24.2" text-anchor="middle" fill="#F07F3C" stroke="#F07F3C" stroke-width="0.3">DEGs</text>
<text x="304.4" y="1584.3" font-size="25" text-anchor="middle" stroke="#000" stroke-width="0.3">7</text>
<text x="122.9" y="1666.7" font-size="25" text-anchor="middle" stroke="#000" stroke-width="0.3">6</text>
<text x="487.7" y="1666.7" font-size="25" text-anchor="middle" stroke="#000" stroke-width="0.3">34</text>
<text x="304.4" y="1738.1" font-size="25" text-anchor="middle" stroke="#000" stroke-width="0.3">7</text>
<text x="170.5" y="1815.4" font-size="25" text-anchor="middle" stroke="#000" stroke-width="0.3">2</text>
<text x="437.2" y="1815.4" font-size="25" text-anchor="middle" stroke="#000" stroke-width="0.3">6</text>
<text x="303.8" y="1931.0" font-size="25" text-anchor="middle" stroke="#000" stroke-width="0.3">471</text>
</svg></body></html>
